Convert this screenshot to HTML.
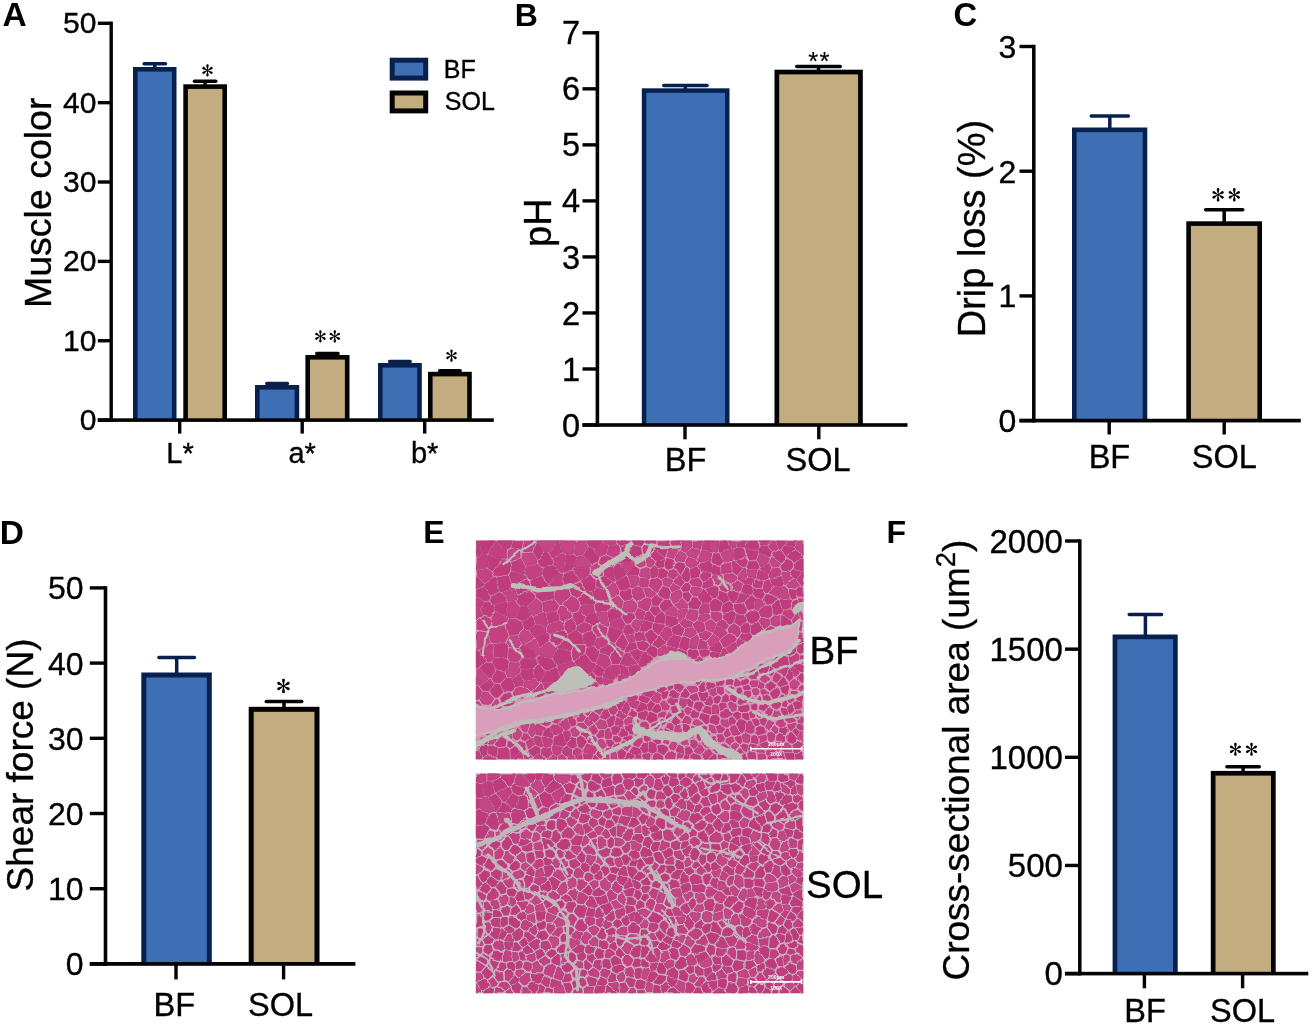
<!DOCTYPE html>
<html><head><meta charset="utf-8"><title>Figure</title>
<style>html,body{margin:0;padding:0;background:#fff;}svg{display:block;will-change:transform;}</style>
</head><body>
<svg width="1316" height="1029" viewBox="0 0 1316 1029">
<rect x="0" y="0" width="1316" height="1029" fill="#ffffff"/>
<text x="2.6" y="26.4" font-family="Liberation Sans" font-size="33.5" font-weight="bold" text-anchor="start" fill="#000">A</text>
<text x="96.4" y="33.4" font-family="Liberation Sans" font-size="30" font-weight="normal" text-anchor="end" fill="#000" stroke="#000" stroke-width="0.35">50</text>
<text x="96.4" y="112.76" font-family="Liberation Sans" font-size="30" font-weight="normal" text-anchor="end" fill="#000" stroke="#000" stroke-width="0.35">40</text>
<text x="96.4" y="192.12" font-family="Liberation Sans" font-size="30" font-weight="normal" text-anchor="end" fill="#000" stroke="#000" stroke-width="0.35">30</text>
<text x="96.4" y="271.48" font-family="Liberation Sans" font-size="30" font-weight="normal" text-anchor="end" fill="#000" stroke="#000" stroke-width="0.35">20</text>
<text x="96.4" y="350.84" font-family="Liberation Sans" font-size="30" font-weight="normal" text-anchor="end" fill="#000" stroke="#000" stroke-width="0.35">10</text>
<text x="96.4" y="430.2" font-family="Liberation Sans" font-size="30" font-weight="normal" text-anchor="end" fill="#000" stroke="#000" stroke-width="0.35">0</text>
<text transform="translate(50.6 202.8) rotate(-90)" font-family="Liberation Sans" font-size="37.5" text-anchor="middle" fill="#000" stroke="#000" stroke-width="0.35">Muscle color</text>
<rect x="133" y="67" width="43.5" height="353" fill="#08204e"/>
<rect x="137.6" y="71.6" width="34.3" height="348.4" fill="#3e6eb3"/>
<rect x="183.3" y="84.3" width="43.7" height="335.7" fill="#030303"/>
<rect x="187.9" y="88.9" width="34.5" height="331.1" fill="#c3ac80"/>
<rect x="255" y="385" width="44.2" height="35" fill="#08204e"/>
<rect x="259.6" y="389.6" width="35" height="30.4" fill="#3e6eb3"/>
<rect x="305.4" y="355" width="44.1" height="65" fill="#030303"/>
<rect x="310" y="359.6" width="34.9" height="60.4" fill="#c3ac80"/>
<rect x="378" y="363" width="43.8" height="57" fill="#08204e"/>
<rect x="382.6" y="367.6" width="34.6" height="52.4" fill="#3e6eb3"/>
<rect x="428" y="371.8" width="43.8" height="48.2" fill="#030303"/>
<rect x="432.6" y="376.4" width="34.6" height="43.6" fill="#c3ac80"/>
<line x1="144.15" y1="63.7" x2="165.45" y2="63.7" stroke="#08204e" stroke-width="3.5" stroke-linecap="round"/>
<rect x="153.05" y="63.7" width="3.5" height="4.3" fill="#08204e"/>
<line x1="194.45" y1="81.2" x2="215.75" y2="81.2" stroke="#030303" stroke-width="3.5" stroke-linecap="round"/>
<rect x="203.35" y="81.2" width="3.5" height="4.1" fill="#030303"/>
<line x1="266.85" y1="383.5" x2="287.35" y2="383.5" stroke="#08204e" stroke-width="3.5" stroke-linecap="round"/>
<line x1="316.75" y1="353.5" x2="338.05" y2="353.5" stroke="#030303" stroke-width="3.5" stroke-linecap="round"/>
<line x1="389.65" y1="361.6" x2="410.15" y2="361.6" stroke="#08204e" stroke-width="3.5" stroke-linecap="round"/>
<line x1="439.65" y1="370.8" x2="460.15" y2="370.8" stroke="#030303" stroke-width="3.5" stroke-linecap="round"/>
<text x="180" y="463.2" font-family="Liberation Sans" font-size="29" font-weight="normal" text-anchor="middle" fill="#000" stroke="#000" stroke-width="0.35">L*</text>
<text x="302.1" y="463.2" font-family="Liberation Sans" font-size="29" font-weight="normal" text-anchor="middle" fill="#000" stroke="#000" stroke-width="0.35">a*</text>
<text x="424.6" y="463.2" font-family="Liberation Sans" font-size="29" font-weight="normal" text-anchor="middle" fill="#000" stroke="#000" stroke-width="0.35">b*</text>
<rect x="389.7" y="57.7" width="38.5" height="22.9" fill="#08204e"/>
<rect x="394.7" y="62.7" width="28.5" height="12.9" fill="#3e6eb3"/>
<rect x="389.7" y="90.5" width="38.5" height="22.9" fill="#030303"/>
<rect x="394.7" y="95.5" width="28.5" height="12.9" fill="#c3ac80"/>
<text x="443.8" y="77.5" font-family="Liberation Sans" font-size="25" font-weight="normal" text-anchor="start" fill="#000" stroke="#000" stroke-width="0.35">BF</text>
<text x="444.8" y="110.3" font-family="Liberation Sans" font-size="25" font-weight="normal" text-anchor="start" fill="#000" stroke="#000" stroke-width="0.35">SOL</text>
<g transform="translate(207.5 70.4)" fill="#000"><path transform="rotate(0)" d="M-0.29 0C-0.46 -2.59 -1.21 -3.7 -1.21 -4.95A1.21 1.21 0 0 1 1.21 -4.95C1.21 -3.7 0.46 -2.59 0.29 0Z"/><path transform="rotate(60)" d="M-0.29 0C-0.46 -2.45 -1.21 -3.51 -1.21 -4.63A1.21 1.21 0 0 1 1.21 -4.63C1.21 -3.51 0.46 -2.45 0.29 0Z"/><path transform="rotate(120)" d="M-0.29 0C-0.46 -2.45 -1.21 -3.51 -1.21 -4.63A1.21 1.21 0 0 1 1.21 -4.63C1.21 -3.51 0.46 -2.45 0.29 0Z"/><path transform="rotate(180)" d="M-0.29 0C-0.46 -2.59 -1.21 -3.7 -1.21 -4.95A1.21 1.21 0 0 1 1.21 -4.95C1.21 -3.7 0.46 -2.59 0.29 0Z"/><path transform="rotate(240)" d="M-0.29 0C-0.46 -2.45 -1.21 -3.51 -1.21 -4.63A1.21 1.21 0 0 1 1.21 -4.63C1.21 -3.51 0.46 -2.45 0.29 0Z"/><path transform="rotate(300)" d="M-0.29 0C-0.46 -2.45 -1.21 -3.51 -1.21 -4.63A1.21 1.21 0 0 1 1.21 -4.63C1.21 -3.51 0.46 -2.45 0.29 0Z"/><circle r="0.92"/></g>
<g transform="translate(320.4 336.3)" fill="#000"><path transform="rotate(0)" d="M-0.29 0C-0.46 -2.59 -1.21 -3.7 -1.21 -4.95A1.21 1.21 0 0 1 1.21 -4.95C1.21 -3.7 0.46 -2.59 0.29 0Z"/><path transform="rotate(60)" d="M-0.29 0C-0.46 -2.45 -1.21 -3.51 -1.21 -4.63A1.21 1.21 0 0 1 1.21 -4.63C1.21 -3.51 0.46 -2.45 0.29 0Z"/><path transform="rotate(120)" d="M-0.29 0C-0.46 -2.45 -1.21 -3.51 -1.21 -4.63A1.21 1.21 0 0 1 1.21 -4.63C1.21 -3.51 0.46 -2.45 0.29 0Z"/><path transform="rotate(180)" d="M-0.29 0C-0.46 -2.59 -1.21 -3.7 -1.21 -4.95A1.21 1.21 0 0 1 1.21 -4.95C1.21 -3.7 0.46 -2.59 0.29 0Z"/><path transform="rotate(240)" d="M-0.29 0C-0.46 -2.45 -1.21 -3.51 -1.21 -4.63A1.21 1.21 0 0 1 1.21 -4.63C1.21 -3.51 0.46 -2.45 0.29 0Z"/><path transform="rotate(300)" d="M-0.29 0C-0.46 -2.45 -1.21 -3.51 -1.21 -4.63A1.21 1.21 0 0 1 1.21 -4.63C1.21 -3.51 0.46 -2.45 0.29 0Z"/><circle r="0.92"/></g>
<g transform="translate(334.8 336.3)" fill="#000"><path transform="rotate(0)" d="M-0.29 0C-0.46 -2.59 -1.21 -3.7 -1.21 -4.95A1.21 1.21 0 0 1 1.21 -4.95C1.21 -3.7 0.46 -2.59 0.29 0Z"/><path transform="rotate(60)" d="M-0.29 0C-0.46 -2.45 -1.21 -3.51 -1.21 -4.63A1.21 1.21 0 0 1 1.21 -4.63C1.21 -3.51 0.46 -2.45 0.29 0Z"/><path transform="rotate(120)" d="M-0.29 0C-0.46 -2.45 -1.21 -3.51 -1.21 -4.63A1.21 1.21 0 0 1 1.21 -4.63C1.21 -3.51 0.46 -2.45 0.29 0Z"/><path transform="rotate(180)" d="M-0.29 0C-0.46 -2.59 -1.21 -3.7 -1.21 -4.95A1.21 1.21 0 0 1 1.21 -4.95C1.21 -3.7 0.46 -2.59 0.29 0Z"/><path transform="rotate(240)" d="M-0.29 0C-0.46 -2.45 -1.21 -3.51 -1.21 -4.63A1.21 1.21 0 0 1 1.21 -4.63C1.21 -3.51 0.46 -2.45 0.29 0Z"/><path transform="rotate(300)" d="M-0.29 0C-0.46 -2.45 -1.21 -3.51 -1.21 -4.63A1.21 1.21 0 0 1 1.21 -4.63C1.21 -3.51 0.46 -2.45 0.29 0Z"/><circle r="0.92"/></g>
<g transform="translate(451.5 355.6)" fill="#000"><path transform="rotate(0)" d="M-0.29 0C-0.46 -2.59 -1.21 -3.7 -1.21 -4.95A1.21 1.21 0 0 1 1.21 -4.95C1.21 -3.7 0.46 -2.59 0.29 0Z"/><path transform="rotate(60)" d="M-0.29 0C-0.46 -2.45 -1.21 -3.51 -1.21 -4.63A1.21 1.21 0 0 1 1.21 -4.63C1.21 -3.51 0.46 -2.45 0.29 0Z"/><path transform="rotate(120)" d="M-0.29 0C-0.46 -2.45 -1.21 -3.51 -1.21 -4.63A1.21 1.21 0 0 1 1.21 -4.63C1.21 -3.51 0.46 -2.45 0.29 0Z"/><path transform="rotate(180)" d="M-0.29 0C-0.46 -2.59 -1.21 -3.7 -1.21 -4.95A1.21 1.21 0 0 1 1.21 -4.95C1.21 -3.7 0.46 -2.59 0.29 0Z"/><path transform="rotate(240)" d="M-0.29 0C-0.46 -2.45 -1.21 -3.51 -1.21 -4.63A1.21 1.21 0 0 1 1.21 -4.63C1.21 -3.51 0.46 -2.45 0.29 0Z"/><path transform="rotate(300)" d="M-0.29 0C-0.46 -2.45 -1.21 -3.51 -1.21 -4.63A1.21 1.21 0 0 1 1.21 -4.63C1.21 -3.51 0.46 -2.45 0.29 0Z"/><circle r="0.92"/></g>
<text x="514.7" y="25.8" font-family="Liberation Sans" font-size="32" font-weight="bold" text-anchor="start" fill="#000">B</text>
<text x="580.1" y="44.4" font-family="Liberation Sans" font-size="32.5" font-weight="normal" text-anchor="end" fill="#000" stroke="#000" stroke-width="0.35">7</text>
<text x="580.1" y="100.43" font-family="Liberation Sans" font-size="32.5" font-weight="normal" text-anchor="end" fill="#000" stroke="#000" stroke-width="0.35">6</text>
<text x="580.1" y="156.46" font-family="Liberation Sans" font-size="32.5" font-weight="normal" text-anchor="end" fill="#000" stroke="#000" stroke-width="0.35">5</text>
<text x="580.1" y="212.49" font-family="Liberation Sans" font-size="32.5" font-weight="normal" text-anchor="end" fill="#000" stroke="#000" stroke-width="0.35">4</text>
<text x="580.1" y="268.52" font-family="Liberation Sans" font-size="32.5" font-weight="normal" text-anchor="end" fill="#000" stroke="#000" stroke-width="0.35">3</text>
<text x="580.1" y="324.55" font-family="Liberation Sans" font-size="32.5" font-weight="normal" text-anchor="end" fill="#000" stroke="#000" stroke-width="0.35">2</text>
<text x="580.1" y="380.58" font-family="Liberation Sans" font-size="32.5" font-weight="normal" text-anchor="end" fill="#000" stroke="#000" stroke-width="0.35">1</text>
<text x="580.1" y="436.61" font-family="Liberation Sans" font-size="32.5" font-weight="normal" text-anchor="end" fill="#000" stroke="#000" stroke-width="0.35">0</text>
<text transform="translate(551.4 222.6) rotate(-90)" font-family="Liberation Sans" font-size="38" text-anchor="middle" fill="#000" stroke="#000" stroke-width="0.35">pH</text>
<rect x="641.8" y="88.3" width="87.7" height="336.7" fill="#08204e"/>
<rect x="646.3" y="92.8" width="78.7" height="332.2" fill="#3e6eb3"/>
<rect x="774.5" y="69.7" width="88.3" height="355.3" fill="#030303"/>
<rect x="779.2" y="74.4" width="78.9" height="350.6" fill="#c3ac80"/>
<line x1="663.75" y1="85.5" x2="707.05" y2="85.5" stroke="#08204e" stroke-width="3.5" stroke-linecap="round"/>
<rect x="683.65" y="85.5" width="3.5" height="3.8" fill="#08204e"/>
<line x1="796.75" y1="66.5" x2="840.25" y2="66.5" stroke="#030303" stroke-width="3.5" stroke-linecap="round"/>
<rect x="816.75" y="66.5" width="3.5" height="4.2" fill="#030303"/>
<text x="685.5" y="471.4" font-family="Liberation Sans" font-size="32.5" font-weight="normal" text-anchor="middle" fill="#000" stroke="#000" stroke-width="0.35">BF</text>
<text x="818" y="471.4" font-family="Liberation Sans" font-size="32.5" font-weight="normal" text-anchor="middle" fill="#000" stroke="#000" stroke-width="0.35">SOL</text>
<text x="813.3" y="70.4" font-family="Liberation Sans" font-size="25.5" font-weight="normal" text-anchor="middle" fill="#000" stroke="#000" stroke-width="0.15">*</text>
<text x="824.4" y="70.4" font-family="Liberation Sans" font-size="25.5" font-weight="normal" text-anchor="middle" fill="#000" stroke="#000" stroke-width="0.15">*</text>
<text x="953.4" y="26.3" font-family="Liberation Sans" font-size="32.8" font-weight="bold" text-anchor="start" fill="#000">C</text>
<text x="1016.3" y="58" font-family="Liberation Sans" font-size="32" font-weight="normal" text-anchor="end" fill="#000" stroke="#000" stroke-width="0.35">3</text>
<text x="1016.3" y="182.7" font-family="Liberation Sans" font-size="32" font-weight="normal" text-anchor="end" fill="#000" stroke="#000" stroke-width="0.35">2</text>
<text x="1016.3" y="307.4" font-family="Liberation Sans" font-size="32" font-weight="normal" text-anchor="end" fill="#000" stroke="#000" stroke-width="0.35">1</text>
<text x="1016.3" y="432.1" font-family="Liberation Sans" font-size="32" font-weight="normal" text-anchor="end" fill="#000" stroke="#000" stroke-width="0.35">0</text>
<text transform="translate(985 228.6) rotate(-90)" font-family="Liberation Sans" font-size="38" text-anchor="middle" fill="#000" stroke="#000" stroke-width="0.35">Drip loss (%)</text>
<rect x="1072" y="127.5" width="75.3" height="293.1" fill="#08204e"/>
<rect x="1076.6" y="132.1" width="66.1" height="288.5" fill="#3e6eb3"/>
<rect x="1186.3" y="221.3" width="75.7" height="199.3" fill="#030303"/>
<rect x="1190.9" y="225.9" width="66.5" height="194.7" fill="#c3ac80"/>
<line x1="1091.25" y1="116" x2="1128.35" y2="116" stroke="#08204e" stroke-width="3.5" stroke-linecap="round"/>
<rect x="1108.05" y="116" width="3.5" height="12.5" fill="#08204e"/>
<line x1="1205.65" y1="209.8" x2="1242.75" y2="209.8" stroke="#030303" stroke-width="3.5" stroke-linecap="round"/>
<rect x="1222.45" y="209.8" width="3.5" height="12.5" fill="#030303"/>
<text x="1109.4" y="468.2" font-family="Liberation Sans" font-size="32.5" font-weight="normal" text-anchor="middle" fill="#000" stroke="#000" stroke-width="0.35">BF</text>
<text x="1224.3" y="468.2" font-family="Liberation Sans" font-size="32.5" font-weight="normal" text-anchor="middle" fill="#000" stroke="#000" stroke-width="0.35">SOL</text>
<g transform="translate(1218.1 194.8)" fill="#000"><path transform="rotate(0)" d="M-0.32 0C-0.5 -2.81 -1.32 -4.02 -1.32 -5.38A1.32 1.32 0 0 1 1.32 -5.38C1.32 -4.02 0.5 -2.81 0.32 0Z"/><path transform="rotate(60)" d="M-0.32 0C-0.5 -2.67 -1.32 -3.81 -1.32 -5.03A1.32 1.32 0 0 1 1.32 -5.03C1.32 -3.81 0.5 -2.67 0.32 0Z"/><path transform="rotate(120)" d="M-0.32 0C-0.5 -2.67 -1.32 -3.81 -1.32 -5.03A1.32 1.32 0 0 1 1.32 -5.03C1.32 -3.81 0.5 -2.67 0.32 0Z"/><path transform="rotate(180)" d="M-0.32 0C-0.5 -2.81 -1.32 -4.02 -1.32 -5.38A1.32 1.32 0 0 1 1.32 -5.38C1.32 -4.02 0.5 -2.81 0.32 0Z"/><path transform="rotate(240)" d="M-0.32 0C-0.5 -2.67 -1.32 -3.81 -1.32 -5.03A1.32 1.32 0 0 1 1.32 -5.03C1.32 -3.81 0.5 -2.67 0.32 0Z"/><path transform="rotate(300)" d="M-0.32 0C-0.5 -2.67 -1.32 -3.81 -1.32 -5.03A1.32 1.32 0 0 1 1.32 -5.03C1.32 -3.81 0.5 -2.67 0.32 0Z"/><circle r="1"/></g>
<g transform="translate(1234.3 194.8)" fill="#000"><path transform="rotate(0)" d="M-0.32 0C-0.5 -2.81 -1.32 -4.02 -1.32 -5.38A1.32 1.32 0 0 1 1.32 -5.38C1.32 -4.02 0.5 -2.81 0.32 0Z"/><path transform="rotate(60)" d="M-0.32 0C-0.5 -2.67 -1.32 -3.81 -1.32 -5.03A1.32 1.32 0 0 1 1.32 -5.03C1.32 -3.81 0.5 -2.67 0.32 0Z"/><path transform="rotate(120)" d="M-0.32 0C-0.5 -2.67 -1.32 -3.81 -1.32 -5.03A1.32 1.32 0 0 1 1.32 -5.03C1.32 -3.81 0.5 -2.67 0.32 0Z"/><path transform="rotate(180)" d="M-0.32 0C-0.5 -2.81 -1.32 -4.02 -1.32 -5.38A1.32 1.32 0 0 1 1.32 -5.38C1.32 -4.02 0.5 -2.81 0.32 0Z"/><path transform="rotate(240)" d="M-0.32 0C-0.5 -2.67 -1.32 -3.81 -1.32 -5.03A1.32 1.32 0 0 1 1.32 -5.03C1.32 -3.81 0.5 -2.67 0.32 0Z"/><path transform="rotate(300)" d="M-0.32 0C-0.5 -2.67 -1.32 -3.81 -1.32 -5.03A1.32 1.32 0 0 1 1.32 -5.03C1.32 -3.81 0.5 -2.67 0.32 0Z"/><circle r="1"/></g>
<text x="-0.2" y="543.9" font-family="Liberation Sans" font-size="33.5" font-weight="bold" text-anchor="start" fill="#000">D</text>
<text x="83.6" y="599.4" font-family="Liberation Sans" font-size="32" font-weight="normal" text-anchor="end" fill="#000" stroke="#000" stroke-width="0.35">50</text>
<text x="83.6" y="674.6" font-family="Liberation Sans" font-size="32" font-weight="normal" text-anchor="end" fill="#000" stroke="#000" stroke-width="0.35">40</text>
<text x="83.6" y="749.8" font-family="Liberation Sans" font-size="32" font-weight="normal" text-anchor="end" fill="#000" stroke="#000" stroke-width="0.35">30</text>
<text x="83.6" y="825" font-family="Liberation Sans" font-size="32" font-weight="normal" text-anchor="end" fill="#000" stroke="#000" stroke-width="0.35">20</text>
<text x="83.6" y="900.2" font-family="Liberation Sans" font-size="32" font-weight="normal" text-anchor="end" fill="#000" stroke="#000" stroke-width="0.35">10</text>
<text x="83.6" y="975.4" font-family="Liberation Sans" font-size="32" font-weight="normal" text-anchor="end" fill="#000" stroke="#000" stroke-width="0.35">0</text>
<text transform="translate(33.3 765) rotate(-90)" font-family="Liberation Sans" font-size="37" text-anchor="middle" fill="#000" stroke="#000" stroke-width="0.35">Shear force (N)</text>
<rect x="141.3" y="672.5" width="70.5" height="291.4" fill="#08204e"/>
<rect x="146.3" y="677.5" width="60.5" height="286.4" fill="#3e6eb3"/>
<rect x="248.7" y="706.8" width="70.8" height="257.1" fill="#030303"/>
<rect x="253.7" y="711.8" width="60.8" height="252.1" fill="#c3ac80"/>
<line x1="158.95" y1="657.6" x2="194.45" y2="657.6" stroke="#08204e" stroke-width="3.5" stroke-linecap="round"/>
<rect x="174.95" y="657.6" width="3.5" height="15.9" fill="#08204e"/>
<line x1="266.25" y1="701.5" x2="301.75" y2="701.5" stroke="#030303" stroke-width="3.5" stroke-linecap="round"/>
<rect x="282.25" y="701.5" width="3.5" height="6.3" fill="#030303"/>
<text x="174.3" y="1015.6" font-family="Liberation Sans" font-size="32.5" font-weight="normal" text-anchor="middle" fill="#000" stroke="#000" stroke-width="0.35">BF</text>
<text x="280.6" y="1015.6" font-family="Liberation Sans" font-size="32.5" font-weight="normal" text-anchor="middle" fill="#000" stroke="#000" stroke-width="0.35">SOL</text>
<g transform="translate(283.5 686)" fill="#000"><path transform="rotate(0)" d="M-0.35 0C-0.55 -3.1 -1.45 -4.42 -1.45 -5.92A1.45 1.45 0 0 1 1.45 -5.92C1.45 -4.42 0.55 -3.1 0.35 0Z"/><path transform="rotate(60)" d="M-0.35 0C-0.55 -2.93 -1.45 -4.19 -1.45 -5.53A1.45 1.45 0 0 1 1.45 -5.53C1.45 -4.19 0.55 -2.93 0.35 0Z"/><path transform="rotate(120)" d="M-0.35 0C-0.55 -2.93 -1.45 -4.19 -1.45 -5.53A1.45 1.45 0 0 1 1.45 -5.53C1.45 -4.19 0.55 -2.93 0.35 0Z"/><path transform="rotate(180)" d="M-0.35 0C-0.55 -3.1 -1.45 -4.42 -1.45 -5.92A1.45 1.45 0 0 1 1.45 -5.92C1.45 -4.42 0.55 -3.1 0.35 0Z"/><path transform="rotate(240)" d="M-0.35 0C-0.55 -2.93 -1.45 -4.19 -1.45 -5.53A1.45 1.45 0 0 1 1.45 -5.53C1.45 -4.19 0.55 -2.93 0.35 0Z"/><path transform="rotate(300)" d="M-0.35 0C-0.55 -2.93 -1.45 -4.19 -1.45 -5.53A1.45 1.45 0 0 1 1.45 -5.53C1.45 -4.19 0.55 -2.93 0.35 0Z"/><circle r="1.1"/></g>
<text x="886.5" y="543" font-family="Liberation Sans" font-size="32" font-weight="bold" text-anchor="start" fill="#000">F</text>
<text x="1062.9" y="552.8" font-family="Liberation Sans" font-size="33" font-weight="normal" text-anchor="end" fill="#000" stroke="#000" stroke-width="0.35">2000</text>
<text x="1062.9" y="660.95" font-family="Liberation Sans" font-size="33" font-weight="normal" text-anchor="end" fill="#000" stroke="#000" stroke-width="0.35">1500</text>
<text x="1062.9" y="769.1" font-family="Liberation Sans" font-size="33" font-weight="normal" text-anchor="end" fill="#000" stroke="#000" stroke-width="0.35">1000</text>
<text x="1062.9" y="877.25" font-family="Liberation Sans" font-size="33" font-weight="normal" text-anchor="end" fill="#000" stroke="#000" stroke-width="0.35">500</text>
<text x="1062.9" y="985.4" font-family="Liberation Sans" font-size="33" font-weight="normal" text-anchor="end" fill="#000" stroke="#000" stroke-width="0.35">0</text>
<text transform="translate(968.7 760.1) rotate(-90)" font-family="Liberation Sans" font-size="37" text-anchor="middle" fill="#000" stroke="#000" stroke-width="0.35">Cross-sectional area (um<tspan font-size="27.5" dy="-13.6">2</tspan><tspan dy="13.6">)</tspan></text>
<rect x="1112.6" y="634.5" width="65.1" height="339.1" fill="#08204e"/>
<rect x="1117.3" y="639.2" width="55.7" height="334.4" fill="#3e6eb3"/>
<rect x="1210.8" y="770.9" width="64.9" height="202.7" fill="#030303"/>
<rect x="1215.5" y="775.6" width="55.5" height="198" fill="#c3ac80"/>
<line x1="1129.25" y1="614.5" x2="1161.55" y2="614.5" stroke="#08204e" stroke-width="3.5" stroke-linecap="round"/>
<rect x="1143.65" y="614.5" width="3.5" height="21" fill="#08204e"/>
<line x1="1226.95" y1="766.8" x2="1259.25" y2="766.8" stroke="#030303" stroke-width="3.5" stroke-linecap="round"/>
<rect x="1241.35" y="766.8" width="3.5" height="5.1" fill="#030303"/>
<text x="1145.1" y="1021.7" font-family="Liberation Sans" font-size="32.5" font-weight="normal" text-anchor="middle" fill="#000" stroke="#000" stroke-width="0.35">BF</text>
<text x="1242.6" y="1021.7" font-family="Liberation Sans" font-size="32.5" font-weight="normal" text-anchor="middle" fill="#000" stroke="#000" stroke-width="0.35">SOL</text>
<g transform="translate(1235.4 749.3)" fill="#000"><path transform="rotate(0)" d="M-0.31 0C-0.49 -2.76 -1.29 -3.94 -1.29 -5.27A1.29 1.29 0 0 1 1.29 -5.27C1.29 -3.94 0.49 -2.76 0.31 0Z"/><path transform="rotate(60)" d="M-0.31 0C-0.49 -2.61 -1.29 -3.73 -1.29 -4.93A1.29 1.29 0 0 1 1.29 -4.93C1.29 -3.73 0.49 -2.61 0.31 0Z"/><path transform="rotate(120)" d="M-0.31 0C-0.49 -2.61 -1.29 -3.73 -1.29 -4.93A1.29 1.29 0 0 1 1.29 -4.93C1.29 -3.73 0.49 -2.61 0.31 0Z"/><path transform="rotate(180)" d="M-0.31 0C-0.49 -2.76 -1.29 -3.94 -1.29 -5.27A1.29 1.29 0 0 1 1.29 -5.27C1.29 -3.94 0.49 -2.76 0.31 0Z"/><path transform="rotate(240)" d="M-0.31 0C-0.49 -2.61 -1.29 -3.73 -1.29 -4.93A1.29 1.29 0 0 1 1.29 -4.93C1.29 -3.73 0.49 -2.61 0.31 0Z"/><path transform="rotate(300)" d="M-0.31 0C-0.49 -2.61 -1.29 -3.73 -1.29 -4.93A1.29 1.29 0 0 1 1.29 -4.93C1.29 -3.73 0.49 -2.61 0.31 0Z"/><circle r="0.98"/></g>
<g transform="translate(1251.5 749.3)" fill="#000"><path transform="rotate(0)" d="M-0.31 0C-0.49 -2.76 -1.29 -3.94 -1.29 -5.27A1.29 1.29 0 0 1 1.29 -5.27C1.29 -3.94 0.49 -2.76 0.31 0Z"/><path transform="rotate(60)" d="M-0.31 0C-0.49 -2.61 -1.29 -3.73 -1.29 -4.93A1.29 1.29 0 0 1 1.29 -4.93C1.29 -3.73 0.49 -2.61 0.31 0Z"/><path transform="rotate(120)" d="M-0.31 0C-0.49 -2.61 -1.29 -3.73 -1.29 -4.93A1.29 1.29 0 0 1 1.29 -4.93C1.29 -3.73 0.49 -2.61 0.31 0Z"/><path transform="rotate(180)" d="M-0.31 0C-0.49 -2.76 -1.29 -3.94 -1.29 -5.27A1.29 1.29 0 0 1 1.29 -5.27C1.29 -3.94 0.49 -2.76 0.31 0Z"/><path transform="rotate(240)" d="M-0.31 0C-0.49 -2.61 -1.29 -3.73 -1.29 -4.93A1.29 1.29 0 0 1 1.29 -4.93C1.29 -3.73 0.49 -2.61 0.31 0Z"/><path transform="rotate(300)" d="M-0.31 0C-0.49 -2.61 -1.29 -3.73 -1.29 -4.93A1.29 1.29 0 0 1 1.29 -4.93C1.29 -3.73 0.49 -2.61 0.31 0Z"/><circle r="0.98"/></g>
<rect x="109.5" y="21.6" width="3.4" height="400.3" fill="#030303"/>
<rect x="97.8" y="418.3" width="396" height="3.6" fill="#030303"/>
<rect x="97.8" y="21.6" width="13.4" height="3.4" fill="#030303"/>
<rect x="97.8" y="100.96" width="13.4" height="3.4" fill="#030303"/>
<rect x="97.8" y="180.32" width="13.4" height="3.4" fill="#030303"/>
<rect x="97.8" y="259.68" width="13.4" height="3.4" fill="#030303"/>
<rect x="97.8" y="339.04" width="13.4" height="3.4" fill="#030303"/>
<rect x="97.8" y="418.4" width="13.4" height="3.4" fill="#030303"/>
<rect x="178" y="420.1" width="3.4" height="13.5" fill="#030303"/>
<rect x="300.5" y="420.1" width="3.4" height="13.5" fill="#030303"/>
<rect x="423" y="420.1" width="3.4" height="13.5" fill="#030303"/>
<rect x="595.6" y="31.1" width="3.6" height="395.7" fill="#030303"/>
<rect x="582.5" y="423.2" width="325" height="3.6" fill="#030303"/>
<rect x="582.5" y="31.1" width="14.9" height="3.4" fill="#030303"/>
<rect x="582.5" y="87.13" width="14.9" height="3.4" fill="#030303"/>
<rect x="582.5" y="143.16" width="14.9" height="3.4" fill="#030303"/>
<rect x="582.5" y="199.19" width="14.9" height="3.4" fill="#030303"/>
<rect x="582.5" y="255.22" width="14.9" height="3.4" fill="#030303"/>
<rect x="582.5" y="311.25" width="14.9" height="3.4" fill="#030303"/>
<rect x="582.5" y="367.28" width="14.9" height="3.4" fill="#030303"/>
<rect x="582.5" y="423.31" width="14.9" height="3.4" fill="#030303"/>
<rect x="683.3" y="425" width="3.4" height="14.3" fill="#030303"/>
<rect x="817.1" y="425" width="3.4" height="14.3" fill="#030303"/>
<rect x="1032.05" y="44.8" width="3.5" height="377.65" fill="#030303"/>
<rect x="1019.5" y="418.75" width="281.3" height="3.7" fill="#030303"/>
<rect x="1019.5" y="44.8" width="14.3" height="3.4" fill="#030303"/>
<rect x="1019.5" y="169.5" width="14.3" height="3.4" fill="#030303"/>
<rect x="1019.5" y="294.2" width="14.3" height="3.4" fill="#030303"/>
<rect x="1019.5" y="418.9" width="14.3" height="3.4" fill="#030303"/>
<rect x="1107.5" y="420.6" width="3.4" height="13.9" fill="#030303"/>
<rect x="1222.5" y="420.6" width="3.4" height="13.9" fill="#030303"/>
<rect x="103.7" y="586.2" width="3.6" height="379.6" fill="#030303"/>
<rect x="89.8" y="962" width="265.6" height="3.8" fill="#030303"/>
<rect x="89.8" y="586.2" width="15.7" height="3.4" fill="#030303"/>
<rect x="89.8" y="661.4" width="15.7" height="3.4" fill="#030303"/>
<rect x="89.8" y="736.6" width="15.7" height="3.4" fill="#030303"/>
<rect x="89.8" y="811.8" width="15.7" height="3.4" fill="#030303"/>
<rect x="89.8" y="887" width="15.7" height="3.4" fill="#030303"/>
<rect x="89.8" y="962.2" width="15.7" height="3.4" fill="#030303"/>
<rect x="174.3" y="963.9" width="3.4" height="15.5" fill="#030303"/>
<rect x="281.9" y="963.9" width="3.4" height="15.5" fill="#030303"/>
<rect x="1078.05" y="539.3" width="3.5" height="436.1" fill="#030303"/>
<rect x="1065" y="971.8" width="243.3" height="3.6" fill="#030303"/>
<rect x="1065" y="539.3" width="14.8" height="3.4" fill="#030303"/>
<rect x="1065" y="647.45" width="14.8" height="3.4" fill="#030303"/>
<rect x="1065" y="755.6" width="14.8" height="3.4" fill="#030303"/>
<rect x="1065" y="863.75" width="14.8" height="3.4" fill="#030303"/>
<rect x="1065" y="971.9" width="14.8" height="3.4" fill="#030303"/>
<rect x="1142.7" y="973.6" width="3.4" height="14.7" fill="#030303"/>
<rect x="1240.9" y="973.6" width="3.4" height="14.7" fill="#030303"/>
<text x="423.2" y="542.8" font-family="Liberation Sans" font-size="32" font-weight="bold" text-anchor="start" fill="#000">E</text>
<text x="809.4" y="664" font-family="Liberation Sans" font-size="38.5" font-weight="normal" text-anchor="start" fill="#000" stroke="#000" stroke-width="0.35">BF</text>
<text x="806" y="897.5" font-family="Liberation Sans" font-size="38.5" font-weight="normal" text-anchor="start" fill="#000" stroke="#000" stroke-width="0.35">SOL</text>
<clipPath id="hc1"><rect x="475.7" y="540.2" width="328.1" height="219.5"/></clipPath><filter id="hb1" x="-3%" y="-3%" width="106%" height="106%"><feTurbulence type="fractalNoise" baseFrequency="0.07" numOctaves="2" seed="4" result="n"/><feDisplacementMap in="SourceGraphic" in2="n" scale="5" xChannelSelector="R" yChannelSelector="G" result="d"/><feGaussianBlur in="d" stdDeviation="0.5"/></filter><g clip-path="url(#hc1)"><g filter="url(#hb1)"><rect x="469.7" y="536.2" width="340.1" height="227.5" fill="#d598b6"/><g stroke="#b63d7c" stroke-width="0.9" stroke-linejoin="round"><polygon points="678.7,735.3 682.1,734.1 684,735.5 684.1,736.8 680,740.3 678.7,739.2" fill="#c64584"/><polygon points="542.6,602.6 553.6,599.4 558.8,605.7 556.3,609.6 546.2,612.6 543.7,611" fill="#c44180"/><polygon points="623.2,611.4 633.1,612.3 637,606.4 636.5,603.6 632.4,600.4 624.7,602 622.2,609.5" fill="#c64584"/><polygon points="562.9,632 551.1,634.8 551.6,639.8 557.1,645 567.1,637.5 567.1,635.2" fill="#bf3b7b"/><polygon points="653.6,754.5 653,758.9 663,758.9 662.5,756.2 657.1,753.1" fill="#c44180"/><polygon points="677,754.2 682.9,754.2 683.3,754.5 682,758.7 676.4,758.7" fill="#c44180"/><polygon points="525.7,679.5 521.7,673.3 522.5,670.3 532.1,670.1 533.8,677.7" fill="#c13a7b"/><polygon points="494.1,656.8 491.3,660.2 486.8,660.5 479.7,650.4 491.6,643.9 493.4,644.9" fill="#c44180"/><polygon points="780.4,677.9 775.5,683.7 772.4,680.9 772.2,679.5 776,673.8" fill="#c23e7e"/><polygon points="643.7,597 640.9,589.1 638.7,587.9 633.4,589.5 633.5,598.8 637.4,601.9" fill="#c44180"/><polygon points="531.7,692.7 531.7,692.8 538,698.5 540.6,698.7 540.9,698.5 544.6,693.2 541.6,684.1 541.5,684 539.9,684" fill="#c23e7e"/><polygon points="595,548.2 589.9,546 587.1,540.5 602.1,540.5 602.2,542.4" fill="#c13a7b"/><polygon points="535.7,598 535,594.7 531.7,592.1 519,595.1 517.8,600.3 521.3,604.7 527.3,606" fill="#c13a7b"/><polygon points="643.1,722.3 639.8,726.5 644.7,730 646.9,729.2 648.3,727.5 648.3,724.5 646.3,722.2" fill="#c44180"/><polygon points="719.8,553 724.6,561.2 720.8,564.3 713.1,563.2 711.7,561 713.9,553.6 713.9,553.6 718.1,552.5" fill="#bf3b7b"/><polygon points="665.9,556.3 673.6,558.4 678.1,550.5 669.9,546.4 669.3,546.9" fill="#c64584"/><polygon points="575.6,568.9 573.8,570.7 579.5,580.2 589.2,573.9 589.2,568.7" fill="#c44180"/><polygon points="595.5,753.4 600.1,758.1 601.3,758.1 603.6,753.5 602.5,750.7 597.4,750.3" fill="#bf3b7b"/><polygon points="523.3,630 518.4,635.1 523.7,644.4 525.1,644.2 532.2,638 532.4,637.4 528.8,631.6" fill="#c64584"/><polygon points="601.1,557.7 599.3,562.7 603.8,566.2 612.6,565.4 615.6,561.9 615.2,559.9 606.4,555.7" fill="#c23e7e"/><polygon points="759.6,681.4 765.1,684.3 764.3,687.8 760,689.1 758.5,687.8" fill="#c44180"/><polygon points="749.7,744.9 749.6,750.9 754.6,751.6 756.8,745.2 750.7,744.2" fill="#c23e7e"/><polygon points="661.3,578.8 658.1,576.8 659.8,569.4 664.2,567.9 667.7,570.7 666.3,575.8" fill="#c13a7b"/><polygon points="785.4,656.4 776.2,656.9 773.3,664.6 776.3,666.9 787.6,664.4 786.2,657.1" fill="#c23e7e"/><polygon points="598.5,624.5 606.5,626.7 604.6,634.1 597.3,635.4 593.2,630.1 593.7,627.6" fill="#c44180"/><polygon points="491.9,728.8 492.6,732.5 488.5,735.7 485.3,733.6 485.8,730.1 489.5,728" fill="#c64584"/><polygon points="652.7,606.5 650,610.1 654.5,615.4 661.3,612.3 659.2,607.8" fill="#c13a7b"/><polygon points="489,617.6 483.1,616.5 477.1,622.1 477.1,629.1 486.6,630.7 491,625.3" fill="#c44180"/><polygon points="510.1,758.6 509.8,751.2 515.6,747.8 520.8,752.7 512.7,758.6" fill="#c13a7b"/><polygon points="623.9,653.4 623.3,652.3 616.5,648.1 610.5,656.9 613.1,662.9 619.8,662.8 619.8,662.8" fill="#c13a7b"/><polygon points="592.7,672.3 589,674 581.6,670.5 580.1,668.6 592.1,662.9 593.8,663.4 594.5,664.4" fill="#c23e7e"/><polygon points="592.4,661.5 585.7,653.2 587,647.1 593.3,646.2 599.2,650.6 599.8,653 594.2,661.9" fill="#c13a7b"/><polygon points="769.5,578.2 769.1,577.9 768.5,574.5 772.5,569 779.1,568.3 780.9,571.5 779.8,575.3" fill="#c44180"/><polygon points="481.8,704.8 479.9,701.8 477,702.1 477,707.4 480,707.9" fill="#c64584"/><polygon points="479.2,686.2 487.4,677.6 479.3,669.7 476,670.1 476,685.4" fill="#c64584"/><polygon points="648.6,699.3 645.4,703.9 639.9,701.6 638.8,699.9 639.8,696.2 642,694.4 648.4,697.6" fill="#bf3b7b"/><polygon points="534,616.7 536.1,623.1 546,627.6 547.5,623.9 545.3,614 542.8,612.4" fill="#c44180"/><polygon points="592.9,752.8 584.3,751.7 583.7,749 587.7,742.8 594,745.2 595.5,748.9 593.3,752.6" fill="#c44180"/><polygon points="591.1,591.9 587.1,591.9 579.6,598.7 581.1,603.9 594.1,604.5 594.7,603.1" fill="#bf3b7b"/><polygon points="621.6,750.5 617.7,752.9 619,758.7 624.3,758.7 625.8,752.1" fill="#bf3b7b"/><polygon points="645.2,733.6 643.2,736.9 645.2,740.8 648.1,741.2 650.1,740 650.4,739.4 647.5,732.8" fill="#c13a7b"/><polygon points="670.4,628.6 665.8,626.8 659.9,634.9 667,640.9 672.5,634.2" fill="#c44180"/><polygon points="611.3,746.4 614,742.9 611.2,739.1 606.6,740.3 607,745.8" fill="#c13a7b"/><polygon points="556.4,713.8 553.3,719 553.8,721.5 558.1,722.3 564,716.7 564,716.4 560,713" fill="#c23e7e"/><polygon points="578.2,625.7 585.3,621.6 591.4,627.2 590.9,629.9 583.8,633.7 577.6,629.5" fill="#c23e7e"/><polygon points="498.6,590.4 490.9,594.6 484.7,586.7 485.3,584 494.1,577.7 496.1,578.7" fill="#bf3b7b"/><polygon points="746.7,568.2 748,569.1 757.2,568.2 757.9,567.6 758.1,566.6 755.8,560.7 749.4,560.8" fill="#bf3b7b"/><polygon points="628.6,667.2 630.2,675.7 639,673.4 640.6,670.7 640.1,666.8 637.7,664.1 637,664" fill="#c23e7e"/><polygon points="573.4,748.6 573.5,753.8 575.3,754.9 581.7,753.2 582.3,752 581.8,749.4 576.9,747.1" fill="#c44180"/><polygon points="739.7,703.6 746.1,702.2 746,699.7 741.3,697.1 740.2,697.7 739,702.4" fill="#bf3b7b"/><polygon points="777.7,712.2 774.8,711.8 771.8,717.3 775.3,719.8 780.1,716.5" fill="#c64584"/><polygon points="484.6,553.1 478.8,540.9 494.9,540.9 495,541.1 488.1,553.4 487.7,553.6" fill="#c13a7b"/><polygon points="548.8,584.6 554.7,589.5 564.4,586.2 562.4,572.3 559.3,571.9 548.7,584.2" fill="#c44180"/><polygon points="495.1,669.6 491.3,662 486.6,662.3 480.1,669 488.2,676.8 490.2,676.9" fill="#c13a7b"/><polygon points="702.9,541.1 693.3,541.1 693.1,546.9 699.5,550.3 700,550" fill="#c44180"/><polygon points="794.8,723.3 794.8,723.4 794.8,727.2 791.7,731.2 789.2,731.2 786.7,725.8 787.1,724.9" fill="#c44180"/><polygon points="586.2,616.1 595.2,611 595.3,610.7 594.3,605.7 581.1,605.1 579.5,609.4" fill="#c44180"/><polygon points="680.7,710 681.7,710.3 684.6,714.8 681.8,718.6 677.4,714.3" fill="#c13a7b"/><polygon points="757.3,716.4 757.2,712.5 759,711.8 761.6,713.4 762,714.8 759,717.1" fill="#c44180"/><polygon points="730.7,734.8 728.1,729 726.3,729.3 723.8,732.3 726.1,736.7" fill="#c23e7e"/><polygon points="511.2,679.1 514.5,687.2 511.9,692 504.2,691.6 500.9,683.9 507.3,677.3" fill="#c13a7b"/><polygon points="749,719.8 747.8,713 742.4,713.8 742.8,719.2 746.1,721.1" fill="#bf3b7b"/><polygon points="716.3,732.1 714.2,726.3 710.1,724.9 708.5,726.1 708.4,729.7 712.3,734 715.2,733.6" fill="#c64584"/><polygon points="525,551.6 523.7,549.6 525.7,541.3 536.5,541.3 536.5,541.6 531,551.1" fill="#c44180"/><polygon points="537.6,658.1 538.2,657 539.5,656.1 552.7,658.1 556.2,665.3 555.8,666.8 546.1,670.3 537.9,663.4" fill="#c13a7b"/><polygon points="592.4,591.3 596,602.6 607.2,598.3 604.2,590.7 595.8,588.1" fill="#c23e7e"/><polygon points="697.7,565.7 698.8,563.1 697.2,559.8 688,557.5 685.6,563.7 687,566.7 690.7,568.1" fill="#c64584"/><polygon points="542,601.3 553,598.1 553.5,590.7 547.8,585.9 536.8,594.4 537.5,597.5" fill="#bf3b7b"/><polygon points="621.1,553.5 618.1,559.5 618.5,561.4 620.1,562.2 631.4,561.1 631.7,559.7 628.8,555.1" fill="#bf3b7b"/><polygon points="672.6,604.3 672.6,604.1 669.1,599.9 664.1,600.2 661,607 663.2,611.6 665.6,612.8" fill="#bf3b7b"/><polygon points="726,562.9 730.8,563.6 730.5,572.1 723.6,574.7 723,574.2 722.2,566" fill="#c44180"/><polygon points="685.3,581.3 680.5,586.6 674.6,582.1 674.5,580.3 679.2,575.5 680,575.5" fill="#c44180"/><polygon points="769.7,624.7 769,618.3 761,618.1 759.1,621.8 763,628.2 764,628.3" fill="#c44180"/><polygon points="748.5,685.1 742.9,687 744.1,690.6 749.7,690.8 750.7,689.1" fill="#c23e7e"/><polygon points="723.5,741 719.9,741.9 719.7,741.8 717.3,735.6 718.3,734.2 722.2,733.6 724.5,738.3" fill="#c44180"/><polygon points="716.8,755.4 713.5,754.2 707.8,759.1 717,759.1" fill="#c13a7b"/><polygon points="721.8,701.3 727.5,701.9 728.4,701.1 728.1,695.9 726,694.3 721.7,696.9" fill="#c13a7b"/><polygon points="661.2,700.5 658.6,694 655.9,692.2 655.4,692.2 650.6,697.4 650.7,699.1 656.8,702.8 659.1,702.5" fill="#c64584"/><polygon points="801.6,571.4 794.7,567.4 794.7,563.5 803.2,558.2 803.2,571" fill="#c13a7b"/><polygon points="541.6,737.2 536.7,736.2 533.8,738.1 536.1,745.8 540.6,747.3 541.4,746.6" fill="#c23e7e"/><polygon points="721.4,552.6 730.7,548.8 733.3,549.8 733.5,560.6 731.4,561.9 726.4,561.2" fill="#c64584"/><polygon points="489.6,601.2 485.5,602.5 481.2,609.3 483.4,614.4 489.8,615.6 493.6,611 493.6,606.3" fill="#bf3b7b"/><polygon points="707.6,639.9 710,645.1 718.9,640.7 718.9,639.8 713,633.7" fill="#c64584"/><polygon points="800.6,732.8 803.1,732.3 803.1,741.6 798,739.3 797.8,738.2" fill="#c64584"/><polygon points="547.2,628.5 547.6,630.9 549.9,633.7 562.6,630.6 561.7,623 558.5,621 548.8,624.8" fill="#c44180"/><polygon points="508.3,576.1 512.9,586.2 514.7,587 525.6,577.3 524.1,574.1 511.2,571.7" fill="#c23e7e"/><polygon points="640,578.1 638.4,586.3 632.9,587.9 631.8,587.3 628.4,578 639.1,576.7" fill="#c64584"/><polygon points="557.7,665.1 571.7,659.9 569.5,653 557.6,649.7 554.1,657.7" fill="#bf3b7b"/><polygon points="600.4,715.7 604.8,709.5 607.1,708.8 610.2,715 604.6,719.2 600.9,717.7" fill="#c23e7e"/><polygon points="527.1,576.7 529.7,578.4 540.4,575.6 542.7,568.4 537.3,562.9 527.3,567.2 525.5,573.5" fill="#c44180"/><polygon points="794.7,751.9 802.5,750.2 802.5,743.8 797.3,741.5 792.9,744.3 794.1,751.4" fill="#c23e7e"/><polygon points="789,588.2 796.2,589.4 799.7,585.6 795.7,580.7 793.4,580.4 786.5,585.6" fill="#c64584"/><polygon points="640.4,737.9 634.8,738 633.7,743.5 633.9,744.1 638.6,745.8 642.6,742" fill="#c44180"/><polygon points="727.5,719.4 722.6,718.7 721.4,723 725.9,727.1 727.9,726.8 728.8,725.9" fill="#c64584"/><polygon points="713.3,599.8 710.1,603.5 712,610.6 720.2,610.4 721.3,602.9 715.3,599.1" fill="#bf3b7b"/><polygon points="525.2,645.8 536.4,656.1 535.8,657.1 521.3,659 521.1,648.9 523.8,646" fill="#bf3b7b"/><polygon points="685.2,753.2 689.4,753.4 692.4,751.2 692.3,749.9 688.6,746 684.1,747.3 684.8,752.8" fill="#bf3b7b"/><polygon points="588.3,689.7 582.8,690 581.9,688.9 584.5,683 588,682.7 589.1,683.5 589.9,687.1" fill="#c44180"/><polygon points="659,704.7 656.9,704.9 652,710.7 657,713.1 660,710.3" fill="#bf3b7b"/><polygon points="717.8,550.7 719,541.1 709,541.1 713.6,551.9" fill="#c64584"/><polygon points="626.2,625.3 622.5,631.6 623.2,634 624.8,634.7 634.2,633.1 635.4,631.2 630.3,624.9" fill="#c13a7b"/><polygon points="663.5,557.2 663.5,557.2 655.8,560.7 651.2,555.9 655.9,551.1" fill="#bf3b7b"/><polygon points="533.9,638.1 540.9,646.8 549.3,640 548.8,634.7 546.4,631.9 534,637.5" fill="#bf3b7b"/><polygon points="701.7,681.9 698.1,676.7 696.1,678.7 695.9,683.2 697.6,684.7" fill="#c23e7e"/><polygon points="634.3,613.3 638.1,607.5 645.3,611.1 642.8,619.9 642.2,620.1 635.6,617.2" fill="#c44180"/><polygon points="595.6,723.8 600.3,719.6 604,721.1 606.4,726.9 604.5,728.7 598.7,728.5" fill="#c64584"/><polygon points="563.2,605.3 571.5,596.5 577.9,599.3 579.5,604.6 578,608.8 572.1,612.1" fill="#c44180"/><polygon points="802.8,610.8 799.4,612.7 800.4,619.1 803.2,620.1 803.2,610.8" fill="#c23e7e"/><polygon points="496.9,727.1 502.6,728.2 503.1,730.5 499.5,734.5 498.6,734.6 495.7,732.4 495,728.7" fill="#c64584"/><polygon points="720.6,640.9 720.6,640 727.8,634.1 735.1,638.4 733.8,642.2 725.1,647 723.9,646.8" fill="#c44180"/><polygon points="661.1,585.1 656.1,591.6 650.4,585.7 651.7,578.9 652.7,578.1 657,578.1 660.2,580.1" fill="#c44180"/><polygon points="705.7,705.4 703.1,711.8 709.8,714.6 710.4,714.2 710.5,706.3" fill="#c23e7e"/><polygon points="715,723.9 710.7,722.6 711.4,716.5 712,716 718.8,715 720.3,717.7 719.2,722" fill="#bf3b7b"/><polygon points="498.2,697.2 502.9,692.2 499.6,684.6 495.1,683.9 490.1,692.5 494.6,697.1" fill="#bf3b7b"/><polygon points="686.4,617.8 693.5,622.6 692.3,627.3 684.7,628.1 680,621.8 680,621.7" fill="#c44180"/><polygon points="504.4,626.6 492.8,626.5 488,632.4 492.3,642.1 494.2,643.1 503.8,641.2 507.2,635" fill="#c44180"/><polygon points="702.6,587 703.3,583 710.2,578 712.8,585.4 704.7,588.2 703.1,587.8" fill="#c23e7e"/><polygon points="571.6,748.5 571.6,753.7 567.2,755.3 563.6,752.9 563.8,747.6 566.1,745.8" fill="#c23e7e"/><polygon points="478.6,649.3 490.9,642.6 486.6,633 476.3,631.2 476.3,649" fill="#c64584"/><polygon points="680.5,635.4 680.3,635.5 673.9,633.8 671.9,628.4 679,623 683.6,629.1" fill="#c13a7b"/><polygon points="745.1,569.4 746.4,570.4 747.7,576.3 742.7,581.3 738,578.2 737.5,576.2 743.5,569.5" fill="#c64584"/><polygon points="774.6,686.8 774.2,685.4 771.2,682.7 767.4,684.5 766.7,687.8 770.1,690.6" fill="#c13a7b"/><polygon points="516.5,601.3 508.1,603.8 508,616.6 508.9,618.2 515.4,617.6 520.1,605.8" fill="#c44180"/><polygon points="658,751.6 663.7,754.8 667.8,749.8 666.8,747 662.2,745 659,746.8" fill="#c13a7b"/><polygon points="709.2,694.2 708.6,692.2 715.4,688 715.9,694.1 712.5,696" fill="#c64584"/><polygon points="757.5,708.9 758.1,705.6 755.8,703.7 751.4,705.5 751.9,708.9 755.3,709.8" fill="#c13a7b"/><polygon points="506.9,575.1 497.2,577.1 495.2,576.1 493.5,571.6 501.7,560.8 505.2,560.1 508.1,562.9 509.7,570.8" fill="#c13a7b"/><polygon points="562.2,734.1 566,742.9 571.6,737.2 568.3,731.1 563.6,731.9" fill="#c23e7e"/><polygon points="761.7,629.2 755.5,636 754.7,635.8 751.2,631.8 751.7,624.2 757.8,622.8" fill="#bf3b7b"/><polygon points="733.7,602.1 735.1,601.5 739.3,592.5 732,589.9 728.9,593.6 730.4,600.3" fill="#c13a7b"/><polygon points="739.2,694.5 735.7,692.5 736.4,688.4 740.2,687.6 740.6,687.9 741.6,691.2 740.3,693.9" fill="#bf3b7b"/><polygon points="701.5,571 710.7,573.5 711.6,564.5 710.1,562.2 700.5,563.5 699.4,566.1" fill="#bf3b7b"/><polygon points="518.1,661.4 519.8,659.3 519.5,649.6 509.2,648.6 508.3,658.5 510.3,661.2" fill="#c44180"/><polygon points="651.6,724.7 656.8,722.5 659.5,727 656.1,729.2 651.6,727.4" fill="#bf3b7b"/><polygon points="577.8,668.9 571,677 573.1,681.9 581.5,680.2 580.4,671.1 578.9,669.3" fill="#c13a7b"/><polygon points="758.8,610.8 765,604.8 762.6,599.8 755.5,599 754.6,608.7" fill="#c64584"/><polygon points="678.6,704 680.7,707.3 681.9,707.6 686,705.7 686.4,699.5 680,698.6 679.1,699.8" fill="#c44180"/><polygon points="488,745.9 483.8,746.2 480.4,749.5 483.2,756.7 488,753.5 488.4,746.2" fill="#bf3b7b"/><polygon points="634,727.5 632,725.7 625.5,726.2 625.2,726.9 628.6,732.6 632,733.2" fill="#c13a7b"/><polygon points="665.4,657.2 667.4,655.8 667.1,645.3 666.7,644.8 658.4,649.2 658.4,655.3" fill="#c64584"/><polygon points="512.2,733.7 512.6,736.8 517.1,739.7 519.6,738.6 520.7,732.9 517.9,729.3 516.7,729.1" fill="#c64584"/><polygon points="734.5,549.5 734.7,560.3 735.6,560.5 744.7,556 744.6,550.2 744.1,549.5 737.6,548.1" fill="#bf3b7b"/><polygon points="756.6,728 754.6,732.3 757.6,734 764.5,732.1 765.4,730.3 763.3,727.2 760.4,726.3" fill="#c13a7b"/><polygon points="585.7,541.1 575.9,541.1 574.2,553.6 577.2,556 583,555.7 588.5,546.6" fill="#c64584"/><polygon points="667.4,713.8 666.7,717.4 669,719.8 670.4,719.6 672.5,715.5 668.7,713.1" fill="#bf3b7b"/><polygon points="512.4,587.7 502.6,592.1 506.6,601.8 508,602.5 516.4,600 517.5,594.8 514.3,588.5" fill="#c64584"/><polygon points="753.4,734.4 756.5,736.1 758.3,742.1 757.6,743.4 757.5,743.5 751.3,742.4 751.9,734.8" fill="#c23e7e"/><polygon points="785,557.1 780.6,550.4 778.7,549.9 774,552.6 772.9,556.3 780.5,561.9 785,557.5" fill="#bf3b7b"/><polygon points="629.4,653.9 637.4,650.4 641.7,653.2 637.7,662.6 637,662.5" fill="#c13a7b"/><polygon points="619.2,563.7 625.7,573.6 625.4,575.7 615.1,579.4 614.1,566.6 617.4,562.7" fill="#c13a7b"/><polygon points="796.7,708.6 802.6,708.8 802.6,704 796.3,701.3 794.3,703.3" fill="#c13a7b"/><polygon points="734.5,603.8 735.9,603.2 743.6,604.5 746.7,610.5 744.4,614 735.8,613.5 734.2,611.2" fill="#c13a7b"/><polygon points="623.4,613.1 632.5,613.9 633.7,617.7 630.2,622.9 626.3,623.3 622.3,617.1" fill="#bf3b7b"/><polygon points="563.2,553.2 565.6,554.8 573,553.6 574.7,540.9 559.3,540.9" fill="#c64584"/><polygon points="719.4,591.2 727.5,593.7 729,600.3 722.3,601.9 716.4,598.1" fill="#c13a7b"/><polygon points="782.8,610.5 778.7,601.3 778.4,601.1 771,606.5 773.6,613.9 780.3,614.9 780.8,614.6" fill="#bf3b7b"/><polygon points="671.8,742.5 669.3,746.1 670.2,748.8 674.1,749.7 677.8,744.1 677.6,743.6 675.9,742.1" fill="#c64584"/><polygon points="797.6,693 795.2,695.6 791.2,692.3 792.2,689.5 796.1,689.8" fill="#c44180"/><polygon points="770,558.8 772.1,557.6 779.5,562.9 778.8,566.6 772.5,567.3 768.8,563.1" fill="#c64584"/><polygon points="781.8,616.5 781.4,616.8 781,626.8 784.9,628.5 790.9,624.2 789.4,619.7" fill="#bf3b7b"/><polygon points="504.8,748.1 508,751.1 508.3,758.8 498.2,758.8 497.6,757.6 498.7,748.6" fill="#c23e7e"/><polygon points="793.6,549.5 793,547.1 787,544.8 781.9,549.6 786.3,556.3" fill="#c13a7b"/><polygon points="677.5,698 678.4,696.8 678.3,695 673.7,691.2 670.4,692.5 670.6,696.8" fill="#c13a7b"/><polygon points="786.8,736.4 786.9,741 791.6,742.3 795.9,739.5 795.7,738.5 791.7,733.6 789.2,733.7" fill="#c13a7b"/><polygon points="548.1,552.1 556.9,540.6 538.7,540.6 538.7,541 545,551.6" fill="#c64584"/><polygon points="560.7,733.2 554.5,735.9 550.4,726.3 552.8,723.8 557.8,724.7 562.1,731" fill="#c44180"/><polygon points="585.1,647.3 583.2,645.6 574,645.8 571.3,652.5 573.4,658.8 574.4,659.4 583.9,653" fill="#c23e7e"/><polygon points="644.5,557.5 641.8,555.7 634.8,560.3 634.6,561.6 635.4,564.1 639.8,567 643.8,565.3" fill="#c64584"/><polygon points="800.6,671.7 803.2,671.5 803.2,664.6 799.1,663.3 793.5,666.4" fill="#c13a7b"/><polygon points="784.3,744.1 783.3,751.5 784,751.9 791.9,751.5 790.7,744.4 785.9,743" fill="#c64584"/><polygon points="544.1,714.6 550,719.5 550.5,722 548.4,724.1 546.2,724.7 540,722.2 543.5,714.9 544,714.6" fill="#c23e7e"/><polygon points="788.3,657 796.3,653.1 799,655.4 798,662.1 792.5,665.2 790.7,665.3 789.6,664.2" fill="#c44180"/><polygon points="787.4,654 786,646.1 793.1,643.8 795.8,645.9 795.4,651 788.1,654.6" fill="#bf3b7b"/><polygon points="599.1,556.9 597.2,562.4 591.7,564.8 584,556.4 589.7,547.1 594.8,549.4" fill="#bf3b7b"/><polygon points="679,648.2 678.6,648.4 674.9,656.7 678.1,660.2 684.1,659.3 686.7,655.8 686.5,651.1" fill="#bf3b7b"/><polygon points="651.1,605.5 648.3,609.2 646.1,609.7 638.9,606.1 638.5,603.4 644.8,598.5 650,599.1" fill="#c44180"/><polygon points="609.5,626.2 608.9,626.7 606.7,635 610,640.7 614.7,642.6 621.6,634.4 620.9,631.9" fill="#c13a7b"/><polygon points="693.9,598.6 688.8,603.3 688.5,607.8 696.6,609 700.3,602.9 697.7,599" fill="#bf3b7b"/><polygon points="623.5,739.6 623.5,738.2 628.4,734.7 631.8,735.4 632.7,737 631.6,742.6" fill="#c13a7b"/><polygon points="795,549.1 803.1,554.6 803.1,541.1 798,541.1 794.5,546.7" fill="#c64584"/><polygon points="538.5,561.9 538.5,559.5 545,553 548.1,553.5 551.9,558.4 551.2,565.3 543.7,567.2" fill="#bf3b7b"/><polygon points="618,733.3 614.1,733.3 611.1,728.3 614.4,726.3 620.1,728.1" fill="#bf3b7b"/><polygon points="668.1,545.6 668.7,545.1 669,540.8 658.2,540.8 658.1,544.8" fill="#c44180"/><polygon points="622.4,709.7 627,713.7 630.8,709.1 628,703.1 627.8,703" fill="#c23e7e"/><polygon points="732.7,734.7 729.9,728.5 730.8,727.6 735.3,726.7 740.2,732.6 740.2,732.7 734.3,735.4" fill="#c44180"/><polygon points="779,548.3 780.9,548.8 785.9,544.1 785,540.9 776.2,540.9" fill="#c23e7e"/><polygon points="769.6,666 765.7,674.5 760.4,675.2 758.5,666.8 761.5,663.9" fill="#bf3b7b"/><polygon points="604,675.4 604.5,676.4 612.4,679.5 614,678.4 610.1,666.8 605.7,668.9" fill="#c23e7e"/><polygon points="633.3,745.9 638.6,747.8 640.4,752.5 640.1,753.1 634.7,755.3 629.8,750.9" fill="#bf3b7b"/><polygon points="757.3,677.6 758.2,675.7 756.5,668.4 748.9,668.9 749.6,675.9 751,677.7" fill="#c23e7e"/><polygon points="767.6,731.7 769.4,731.5 774.8,735.3 774.2,740.6 772.1,742 770.9,742.1 767.5,739.4 766.6,733.5" fill="#c44180"/><polygon points="790.5,712.4 791.5,712.6 795,709.3 792.7,704.2 790.5,704.4 788.4,707.9" fill="#c13a7b"/><polygon points="705,740 703.1,742.8 706.5,745.8 708.4,745.6 709.3,744.3 708.5,740.7" fill="#c23e7e"/><polygon points="782.2,585.6 783,585.1 780.3,576.6 770,579.4 773.4,585.1" fill="#c13a7b"/><polygon points="711.5,613.7 712.2,612.2 720.3,612 722,613.7 721.5,618.3 716.2,621.9 711.9,618.3" fill="#c44180"/><polygon points="702,755.3 703.1,758.4 706.1,758.4 711.9,753.5 708.8,748.7 706.3,749" fill="#c44180"/><polygon points="724.8,581 724.4,576.1 731.2,573.5 735.7,576.8 736.1,578.7 731,583.6" fill="#c64584"/><polygon points="697.8,620.7 695.1,622.9 694,627.6 697.1,632.9 705,628.7 704.4,623.3" fill="#c44180"/><polygon points="750.4,721.9 750.1,721.9 747,723.2 745.9,730.9 750.8,732.3 752.3,731.8 754.4,727.3" fill="#c44180"/><polygon points="694.2,710.1 699.1,713.3 697.7,717.1 693.7,719.1 690.8,715.3" fill="#c23e7e"/><polygon points="673.2,635.3 667.7,642 667.9,643.7 668.2,644.1 677.7,646.9 678,646.8 679.8,637.1" fill="#c23e7e"/><polygon points="685.1,567.4 683.8,564.5 676.2,563.5 674.2,568.8 679.3,573.7 680.2,573.7" fill="#bf3b7b"/><polygon points="740.1,757.6 744.5,754 746.2,754.1 746.7,758.7 740.1,758.7" fill="#c13a7b"/><polygon points="766.3,758.9 766.7,755.7 765.2,753.2 758,754.7 758.4,758.9" fill="#c44180"/><polygon points="688.7,582.5 691.6,586.3 689.5,591.9 683.3,592.3 681.5,589.9 681.7,587.7 686.4,582.6" fill="#c13a7b"/><polygon points="619.8,711.1 616.1,715.7 616.8,717 623.1,719.3 625.9,715.5 625.9,714.9 621.4,711.1" fill="#c44180"/><polygon points="696.4,691 696.4,687.1 694.4,685.4 687.9,685.6 686.9,686.8 691.8,692.5 696.1,691.3" fill="#c64584"/><polygon points="642.4,719.6 638.7,716 639.1,713 646.3,711 647.7,712.2 646,719.5" fill="#bf3b7b"/><polygon points="695.8,634.5 695.8,633.9 692.8,628.8 685.4,629.6 682.5,635.8 689.4,638.7" fill="#c64584"/><polygon points="799.7,694.9 802.7,695.4 802.7,702.1 796.7,699.5 796.8,697.9" fill="#bf3b7b"/><polygon points="553.8,744.9 552.1,746.9 553.4,753.5 557.6,755.9 561.9,752.9 562.1,747.4" fill="#c44180"/><polygon points="756.9,689.5 758.4,690.8 758.9,694.4 756,696.2 752.4,694.6 752,691.9 753,690.2" fill="#c64584"/><polygon points="611.7,713.9 614.4,714.5 618.1,709.8 615.2,705.1 610.8,704.7 609.9,705.2 608.6,707.8" fill="#c44180"/><polygon points="533.3,615.6 542.2,611.2 541.1,602.7 536.5,598.8 528.1,606.8 531.9,615.1" fill="#c64584"/><polygon points="726.1,754.1 726.1,758.5 719.4,758.5 719.2,755.3 721,753.9" fill="#c23e7e"/><polygon points="591.3,590.4 587.1,590.3 580,581.8 580.1,581.3 589.9,574.9 595.2,581.3 594.8,587.1" fill="#c13a7b"/><polygon points="536.1,593.3 547.1,584.9 547.1,584.5 540.9,576.9 530.5,579.6 533,590.8" fill="#bf3b7b"/><polygon points="484,554.4 476.3,558.1 476.3,569.4 487.2,568 487.2,554.9" fill="#c44180"/><polygon points="649.8,643.1 646.7,639.9 646.5,633.9 651.1,630.8 657,635.6 651.3,643" fill="#bf3b7b"/><polygon points="698.9,699.9 695.3,702 690.9,697.5 692.3,694.8 696.6,693.5" fill="#c23e7e"/><polygon points="702.8,589.5 704.5,589.9 712,598.8 708.7,602.6 701.8,602.1 699.1,598.1" fill="#c13a7b"/><polygon points="520.2,621.8 522.1,628.9 517.2,634 508.6,634.2 505.9,625.8 509.1,619.6 515.4,619" fill="#c23e7e"/><polygon points="714.6,702.6 717.7,703.2 719.6,701.5 719.6,697.3 717,695.9 713.7,697.7" fill="#c13a7b"/><polygon points="615.5,580.6 615.2,581.1 620.1,589.9 630.3,587.3 626.8,577.9 625.6,577" fill="#c13a7b"/><polygon points="792.2,607.8 792.5,601.6 797.1,600.1 801.6,608.7 797.9,610.7 796.1,610.6" fill="#c23e7e"/><polygon points="737.3,705.5 737.1,709.3 732.8,711.5 729.1,708.4 729.3,703.8 730.2,703 736.5,704.1" fill="#c64584"/><polygon points="749.1,541.1 757,541.1 759,546.9 757.8,549.6 746.4,549.2 745.9,548.5" fill="#bf3b7b"/><polygon points="562.6,554.5 565,556.1 563.2,570.5 562.7,570.8 559.6,570.5 552.6,565.8 553.3,558.7" fill="#c44180"/><polygon points="505.6,732 509.6,734.2 510,736.9 506.3,739.3 501.9,736.1" fill="#c64584"/><polygon points="586.7,727.8 581.8,730.5 577.8,726.2 579.3,723.6 583.3,723.2 586.9,727.1" fill="#c44180"/><polygon points="583.5,754.1 584.2,758.8 590.4,758.8 591.9,753.9 584.1,752.9" fill="#c23e7e"/><polygon points="577,722.2 576.1,718.9 569.6,715.3 567,716.7 566.9,717.1 571.2,726.1 575.3,725.1" fill="#c13a7b"/><polygon points="782.3,718.7 784.6,723.9 784.3,724.8 780.2,726.6 776.6,724 776.5,722 781.7,718.5" fill="#c44180"/><polygon points="778.5,597.3 779.1,599.1 779.4,599.3 788.4,598.1 787.5,589.4 784.9,586.7 783.8,586.5 782.9,587.1" fill="#c64584"/><polygon points="594.4,722.5 589.2,716.9 593.6,712.3 594.2,712.3 598.6,716.3 599.1,718.2 594.4,722.5" fill="#c44180"/><polygon points="717.3,683 718,684.6 723.3,685.2 723.6,684.9 724,679.8 720.4,678.2 717.9,680" fill="#c23e7e"/><polygon points="776.7,598.1 777.2,599.9 770.1,605 766.6,604 764.2,599 767.2,594 769.5,593.5" fill="#bf3b7b"/><polygon points="631.8,719.2 627.3,716.9 624.6,720.5 625.2,724.5 631.7,723.9" fill="#c64584"/><polygon points="735.3,737.5 740.9,734.9 741.8,742.1 739.5,744.2 735.3,741.8" fill="#bf3b7b"/><polygon points="532.6,617 534.7,623.5 529.1,630.1 523.5,628.5 521.7,621.5 531.2,616.5" fill="#bf3b7b"/><polygon points="520.7,558 522.2,553.2 520.9,551.2 511.7,548.8 508.4,550.9 507.1,558.1 509.8,560.8" fill="#c64584"/><polygon points="686.4,609.6 685.7,616.6 679.4,620.6 677,616.9 678.7,609.2" fill="#c64584"/><polygon points="599.3,739.7 596.1,744.4 597.5,747.8 603,748.2 605.1,745.9 604.7,740.5 603.4,739.4" fill="#c64584"/><polygon points="665.1,615.2 664.3,623.5 653.8,622 655.1,616.6 662.3,613.3 664.8,614.5" fill="#bf3b7b"/><polygon points="777.6,754.2 776.8,758.9 768.9,758.9 769.3,755.6 776,753.5" fill="#c13a7b"/><polygon points="717.3,687.4 717.6,686.9 723.6,687.7 724.7,692.4 720.4,694.9 717.8,693.5" fill="#c44180"/><polygon points="654.3,691.4 649.7,688.1 643.2,689.2 642.5,693.1 649.4,696.6" fill="#c23e7e"/><polygon points="597.3,564.6 592.5,566.7 591.3,568.8 591.3,573.3 595.9,578.9 602.3,575.4 601.5,567.9" fill="#c64584"/><polygon points="699.5,613.6 698,610 701.8,603.6 708.7,604.1 710.6,611.3 709.9,612.9" fill="#c44180"/><polygon points="662.7,702.2 665.2,702.4 668.4,706.2 667.6,710 666,710.9 661.8,709.8 660.7,704.1" fill="#c64584"/><polygon points="645.4,652 650,644.9 651.6,644.8 657,649.1 657,655.2 653.3,658" fill="#bf3b7b"/><polygon points="728.3,630 730.2,625.2 733.3,623.4 739.1,627.2 739.5,632.5 736.9,636.5 736,636.8 728.9,632.7" fill="#c44180"/><polygon points="550.1,641 541.4,647.9 539.7,655 553.2,657.1 556.6,649.1 556.1,646.7" fill="#c64584"/><polygon points="794.4,637.3 794.8,641.2 797.6,643.4 802.7,641.6 802.7,633.3 798.6,632.8" fill="#c23e7e"/><polygon points="784.5,758.5 782.8,753.7 782.2,753.4 779.6,754.2 778.8,758.5" fill="#bf3b7b"/><polygon points="772.7,635.1 776.2,629.1 770.7,626.5 765.7,629.7 770.5,635.4" fill="#bf3b7b"/><polygon points="764.7,712.8 769.8,707.8 772.7,710.9 769.5,716.8 768.2,716.9 765.2,714.7" fill="#c44180"/><polygon points="733.3,715.3 733.8,713.7 738.1,711.5 740.4,713.3 740.7,718.7 736.9,720.6" fill="#c13a7b"/><polygon points="740.3,668.8 745.5,668.3 745.9,668.6 746.5,675.3 741,677.3 738.4,675.3" fill="#c64584"/><polygon points="681.9,593.7 680,591.2 672.1,594 670.5,598.5 674,602.8 681.6,597.5" fill="#c64584"/><polygon points="720.7,551.4 729.9,547.7 726.9,541 720.2,541 719,550.8" fill="#c13a7b"/><polygon points="484.2,583.9 476.1,575.5 476.1,590.1 483.5,586.6" fill="#c23e7e"/><polygon points="542.8,682 542.6,681.9 546.5,671.6 556.5,668 559.7,675.7 556.6,682.2" fill="#c13a7b"/><polygon points="545.2,758 551.5,753.6 550.2,747.3 542.7,748.3 541.9,749 541.9,753.3" fill="#c23e7e"/><polygon points="681.5,549.4 683.1,541 691.7,541 691.5,547 686,551.4" fill="#c64584"/><polygon points="664.9,729.6 665.4,729.4 670.1,731.9 667.7,735.1 665.2,734.9" fill="#c64584"/><polygon points="621.7,612.2 620.4,616.5 610.7,621.9 608.2,612.7 611.9,608.1 620.7,610.3" fill="#c13a7b"/><polygon points="745.1,567.7 747.7,560.3 745.2,557.5 736.6,561.7 743.6,567.7" fill="#c13a7b"/><polygon points="643.6,621.5 650.6,624.1 650.4,629.1 645.8,632.2 639.8,629.9 643,621.7" fill="#c13a7b"/><polygon points="587.4,730.1 582.8,732.7 582.5,735.6 586.5,738.7 589.8,734.2" fill="#c13a7b"/><polygon points="620.7,675.3 627.9,677.7 627.7,679.6 621.2,682.7 616.9,678.9" fill="#c44180"/><polygon points="699.7,718 704.3,723.3 706.9,723.7 708.5,722.6 709.2,716.3 702.4,713.5 701.1,713.9" fill="#c13a7b"/><polygon points="768.5,719.8 765.6,725.8 767.6,728.8 769.3,728.6 773.7,724.4 773.6,722.4 769.9,719.7" fill="#c64584"/><polygon points="801.4,685.5 802.8,685.4 802.8,692.3 800.2,691.8 798.7,688.4" fill="#c44180"/><polygon points="609.4,547.1 616.6,544.6 619,547.6 619.7,552.2 616.5,558.6 607.1,554.1" fill="#c44180"/><polygon points="605.7,720.5 608.2,726.3 610.1,726.7 613.6,724.6 614.9,718.2 614.1,716.9 611.5,716.2" fill="#c23e7e"/><polygon points="552.2,739.3 543.3,736.9 543,737.1 542.8,746.7 550.7,745.6 552.4,743.7" fill="#c44180"/><polygon points="570.1,730.8 572,728.4 575.9,727.5 580.2,732.1 579.9,735.5 576.2,737.3 573.1,736.5" fill="#c64584"/><polygon points="796.7,721.9 796.8,722 802.3,723.5 802.3,716.4 796.8,721" fill="#c44180"/><polygon points="752.6,587.4 744,584.8 741.7,591.6 749.6,595.5 751.8,595 753.3,589" fill="#bf3b7b"/><polygon points="733.3,684.2 735.3,685.8 739.6,684.9 739.2,680.2 736.4,678 734.3,678.8" fill="#c44180"/><polygon points="526.1,680.6 534.2,678.8 539.1,682.4 530.1,692 524.3,685.9" fill="#c64584"/><polygon points="771.1,699.9 769.3,703.3 765.1,701.8 764.2,697.5 768.9,696.1" fill="#c23e7e"/><polygon points="756.7,578.3 764.2,579.8 767.3,578.1 766.8,574.7 759.3,569 758.6,569.6" fill="#c23e7e"/><polygon points="533.1,756.6 528.6,750.9 529,750 535.4,747.3 540,748.8 539.9,753.3" fill="#c13a7b"/><polygon points="712.1,706 712,713.9 718.9,712.9 719.5,711.4 717.5,705.4 714.2,704.8" fill="#c64584"/><polygon points="727.1,751.5 721.9,751.4 721.4,744.8 724.6,744 727.9,746.7 728.2,750.6" fill="#c64584"/><polygon points="794.8,758.9 802.8,758.9 802.8,752 795.1,753.7" fill="#c13a7b"/><polygon points="496.7,540.8 506.8,549.4 510.4,547.1 512.3,540.6 496.7,540.6" fill="#c23e7e"/><polygon points="765.6,749 769.6,743.5 766.2,740.9 760.3,743.1 759.6,744.4" fill="#c13a7b"/><polygon points="778.6,752.2 781.5,751.3 782.4,744.3 775.8,742.9 773.8,744.3 777,751.5" fill="#c13a7b"/><polygon points="670.1,710.7 674.4,713.6 675.4,713.3 678.8,708.8 676.9,705.7 670.8,707.1" fill="#c23e7e"/><polygon points="762.4,598.2 765.5,593.2 761.8,589 754.8,589.5 753.3,595.5 755.5,597.5" fill="#bf3b7b"/><polygon points="596.5,586.8 596.9,581.4 603.9,577.6 612.5,581.2 604.5,589.2" fill="#c13a7b"/><polygon points="652.7,605 651.6,598.5 656.2,594.4 662.5,599.4 659.4,606.3" fill="#c13a7b"/><polygon points="566,756.5 566.1,759.1 558.9,759.1 559,756.9 562.7,754.3" fill="#c64584"/><polygon points="798.1,596.7 797.4,590.5 800.8,586.7 803.2,586.9 803.2,595.5" fill="#c13a7b"/><polygon points="665.2,558.2 665.2,558.2 665.1,566.3 668.6,569.1 672.4,567.8 674.4,562.5 673.1,560.1 665.5,558" fill="#c13a7b"/><polygon points="496.1,759.4 495.6,758.3 488.7,754.9 483.9,758.1 483.4,759.4" fill="#bf3b7b"/><polygon points="731.5,736.9 726.8,738.8 725.7,741.5 729.4,744.5 733.1,741.8 733.1,737.5" fill="#c44180"/><polygon points="560.1,604.7 561.9,604.6 570.4,595.5 568.1,589.2 564.8,587.4 555.2,590.7 554.7,598.3" fill="#c44180"/><polygon points="784.2,584.4 781.4,576 782.5,572.2 789.1,572.6 792.3,579.3 785.3,584.6" fill="#c64584"/><polygon points="586.5,617.1 595.4,612.1 597.6,622.9 592.3,626.2 586.1,620.6" fill="#bf3b7b"/><polygon points="651.7,742.2 657.2,746.5 656.2,751.5 652.5,753 649.7,751.3 649.3,743.6" fill="#bf3b7b"/><polygon points="526.6,730.9 529.1,725.3 524.2,724.1 519.7,727.9 522.5,731.4" fill="#c64584"/><polygon points="760.8,547.6 766.5,547.1 772.1,552.1 770.9,555.9 768.7,557.1 760,553.3 759.6,550.4" fill="#bf3b7b"/><polygon points="734.1,751.3 738.2,747.2 738.2,746.1 734.2,743.9 730.7,746.4 731,750.6" fill="#c64584"/><polygon points="545.5,727.1 542.3,735.2 541.9,735.4 537,734.3 536.2,724.8 538.1,724.3" fill="#c44180"/><polygon points="607,613.2 596.8,611.5 596.7,611.9 598.8,622.8 608,625.2 608.6,624.8 609.5,622.5" fill="#c64584"/><polygon points="674.5,753.9 673.8,758.6 665.9,758.6 665.4,755.9 669.3,751.2 673.3,752.2" fill="#c44180"/><polygon points="779.5,706.6 779.4,703.5 775.9,701.1 773.7,701.7 771.9,705 772,705.5 774.7,708.4 777.6,708.9" fill="#c23e7e"/><polygon points="777.5,627.4 779.4,626.7 779.8,616.6 773.3,615.7 770.7,618.1 771.4,624.4" fill="#c64584"/><polygon points="657.1,690.6 659.5,684.7 664.8,685.6 665.4,689.9 659.6,692.3" fill="#c23e7e"/><polygon points="493.7,735.1 489.4,738.4 489.6,743.9 489.9,744.1 494.4,744.1 496.8,737.5" fill="#c64584"/><polygon points="501.3,592.4 505.2,602 494.5,605.2 490.5,600.1 491.5,595.9 499.2,591.7" fill="#c23e7e"/><polygon points="600,649.3 608.7,641.5 605.4,636 597.4,637.4 594.2,645.1" fill="#c44180"/><polygon points="577,668.2 573.2,661.3 572.1,660.7 558.1,665.9 557.7,667.3 560.9,675 570.1,676.6" fill="#c44180"/><polygon points="701.9,737.7 700,740.5 699,740.5 697,738.5 697.4,735.5 698.7,734.7 701.5,735.8" fill="#c23e7e"/><polygon points="683.3,725.2 683.3,725.1 689.8,725.7 689.2,730.4 686,732.5 683.7,730.9" fill="#bf3b7b"/><polygon points="604.8,737.3 606.2,738.4 610.9,737.2 612.7,734.2 609.5,728.9 607.7,728.6 605.8,730.3" fill="#c44180"/><polygon points="777.5,596.7 781.7,586.9 773.2,586.3 770.4,592.1" fill="#c44180"/><polygon points="792.8,563.5 792.7,567.3 789.1,570.7 782.7,570.4 780.9,567.2 781.6,563.4 786,559.1" fill="#c13a7b"/><polygon points="620.6,608.7 623,601.7 618.5,596.2 610.2,599.8 612.4,606.7" fill="#c64584"/><polygon points="572,617.4 572.7,613.6 578.5,610.3 585,616.8 584.5,620.3 577.4,624.4" fill="#c23e7e"/><polygon points="784,609.5 780.2,600.8 788.8,599.7 790.6,600.7 790.3,607.4" fill="#c13a7b"/><polygon points="599.5,684.2 596.6,680.7 597.8,677.3 602.9,676.4 603.4,677.2 602.6,683.5" fill="#c23e7e"/><polygon points="694.7,750.7 700.4,754.1 704.7,747.8 700.2,743.8 698.8,743.9 694.7,749.4" fill="#c64584"/><polygon points="560.3,606.5 562,606.4 570.9,613.1 570.3,617 562.7,621.4 559.5,619.5 557.8,610.3" fill="#c44180"/><polygon points="712.9,565.2 712.1,573.9 712.2,574 721.4,574.5 720.7,566.3" fill="#bf3b7b"/><polygon points="801,584.8 796.9,579.7 801.9,573.1 803.5,572.8 803.5,585" fill="#c23e7e"/><polygon points="482,745 477.2,739.4 476.4,739.3 476.4,747.8 479.1,747.9" fill="#bf3b7b"/><polygon points="577.6,745.4 582.5,747.8 586.3,741.8 586,740.9 581.2,737.2 577.4,739.1" fill="#c13a7b"/><polygon points="492.7,708.1 491.2,705 494.8,699.8 497.7,699.8 500.9,705.4 498.4,708.4" fill="#c64584"/><polygon points="702.5,702.7 700.1,702 696.3,704.2 695.1,708 695.1,708.1 700.1,711.3 701.2,710.9 703.8,704.6" fill="#c13a7b"/><polygon points="757.5,620.9 751.3,622.3 748.1,620.4 746.2,615.1 748.5,611.4 753.7,610.2 758,612.3 759.5,617.1" fill="#c13a7b"/><polygon points="662.9,699.7 660.7,694 666.3,691.7 668,692.8 668.2,696.9 665.3,699.8" fill="#c13a7b"/><polygon points="786.6,706.4 788.5,703.4 785.7,701 782.6,703.2 782.8,706.2" fill="#c23e7e"/><polygon points="689.1,716.7 692,720.5 691.1,723.2 690.7,723.6 683.6,722.9 683.5,720.9 686.6,716.6" fill="#c44180"/><polygon points="690.8,577.8 688.9,580.4 686.6,580.5 681.4,574.8 686.4,568.5 689.9,569.9" fill="#bf3b7b"/><polygon points="672.8,580.6 667,577.1 662,580.1 662.9,585 668.3,586.8 672.9,582.3" fill="#c64584"/><polygon points="699.9,639.2 706,640.8 708.3,645.8 707.7,648 700.5,648.8 699,647.6" fill="#c23e7e"/><polygon points="792.6,678.1 788.9,681.2 785,677.3 789.8,668.9" fill="#bf3b7b"/><polygon points="674.4,731 676,726.2 680.9,725.4 681.4,731.2 677.1,732.8" fill="#c64584"/><polygon points="620.7,591.4 630.7,588.8 631.8,589.4 631.9,598.9 624.5,600.5 619.9,594.8" fill="#c13a7b"/><polygon points="703.4,700.1 700.9,699.4 698.5,692.8 698.7,692.4 706.3,692.5 706.5,692.6 707.1,694.7" fill="#c13a7b"/><polygon points="790.3,715.1 791.2,715.3 794.3,720.4 794.2,721.3 787.2,722.8 784.9,717.7" fill="#c44180"/><polygon points="717.7,588.3 714.2,586.4 706,589.4 713.1,597.9 715.1,597.2 718.1,590.5" fill="#c13a7b"/><polygon points="476.2,687.2 476.2,699.4 480.1,699 482.9,692.2 479.2,687.9" fill="#c44180"/><polygon points="507.8,619 504.5,625.2 493,625.1 490.9,616.7 494.7,612 506.8,617.3" fill="#c44180"/><polygon points="635.9,709.2 638.2,702.7 637.1,701 629.4,702.7 632.1,708.4" fill="#c44180"/><polygon points="753.4,636.8 746.8,642 738.5,637.4 741.2,633.3 749.9,632.7" fill="#c23e7e"/><polygon points="491.7,572.1 493.4,576.7 484.7,582.9 476.7,574.5 476.7,570.7 487.5,569.3" fill="#c44180"/><polygon points="587.8,681.5 584.2,681.8 582.4,680.4 581.4,671.8 588.3,675.2" fill="#c44180"/><polygon points="652.8,643.6 658.5,636.2 659.1,636.1 665.9,641.9 666,643.5 658,647.7" fill="#c13a7b"/><polygon points="508.8,662.1 506.8,659.3 495.3,657.9 492.4,661.5 496.3,669 504.8,670.3" fill="#c13a7b"/><polygon points="698.1,719.5 701.9,723.9 698.2,725.8 693.9,723.6 694.6,721.2" fill="#c64584"/><polygon points="653.8,547.5 645.3,545.6 643,548.4 643.9,553 646.6,554.8 649.5,554.6 653.8,550.2" fill="#c13a7b"/><polygon points="653.4,741 657.7,744.4 660.4,742.9 660.5,739.1 657.1,737.7 653.6,740.3" fill="#c13a7b"/><polygon points="779.4,688.5 788,685.4 789.6,688.3 788.3,692 785.8,693.7 781.3,692.3" fill="#bf3b7b"/><polygon points="520.3,672.9 511.7,677.7 507.8,675.9 505.9,671 510,662.7 518.3,662.9 521.2,669.8" fill="#c64584"/><polygon points="641.1,665.8 652,661.7 652.5,659.1 644.5,653 642.9,653.4 638.7,663.1" fill="#c13a7b"/><polygon points="799.8,683.6 796.5,687.2 791.4,686.8 789.9,683.9 790,682.8 793.7,679.6 796.1,679.7" fill="#c64584"/><polygon points="642.4,651.7 638.2,648.9 637.2,642.8 637.4,642.4 645.4,641.2 648.5,644.4 644,651.3" fill="#c13a7b"/><polygon points="619,744.6 615.6,744.6 613.4,747.5 615.5,750.6 616.7,750.9 619.9,748.9" fill="#c23e7e"/><polygon points="790.4,701.5 787.7,699.1 787.6,696.2 789.7,694.7 793.9,698.2 793.9,699.6 792.3,701.3" fill="#c64584"/><polygon points="675.3,716.5 676.2,716.3 680.8,720.8 680.9,722.8 680.8,722.9 675.9,723.8 672.9,721.2" fill="#bf3b7b"/><polygon points="693.4,748.2 697.4,742.8 694.8,740.1 690.2,740.7 689.8,744.4" fill="#c23e7e"/><polygon points="496.1,541.4 506.5,550.3 505.1,558.5 501.5,559.2 489,554.1" fill="#c44180"/><polygon points="726.7,687.5 726.4,687.8 727.3,691.7 729.1,693 732.2,691.9 732.9,688 731.2,686.7" fill="#c44180"/><polygon points="618.2,540.7 630.2,540.7 630.4,543.5 620.3,546.4 618.1,543.7" fill="#c23e7e"/><polygon points="571.7,687.2 571.9,682.8 569.9,677.9 560.9,676.4 558,682.7 559,685.8 569.3,690.3" fill="#c13a7b"/><polygon points="777,689.3 778.9,693 775.7,697.9 773.1,698.5 770.6,694.1 770.9,692.4 775.7,688.4" fill="#c23e7e"/><polygon points="649.8,700.8 646.6,705.4 647.6,709.4 649,710.6 650.4,710.5 655.6,704.3" fill="#c13a7b"/><polygon points="720.5,652.1 720.8,658.2 726.3,659.3 729.6,654.6 724.8,648.7 723.6,648.5" fill="#c44180"/><polygon points="706.1,623.3 706.8,628.6 712.6,631.2 715.7,626.4 715.4,623.3 711.2,619.7" fill="#c64584"/><polygon points="591.8,735.7 588.7,740.1 589,740.9 593.9,742.8 596.6,738.7 594.8,735.9" fill="#c13a7b"/><polygon points="524.4,743 526.5,749 526.1,749.8 523.3,751.1 522.4,751 517.8,746.5 518.6,742.7 521,741.7" fill="#c23e7e"/><polygon points="511.4,570.5 509.8,562.6 521.7,559.5 526.1,566.7 524.3,572.9" fill="#c23e7e"/><polygon points="517,635.8 508.8,636 505.7,641.8 509.1,646.7 519.4,647.7 522.1,644.8" fill="#c64584"/><polygon points="701,588.2 693.5,587 691.3,592.7 694.3,596.7 698,597.1 701.5,589" fill="#c64584"/><polygon points="713.7,632.6 719.7,638.9 726.9,633 726.4,630.2 716.8,627.3 713.6,632.2" fill="#c44180"/><polygon points="646.7,611.5 644.1,620.2 651.2,622.8 652.2,621.9 653.5,616.6 648.9,611.1" fill="#bf3b7b"/><polygon points="576.5,630.4 582.9,634.8 583.4,643.8 573.6,644 569.2,637.5 569.2,635.1" fill="#c13a7b"/><polygon points="633.9,546.7 630.8,553.9 633.8,558.6 641.6,553.5 640.6,548.5" fill="#bf3b7b"/><polygon points="683.4,744.9 687.1,743.9 687.4,740.8 685.6,738.8 680.9,742.8 681,743.2" fill="#c64584"/><polygon points="757.1,559.7 759.5,565.9 767.1,562.8 768.3,558.2 759.6,554.3" fill="#c64584"/><polygon points="623.3,741.9 630.7,744.7 630.8,745.2 627.8,749.5 626.7,749.9 623,748.5 622,743.8" fill="#c23e7e"/><polygon points="580.8,688.7 583.5,682.7 581.5,681.2 573.4,682.9 573.1,687.3" fill="#bf3b7b"/><polygon points="589.2,728.4 591.8,732.9 595.2,733.1 596.9,729.2 594,724.7 594,724.7 589.4,727.7" fill="#c23e7e"/><polygon points="746.6,556.1 746.4,550.6 757.7,550.9 758.1,553.7 755.7,558.8 749.2,558.9" fill="#c13a7b"/><polygon points="692.2,578.8 690.3,581.5 693.3,585.5 701,586.7 701.7,582.5 698.5,577.5" fill="#c44180"/><polygon points="600.8,650.1 609.5,642.3 614.2,644.1 615.3,646.7 609.1,655.9 601.4,652.4" fill="#c23e7e"/><polygon points="738.2,546.8 738.7,540.9 747.5,540.9 744.3,548.2" fill="#c23e7e"/><polygon points="647.6,720.1 649.4,712.3 650.9,712.2 656.3,714.9 657.4,719 657,719.9 650,722.9" fill="#bf3b7b"/><polygon points="785.1,734.8 780.4,732.4 780.9,728.8 785,726.9 787.4,732.1" fill="#bf3b7b"/><polygon points="740.9,747.3 744.9,751.6 746.8,751.7 747.8,751 747.9,745.2 743.3,744.1 741,746.2" fill="#c44180"/><polygon points="739.2,651.2 735.7,642.7 737,639 737.9,638.6 746.1,643.2 746.5,651.2 745.9,651.6" fill="#c44180"/><polygon points="784.5,736.6 784.6,741 783.1,742.1 776.4,740.8 777.1,735.7 779.6,734.1" fill="#c23e7e"/><polygon points="620.1,708.7 617.3,704.3 620.1,701.5 626.1,702.4 626.4,702.7 621.6,708.7" fill="#c13a7b"/><polygon points="680.7,551 679.6,551.3 675.1,559.1 676.4,561.5 684,562.6 686.4,556.5 685.1,552.9" fill="#c64584"/><polygon points="691.3,759 700.8,759 699.7,755.7 693.9,752.3 690.8,754.6" fill="#bf3b7b"/><polygon points="675.7,617.8 666.5,615.8 665.7,624.1 666.4,625.4 670.9,627.2 678.2,621.7 678.2,621.6" fill="#bf3b7b"/><polygon points="698,634.7 698,634 705.8,629.9 711.5,632.6 711.6,632.9 706.2,639.1 700,637.4" fill="#c44180"/><polygon points="620.3,563.3 632.4,562.1 633.5,565 626.5,572.9" fill="#c64584"/><polygon points="646.1,543.9 654.7,545.8 655.6,544.7 655.7,540.9 646.2,540.9" fill="#c23e7e"/><polygon points="648.5,752.7 642.4,753.4 642.2,753.9 643.4,758.7 650.4,758.7 651.1,754.3" fill="#bf3b7b"/><polygon points="759.7,702.6 762,701.4 761.3,698 760.1,697.3 757.9,698.7 757.8,701.1" fill="#c23e7e"/><polygon points="745,733 742.6,733.9 742.5,734 743.5,741.7 748.3,742.8 749.4,742 749.9,734.3" fill="#c64584"/><polygon points="692.6,709.1 689.3,714.2 686.7,714.1 683.6,709.2 687.5,707.4 692.6,709" fill="#c64584"/><polygon points="800.2,653.4 803.1,653.5 803.1,643.9 798,645.7 797.6,651.2" fill="#bf3b7b"/><polygon points="507.1,576.7 497.3,578.7 499.8,590.3 502,591.1 511.6,586.7" fill="#bf3b7b"/><polygon points="666.6,722.3 664,725.9 663.4,726 662.4,725.8 659.8,721.4 660,720.8 664.4,720" fill="#c13a7b"/><polygon points="637.1,640.7 645.1,639.6 644.9,633.5 639,631.2 637,631.8 635.8,633.7" fill="#c23e7e"/><polygon points="610.5,748.5 612.6,751.6 609.3,753.9 606.2,752.3 605.3,749.9 607,748.1" fill="#c64584"/><polygon points="712,553.4 700.9,551.6 700.4,551.9 698.7,558.8 700.3,562.1 709.8,560.8" fill="#c64584"/><polygon points="746.5,620.8 740,625.8 734,621.8 735.8,614.9 744.6,615.5" fill="#c13a7b"/><polygon points="636.2,715.5 636.5,712.9 635.2,711.3 631.9,710.7 628.7,714.6 628.8,715.2 632.9,717.3" fill="#c13a7b"/><polygon points="605.2,667.8 609.8,665.7 611.5,663.8 608.7,657.3 600.8,653.7 595.1,662.8 595.8,663.8" fill="#c44180"/><polygon points="738.7,756.3 743.1,752.7 739.6,749 735.8,752.8" fill="#bf3b7b"/><polygon points="476,650.7 478.4,651 485.8,661.5 479.2,668.1 476,668.5" fill="#bf3b7b"/><polygon points="769,591.3 766.8,591.9 763.1,587.7 765,581.4 768.2,579.7 768.6,579.9 771.9,585.5" fill="#c23e7e"/><polygon points="503.9,704.5 507.7,705.1 512.5,702.5 513.9,699.8 511.3,694.3 504.5,693.9 500.3,698.4" fill="#bf3b7b"/><polygon points="718.2,585.8 722.4,581.1 722,576.6 721.4,576.1 712.9,575.7 712.5,577.2 715.1,584.1" fill="#c64584"/><polygon points="749.2,709.4 747.7,710.9 742.2,711.7 739.8,709.8 740,705.8 747.4,704.2 748.6,705.4" fill="#bf3b7b"/><polygon points="627.8,642.9 624,636.3 622.4,635.6 615.9,643.3 617.1,645.9 623.9,650.1" fill="#c13a7b"/><polygon points="655.7,564.9 656.2,562 663.5,558.7 663.5,566.4 659.3,567.8" fill="#c13a7b"/><polygon points="795.9,625.5 799,630.1 802.9,630.6 802.9,623.2 799.9,622.2" fill="#bf3b7b"/><polygon points="696.5,635.8 690,640 689.7,648 697.6,647.2 698.5,638.6" fill="#c64584"/><polygon points="523.2,687.2 516.1,688.3 513.7,692.9 516.4,698.8 522.7,699 528.8,693 528.8,693" fill="#c64584"/><polygon points="623.6,727.6 621.6,728.6 619.6,733.8 622.2,736.9 627.1,733.4" fill="#c13a7b"/><polygon points="506.2,676.5 499.9,682.9 495.3,682.2 491.3,677.5 496.1,670.5 504.4,671.7" fill="#c23e7e"/><polygon points="797,723.9 797,727.4 800.4,730.4 802.7,730 802.7,725.4" fill="#c13a7b"/><polygon points="651.1,576.7 648.6,568.9 645.3,567.6 640.9,569.5 640.6,575.5 641.5,576.8 650.1,577.5" fill="#c64584"/><polygon points="736.5,701.9 730.4,700.8 730.2,695.9 733.9,694.6 737.8,696.8" fill="#c13a7b"/><polygon points="723.9,614 732.7,612.5 734.3,614.7 732.6,621.4 729.5,623.2 723.5,618.5" fill="#c13a7b"/><polygon points="700.1,576.6 703.2,581.5 710.2,576.4 710.6,574.8 710.5,574.7 701.8,572.4" fill="#c23e7e"/><polygon points="596.3,676.9 595.1,680.5 590,682.3 588.9,681.5 589.5,675.3 593,673.7" fill="#c13a7b"/><polygon points="689.7,649.6 688.2,651 688.4,655.5 693.9,658 698.7,655.3 698.9,650.1 697.4,648.9" fill="#bf3b7b"/><polygon points="784.2,611 790.6,609 794.9,612 790,618.3 782.3,615" fill="#c44180"/><polygon points="802.6,556.8 794,562.2 787.1,557.7 787.1,557.4 794.4,550.5 802.6,556.1" fill="#bf3b7b"/><polygon points="760.7,679.8 765.7,682.5 769.5,680.8 769.3,679.5 765.7,676.6 761.3,677.2 760.4,679" fill="#c64584"/><polygon points="686.4,608.2 686.6,608.1 686.8,603.5 682.3,598.8 674.8,604 674.8,604.2 678.8,607.9" fill="#c64584"/><polygon points="688.1,609.7 688.3,609.5 696.3,610.7 697.8,614.3 696.9,619.1 694.2,621.2 687.4,616.6" fill="#c64584"/><polygon points="754.1,701.3 754.2,699 751.3,697.7 749.5,699.8 749.6,701.9 750.5,702.8" fill="#c13a7b"/><polygon points="671.1,722.7 674.2,725.4 672.5,730.3 672,730.4 666.2,727.3 669.4,722.9" fill="#c23e7e"/><polygon points="509.4,748.9 514.7,745.8 515.5,742 511.2,739.2 507.4,741.7 506.6,746.3" fill="#bf3b7b"/><polygon points="644.4,743.2 640.2,747.2 642,751.7 648.2,751 647.7,743.6" fill="#c13a7b"/><polygon points="687.2,697.6 680.6,696.6 680.5,694.8 684.6,687.7 685.1,687.6 690.4,693.8 688.8,696.8" fill="#bf3b7b"/><polygon points="793.6,713.9 796.8,710.9 802.1,711 802.1,714.2 796.6,718.7" fill="#c64584"/><polygon points="748.2,609.6 745.1,603.6 749.8,597.1 752,596.7 754.3,598.7 753.4,608.4" fill="#bf3b7b"/><polygon points="506.8,657.9 495.5,656.6 494.7,644.4 504.2,642.6 507.8,647.6" fill="#bf3b7b"/><polygon points="548.1,583.4 558.5,571.3 551.6,566.6 544,568.6 541.8,575.6" fill="#bf3b7b"/><polygon points="494.9,606.2 494.9,610.9 507,616.3 507.2,603.6 505.8,602.9" fill="#c13a7b"/><polygon points="676.6,752.6 682.8,752.6 682.1,747.1 679.2,745.1 675.4,750.9" fill="#c23e7e"/><polygon points="585.5,717 583.1,721 578.9,721.4 578.1,718.4 581,714.5 582.7,714.4" fill="#c44180"/><polygon points="760.8,546.3 766.2,545.8 770.6,540.8 759,540.8" fill="#c23e7e"/><polygon points="747.9,570.5 757.1,569.6 755.3,578.2 755,578.4 749.1,576.2" fill="#c64584"/><polygon points="499,737.7 496.4,744.8 498.6,746.6 504.1,746.1 504.9,741.2 499.9,737.5" fill="#c13a7b"/><polygon points="620.7,664.8 620.7,664.8 620.9,674.1 628.2,676.6 628.8,675.6 627.3,667.5" fill="#c23e7e"/><polygon points="546.2,759.3 552.6,754.7 556.7,757 556.7,759.4 546.2,759.4" fill="#c64584"/><polygon points="730.7,715 731.2,713.3 727.4,710.1 721.7,712.5 721.2,713.9 722.7,716.6 727.5,717.3" fill="#c23e7e"/><polygon points="732.1,716.7 735.8,722.1 734.7,724.5 730.2,725.5 729,719" fill="#c23e7e"/><polygon points="745.3,723 741.7,720.9 737.7,722.9 736.5,725.5 741.6,731.7 744.1,730.7" fill="#c13a7b"/><polygon points="570.1,589 578.8,583.2 585.2,590.9 578.2,597.4 572.2,594.8" fill="#c23e7e"/><polygon points="679.8,549 678.7,549.2 671,545.4 671.4,541.2 681.2,541.2" fill="#c44180"/><polygon points="793.2,753.7 792.6,753.1 784.8,753.5 786.6,758.8 792.9,758.8" fill="#c13a7b"/><polygon points="717.1,752.8 714.3,751.8 711.6,747.7 712.6,746.3 718.2,744.9 718.3,744.9 718.8,751.4" fill="#bf3b7b"/><polygon points="635.6,641.7 635.9,641.2 634.6,634.5 625.7,635.9 629.4,642.4" fill="#c64584"/><polygon points="689.9,738.1 693.2,737.7 693.5,734.8 690.6,733.4 688.1,735.1 688.3,736.4" fill="#c23e7e"/><polygon points="722,610.7 723,603.3 729.5,601.8 732.7,603.7 732.4,610.9 723.6,612.4" fill="#c13a7b"/><polygon points="704.4,683.7 703.3,683.6 698.7,686.7 698.7,690.5 705.9,690.6" fill="#bf3b7b"/><polygon points="511.7,547.3 513.6,540.6 524.1,540.6 521.9,549.9" fill="#c23e7e"/><polygon points="526.2,578.8 528.5,580.3 530.8,590.5 519.3,593.2 516.4,587.5" fill="#bf3b7b"/><polygon points="663.9,624.9 653.3,623.4 652.2,624.3 652,629.4 658.1,634.3 658.7,634.3 664.6,626.2" fill="#c23e7e"/><polygon points="755.9,719.1 752,721 755.6,726 759.3,724.4 758.1,720" fill="#c23e7e"/><polygon points="482,757.5 481.5,758.7 476.5,758.7 476.5,750.8 479.4,750.8" fill="#c23e7e"/><polygon points="775.3,752 772,744.5 770.9,744.6 766.8,750.1 766.8,751.6 768.4,754.3" fill="#c44180"/><polygon points="596.8,734.3 599,737.5 603.2,737.3 604.1,730.5 598.5,730.4" fill="#c23e7e"/><polygon points="531.4,757.2 531.2,758.6 525.4,758.6 525,753.7 527.7,752.4" fill="#bf3b7b"/><polygon points="748.6,596.5 743.9,602.8 736.4,601.5 740.6,592.7 740.8,592.6" fill="#c23e7e"/><polygon points="571,618.5 576.5,625.5 575.9,629.4 568.7,634 564.3,630.5 563.4,622.9" fill="#c23e7e"/><polygon points="602.8,675 597.4,675.9 593.9,672.6 595.6,665.1 604.4,668.8" fill="#c13a7b"/><polygon points="628.6,751.8 633.4,756.1 632.8,758.9 625.9,758.9 627.4,752.3" fill="#bf3b7b"/><polygon points="531.7,738.3 532.5,738.4 534.6,745.7 528.5,748.4 526.2,741.8" fill="#c44180"/><polygon points="576.3,557.3 573.3,554.8 566,556 564.2,570.4 572.9,569.8 574.6,568" fill="#c23e7e"/><polygon points="637.5,728.4 636,728.7 634.2,733.9 635.1,735.3 640.3,735.2 642.3,731.9" fill="#c44180"/><polygon points="563.4,730.4 559.2,724.2 565.7,718 570.1,727.1 568.1,729.6" fill="#c44180"/><polygon points="755.8,580 754,586.3 754.7,587.8 761.4,587.3 763.2,581.3 756.1,579.8" fill="#bf3b7b"/><polygon points="561.1,735 554.9,737.7 554,739.3 554.2,743.7 562.5,746.2 565,744.3 565.1,743.8" fill="#c13a7b"/><polygon points="796,578.9 793.7,578.6 790.5,572 794.1,568.6 800.8,572.5" fill="#c13a7b"/><polygon points="599.3,714.4 595.6,711 598.6,706.8 603.2,709" fill="#c44180"/><polygon points="628.4,701.4 628.6,701.5 636.7,699.7 637.7,695.9 629.9,691.7 628.1,692.9 628.1,701" fill="#bf3b7b"/><polygon points="761.2,616.5 759.8,611.8 766,605.8 769.5,606.9 772,614.2 769.3,616.7" fill="#c23e7e"/><polygon points="557.7,646.4 558.1,648.7 569.5,651.9 572.4,644.8 568.1,638.5" fill="#c13a7b"/><polygon points="675.4,685.9 678.2,684.8 682.7,686.8 679,693.2 674.5,689.4" fill="#c23e7e"/><polygon points="526.8,732.9 522.6,733.4 521.5,739.1 525.2,740.5 530.5,737.1" fill="#c23e7e"/><polygon points="649.9,579.1 641.3,578.4 639.7,586.3 641.9,587.5 648.7,585.8" fill="#c44180"/><polygon points="663.6,598.4 668.8,598.2 670.3,593.5 667.8,588.4 662.3,586.5 657.2,593.2 657.2,593.2" fill="#c13a7b"/><polygon points="527.2,565.9 522.9,558.7 524.6,553.5 531.1,553 536.9,559.4 536.8,561.7" fill="#c64584"/><polygon points="522.4,669.3 532.4,669.1 536.3,663.5 536,658.2 521.3,660.1 519.5,662.3" fill="#bf3b7b"/><polygon points="750.2,623.9 749.7,631.3 741.4,631.8 741,626.7 747.1,622" fill="#c13a7b"/><polygon points="632.9,543.6 634.2,545.2 640.9,547.1 643.5,544 643.6,540.7 632.7,540.7" fill="#bf3b7b"/><polygon points="710.2,646.2 719.1,641.9 722.3,647.6 719.2,651.3 711,650.9 709.6,648.4" fill="#bf3b7b"/><polygon points="650.6,597.3 645.4,596.8 642.7,589 649.6,587.3 655.2,593.1 655.2,593.2" fill="#c64584"/><polygon points="530.7,615.5 521.1,620.6 516.3,617.8 521,606.1 526.9,607.3" fill="#bf3b7b"/><polygon points="700.4,727.9 700.1,731.1 703.1,732.2 705.6,729.4 705.7,726.5 703.8,726.2" fill="#c13a7b"/><polygon points="489.7,746.2 495,746.3 497.3,748.1 496.3,757 489.4,753.6" fill="#c13a7b"/><polygon points="635.2,618.7 641.6,621.5 638.5,629.6 636.5,630.2 631.6,624.2" fill="#c64584"/><polygon points="788.5,713.3 783,715.9 782.4,715.7 780,711.1 782,708.7 786.4,709" fill="#c13a7b"/><polygon points="791.3,619.2 792.7,623.5 794.6,623.9 798.9,620.5 797.7,613.4 795.9,613.3" fill="#c23e7e"/><polygon points="606.8,611.6 597.1,610 596.1,605.3 596.7,603.9 607.4,599.7 608.2,600.1 610.4,607.2" fill="#bf3b7b"/><polygon points="677.4,608.8 673.4,605.1 666.2,613.7 666.6,614.5 675.7,616.5" fill="#c64584"/><polygon points="646.1,709.6 638.6,711.6 637.1,709.9 639.5,703.2 645.1,705.6" fill="#c13a7b"/><polygon points="603.7,542.3 603.6,540.5 616.1,540.5 616,543.7 608.9,546.1" fill="#c44180"/><polygon points="490,595.6 483.9,587.9 476.6,591.3 476.6,597.3 485,601.1 489,599.8" fill="#c13a7b"/><polygon points="667.3,701.3 670,698.5 676.5,699.6 676.1,703.4 670.2,704.8" fill="#c23e7e"/><polygon points="583.2,556.9 590.9,565.4 589.5,567.9 575.6,568.1 577.3,557.3" fill="#c64584"/><polygon points="715.2,736.5 712.8,736.9 711.2,739.1 712,743 717.2,741.7" fill="#c23e7e"/><polygon points="603.7,684.1 604.6,677.6 612.1,680.5 610.1,685.8 607.7,687" fill="#c44180"/><polygon points="663.8,555.9 656.7,550.2 656.8,547.3 657.6,546.2 667.2,547 664.1,555.7" fill="#bf3b7b"/><polygon points="778.8,728.6 775.3,726.1 771,730.2 775.9,733.6 778.3,732.1" fill="#c64584"/><polygon points="614.6,753.2 615.9,753.5 617.1,758.6 611.3,758.6 611,755.7" fill="#c64584"/><polygon points="778.3,698.7 781.5,700.8 784.4,698.8 784.3,695.9 780.8,694.8" fill="#bf3b7b"/><polygon points="565.7,585.7 563.8,572.3 564.3,572 572.7,571.4 578.3,580.8 578.2,581.2 568.9,587.5" fill="#bf3b7b"/><polygon points="608.7,597.8 609.4,598.2 618.1,594.4 618.9,590.9 614,582.1 614,582.1 605.8,590.3" fill="#c64584"/><polygon points="513.9,759 522,753.1 523,753.3 523.5,759" fill="#c13a7b"/><polygon points="620.6,617.6 625.1,624.5 621.3,631 609.9,625.3 610.9,623" fill="#c44180"/><polygon points="688.3,648.2 686.8,649.6 679.5,646.8 681.2,637.3 681.4,637.2 688.5,640.2" fill="#c13a7b"/><polygon points="620.9,739.8 620.9,738.4 618.4,735.3 614.7,735.4 613,738.2 615.7,741.8 619.6,741.8" fill="#c23e7e"/><polygon points="732.2,563.3 731.9,571.9 736.5,575.2 742.5,568.5 735.1,562.3 734.2,562.1" fill="#c13a7b"/><polygon points="704.8,701.4 708.4,696.1 711.7,697.9 712.7,703.1 710.7,704.2 706,703.4" fill="#c44180"/><polygon points="686.9,552.4 688.2,556 697.1,558.3 698.8,551.5 692.3,548.1" fill="#c64584"/><polygon points="758,680.7 756.8,687.1 752.6,687.9 750.2,683.7 751.1,680 757.7,679.9" fill="#c44180"/><polygon points="698.8,619.6 705.1,622.1 710.1,618.6 709.6,614.1 699.7,614.9" fill="#c64584"/><polygon points="767.4,563.9 771.2,568.2 767.2,573.8 759.7,568 759.9,566.9" fill="#c23e7e"/><polygon points="799.2,672.3 792.7,667.4 790.9,667.4 790.9,667.8 793.7,677 796.2,677.1" fill="#c23e7e"/><polygon points="533.8,759.4 544.1,759.4 544.1,759.3 540.7,754.5 534,757.7" fill="#c44180"/><polygon points="578.2,667.7 574.5,661 584.6,654.1 591.4,662.4 579.3,668.1" fill="#c13a7b"/><polygon points="487.2,743.5 486.9,738.4 483.8,736.3 479.1,738.4 483.7,743.8" fill="#c23e7e"/><polygon points="572.3,712 571.3,713.9 576.2,716.6 578.6,713.4 575.9,710.7" fill="#c23e7e"/><polygon points="800.9,673.9 797.9,678.5 801.5,682.3 803.2,682.2 803.2,673.7" fill="#c13a7b"/><polygon points="488.4,554.9 500.8,559.9 492.4,571 488.1,568.1 488,555" fill="#c13a7b"/><polygon points="535.1,677.8 533.5,670.2 537.3,664.8 545.3,671.6 541.6,681.4 540,681.3" fill="#c23e7e"/><polygon points="664.9,738.3 667.4,738.5 669,741.2 667,744.1 663.6,742.6 663.7,739.2" fill="#c64584"/><polygon points="736.2,757.3 733.5,754 730.8,753.4 729.8,754.2 729.7,758.3 736.3,758.3" fill="#c23e7e"/><polygon points="649.5,731.6 652.1,737.4 655.4,735 655,731.8 650.7,730.1" fill="#c23e7e"/><polygon points="793.3,546 796.7,540.6 786.6,540.6 787.5,543.8" fill="#c23e7e"/><polygon points="480.2,609.9 476.1,609.1 476.1,620.7 482.3,614.9" fill="#c44180"/><polygon points="592.9,645 596.2,637.1 591.6,631.1 584.2,635 584.7,644.1 586.7,645.8" fill="#bf3b7b"/><polygon points="674,583.4 669.5,587.8 671.9,592.7 679.5,590.1 679.7,587.8" fill="#c64584"/><polygon points="777.7,548.4 774.9,541.1 772.2,541.1 767.7,546.2 773.1,551.1" fill="#c44180"/><polygon points="720.1,587.7 724.1,583.1 729.6,585.4 730.1,588.5 727.5,591.8 720.5,589.6" fill="#c23e7e"/><polygon points="692.2,577.3 691.4,569.4 698.1,567 700.1,571.7 698.4,576" fill="#bf3b7b"/><polygon points="568.2,756.5 572.2,755 573.9,756.1 574.1,759.1 568.3,759.1" fill="#c44180"/><polygon points="628.5,652.8 636.5,649.3 635.5,643.1 629,643.8 625,651.1 625.6,652.2" fill="#bf3b7b"/><polygon points="575.8,756.1 576,759.1 582.3,759.1 581.6,754.6" fill="#c44180"/><polygon points="588.4,726.1 584.6,721.8 587.1,717.7 588.1,717.7 593,723.1" fill="#c64584"/><polygon points="721.1,703 719.1,704.8 721,710.7 726.7,708.3 727,703.6" fill="#c23e7e"/><polygon points="711,652.2 710.4,656.4 715.3,662.5 719.4,658.6 719.1,652.6" fill="#bf3b7b"/><polygon points="630.7,544.9 621.5,547.6 622.1,551.4 629.1,552.8 631.8,546.3" fill="#c23e7e"/><polygon points="505.9,727.3 507.6,724.7 513,725.3 514.6,727.6 510.6,731.8 506.5,729.6" fill="#bf3b7b"/><polygon points="748.4,577.4 743.6,582.3 744.1,583.5 752.4,586 754.2,579.6" fill="#c23e7e"/><polygon points="800.6,655.8 799.8,661.3 803.1,662.4 803.1,655.9" fill="#bf3b7b"/><polygon points="477.8,540.9 483.6,553.3 475.9,556.9 475.9,540.9" fill="#c13a7b"/><polygon points="708,649.5 700.9,650.3 700.7,655.4 703.8,658.1 708.8,655.8 709.4,651.8" fill="#c23e7e"/><polygon points="602.8,543 595.7,548.8 600,556.3 605.8,554.1 608.2,546.9" fill="#c44180"/><polygon points="768.2,693.9 763,695.5 761.4,694.5 760.8,690.7 765,689.4 768.5,692.3" fill="#c44180"/><polygon points="668.2,645.5 677.3,648.1 673.7,656.1 668.5,655.7" fill="#c44180"/><polygon points="778.5,687.1 787.4,683.9 787.5,682.7 783.4,678.6 782,678.6 776.7,684.7 777.2,686.2" fill="#bf3b7b"/><polygon points="693,707 694.2,703.4 689.9,699 688.5,699.7 688.1,705.4" fill="#bf3b7b"/><polygon points="627.1,573.8 633.9,566 638.9,569.3 638.7,575.5 628.1,576.7 626.9,575.8" fill="#c13a7b"/><polygon points="480.1,686.7 488.1,678.4 490,678.5 494,683.1 489,691.8 484.1,691.2" fill="#bf3b7b"/><polygon points="543,682.9 556.6,683.1 557.5,686.3 554.1,693.7 546.3,693" fill="#c44180"/><polygon points="731.3,547.5 733.7,548.3 736.8,546.9 737.3,541 728.5,541" fill="#c64584"/><polygon points="635.3,756.5 634.7,759.1 641.3,759.1 640.2,754.5" fill="#c13a7b"/><polygon points="524.8,680.3 520.8,674 512.4,678.7 515.6,686.7 523.1,685.5" fill="#c23e7e"/><polygon points="673.4,579.2 667.9,575.8 669.2,571 672.9,569.8 677.9,574.6" fill="#c44180"/><polygon points="587.9,715.1 591.6,711.4 587.8,707.6 587,707.5 584.5,712.8 587,715.1" fill="#c64584"/><polygon points="533.1,639 540.2,647.8 538.6,655 537.3,655.9 525.7,645.4" fill="#c64584"/><polygon points="623.2,725.8 621.1,726.9 615.3,725 616.6,718.7 622.9,721 623.6,725.2" fill="#c44180"/><polygon points="649.4,567 646.1,565.8 646.9,557.2 650,557 654.4,561.6 653.9,564.6" fill="#c64584"/><polygon points="763.6,710.9 760.4,708.9 761,705.4 763.9,704 768.4,705.5 768.5,706" fill="#c13a7b"/><polygon points="628.2,654.4 635.7,663 627.7,666.1 621.1,663.3 625.3,653.8" fill="#c23e7e"/><polygon points="613.2,567.3 603.8,568.1 604.8,576.5 613.8,580.3 613.8,580.3 614.2,579.8" fill="#c23e7e"/><polygon points="799.5,731.9 796.8,737 793,732.5 795.9,728.7" fill="#c23e7e"/><polygon points="707.6,682.8 706.4,683.4 708,690.6 708.2,690.7 715.2,686.3 715.4,685.9 714.5,684" fill="#c23e7e"/><polygon points="748.7,679.8 747.2,678.1 741.4,680.2 741.9,684.9 742.3,685.2 747.9,683.3" fill="#c13a7b"/><polygon points="476.2,607.8 476.2,598.5 484.3,602.1 480.3,608.6" fill="#c44180"/><polygon points="619.8,674.2 619.6,664.6 612.5,664.7 610.9,666.5 614.8,678 615.8,678" fill="#c23e7e"/><polygon points="754.5,753.5 755.3,754.4 755.7,758.5 749.4,758.5 748.8,753.4 749.7,752.8" fill="#c23e7e"/><polygon points="718.2,731.9 716.1,725.9 720.2,724 724.7,728.1 722.1,731.3" fill="#c23e7e"/><polygon points="712.7,552.2 701.3,550.4 704.3,541 707.9,541 712.7,552.2" fill="#c23e7e"/><polygon points="661.1,711.9 658.3,714.6 659.2,718 664.2,717.1 665,713" fill="#c23e7e"/><polygon points="725.9,648.1 734.6,643.4 738.1,651.9 735.2,654.3 730.9,654.2" fill="#c44180"/><polygon points="537.7,558.5 544.1,552.1 538.1,541.8 532,552.2" fill="#bf3b7b"/><polygon points="732.2,584.8 737.3,579.9 741.9,582.9 742.4,584.2 740.1,590.8 739.9,590.9 732.8,588.3" fill="#c44180"/><polygon points="672.7,733.9 670.6,736.6 672,739 674.9,738.7 675,735.1 673.1,733.8" fill="#c23e7e"/><polygon points="596.4,688.6 598.4,685.1 595.4,681.7 590.5,683.4 591.3,686.8" fill="#c44180"/><polygon points="722.4,619.7 728.4,624.3 726.5,629 717.4,626.3 717.1,623.2" fill="#c23e7e"/><polygon points="798.4,599 803.1,597.9 803.1,607.5 802.7,607.5 798.3,599.2" fill="#c13a7b"/><polygon points="754.4,717.1 754.2,712.6 750.8,711.7 749.6,712.9 750.7,718.8 750.9,718.8" fill="#c44180"/><polygon points="702.1,667.7 702.9,659.7 699.6,656.9 694.6,659.6 697.1,667.7 699.2,668.8" fill="#bf3b7b"/><polygon points="609,758.8 608.7,756.1 605.5,754.6 603.4,758.8" fill="#c44180"/><polygon points="556.5,610.7 558.2,619.9 548.7,623.6 546.5,613.7" fill="#c23e7e"/><polygon points="729.2,677.6 732.2,678.6 731.3,683.7 726.3,684.6 726.8,679.2" fill="#c13a7b"/><polygon points="759.9,719.7 763.8,716.7 766.8,719 763.9,724.8 761.1,724" fill="#c23e7e"/><polygon points="667.5,689.5 666.9,685.4 669.3,683.2 673.2,685.7 672.3,689.2 669.2,690.5" fill="#bf3b7b"/><polygon points="489,704.3 483.9,703.9 481.2,699.9 484.1,693 488.8,693.5 493.2,698" fill="#c64584"/><polygon points="692.6,597.6 687.7,602.1 683.3,597.5 683.6,594 689.7,593.6" fill="#bf3b7b"/><polygon points="705.3,736.6 708.6,737.3 710,735.3 707.2,732.2 705,734.8" fill="#c44180"/><polygon points="790.1,598.3 791.8,599.3 796.5,597.7 796.7,597.5 796,591.4 789.2,590.2" fill="#bf3b7b"/><polygon points="787.8,666.2 788.7,667.2 788.7,667.6 783.8,676 782.5,676 777.8,671.7 777.2,668.5" fill="#c44180"/><polygon points="549.1,552.4 557.8,541.1 558.3,541.1 562.2,553.2 553,557.3" fill="#c23e7e"/><polygon points="685.2,754.9 688.8,755.1 689.1,758.8 684,758.8" fill="#c13a7b"/><polygon points="652.5,576.5 650,568.6 654.7,566 658.6,569.1 656.9,576.5" fill="#c23e7e"/><polygon points="566.9,744 566.8,744.5 572.3,747.2 575.9,745.6 575.7,739.3 572.4,738.4" fill="#c13a7b"/><polygon points="545.8,628.7 546.2,631.2 533.5,636.8 529.9,630.8 535.6,624.1" fill="#c23e7e"/><polygon points="742.8,695.2 744.1,692.4 749.4,692.6 749.7,695.2 747.5,697.9" fill="#c44180"/><polygon points="528.2,731.6 531,725.5 533.4,724.6 535,725 535.7,734.2 532.8,736.1 532.1,736.1" fill="#c64584"/><polygon points="553.3,736.3 549.4,727.1 546.9,727.7 543.8,735.5 552.4,737.9" fill="#bf3b7b"/><polygon points="640,721.3 637.1,718.4 634.2,720 634.1,723.9 635.7,725.4 637.1,725.1" fill="#bf3b7b"/><polygon points="758.2,735.8 759.9,741.5 765.6,739.4 764.8,733.9" fill="#c64584"/><polygon points="658.5,731.7 661.6,729.8 662.5,730 662.8,735.1 661.7,735.9 658.8,734.7" fill="#c13a7b"/><polygon points="593.7,754.2 592.2,758.9 598.7,758.9 594,754.1" fill="#c44180"/><polygon points="771.9,667.1 771.2,667.1 768,674 771.4,676.9 774.8,671.7 774.3,668.9" fill="#c44180"/><polygon points="696.9,728 696.6,731.1 695.3,731.9 692.3,730.4 692.8,726.4 693.1,726.1" fill="#c44180"/><polygon points="756.5,752.1 757.3,753.1 764.4,751.6 764.5,750.2 758.7,745.8 758.6,745.9" fill="#c64584"/></g><polyline points="474,703.4 487.1,711.1 497.9,704.5 517.5,698 543.7,691.5" fill="none" stroke="#bebfb8" stroke-width="3" stroke-linecap="round" stroke-linejoin="round"/><polyline points="474,743.7 495.8,731.3 517.5,725.2 550.2,719.1 578.5,713.2 604.6,706 622,700.2" fill="none" stroke="#bebfb8" stroke-width="3.4" stroke-linecap="round" stroke-linejoin="round"/><polyline points="701.3,680.6 723.1,677.7 749.2,673.4 775.3,661 788.4,651.2 799.3,640.3" fill="none" stroke="#bebfb8" stroke-width="3.2" stroke-linecap="round" stroke-linejoin="round"/><polyline points="796,609.8 804.7,603.3 806,629.4" fill="none" stroke="#bebfb8" stroke-width="7" stroke-linecap="round" stroke-linejoin="round"/><polyline points="757.9,633.8 775.3,629.4 792.7,624" fill="none" stroke="#bebfb8" stroke-width="2" stroke-linecap="round" stroke-linejoin="round"/><polyline points="513.2,585.5 539.3,589.8 561.1,588.5 570.9,585.5" fill="none" stroke="#bebfb8" stroke-width="5" stroke-linecap="round" stroke-linejoin="round"/><polyline points="570.9,585.5 582.8,592.4 595.9,601.1 613.3,603.3 626.4,614.2" fill="none" stroke="#bebfb8" stroke-width="2.4" stroke-linecap="round" stroke-linejoin="round"/><polyline points="502.3,564.1 517.5,553.2 534.9,542.4" fill="none" stroke="#bebfb8" stroke-width="2" stroke-linecap="round" stroke-linejoin="round"/><polyline points="595.9,573.9 604.6,566.3 615.5,559.8 626.4,553.2 630.7,544.5" fill="none" stroke="#bebfb8" stroke-width="5.5" stroke-linecap="round" stroke-linejoin="round"/><polyline points="626.4,553.2 635.1,561.9 644,558.7" fill="none" stroke="#bebfb8" stroke-width="3.5" stroke-linecap="round" stroke-linejoin="round"/><polyline points="595.9,573.9 604.6,588.1 613.3,605.5" fill="none" stroke="#bebfb8" stroke-width="2.4" stroke-linecap="round" stroke-linejoin="round"/><polyline points="554.5,636 567.6,640.3 578.5,651.2" fill="none" stroke="#bebfb8" stroke-width="3" stroke-linecap="round" stroke-linejoin="round"/><polyline points="508.8,640.3 517.5,651.2 521.9,657.7" fill="none" stroke="#bebfb8" stroke-width="2.4" stroke-linecap="round" stroke-linejoin="round"/><polyline points="595.9,625.1 609,642.5 622,655.5" fill="none" stroke="#bebfb8" stroke-width="2" stroke-linecap="round" stroke-linejoin="round"/><polyline points="482.7,620.7 489.2,629.4 484.9,640.3 483.8,655.5" fill="none" stroke="#bebfb8" stroke-width="2" stroke-linecap="round" stroke-linejoin="round"/><polyline points="489.2,628.3 506.7,622.9" fill="none" stroke="#bebfb8" stroke-width="1.8" stroke-linecap="round" stroke-linejoin="round"/><polyline points="474,748.1 487.1,739.3 513.2,730.6" fill="none" stroke="#bebfb8" stroke-width="4" stroke-linecap="round" stroke-linejoin="round"/><polyline points="500.1,733.9 517.5,744.8 528.4,755.7" fill="none" stroke="#bebfb8" stroke-width="3" stroke-linecap="round" stroke-linejoin="round"/><polyline points="578.5,727.4 589.4,733.9 595.9,744.8 604.6,756.8" fill="none" stroke="#bebfb8" stroke-width="3" stroke-linecap="round" stroke-linejoin="round"/><polyline points="635.1,718.7 639.4,733.9 626.4,744.8 604.6,754.6" fill="none" stroke="#bebfb8" stroke-width="4" stroke-linecap="round" stroke-linejoin="round"/><polyline points="636,729.6 653.4,733.9 679.5,738.3 699.1,729.6 707.8,740.4 723.1,751.3 738.3,757.9" fill="none" stroke="#bebfb8" stroke-width="8" stroke-linecap="round" stroke-linejoin="round"/><polyline points="727.4,688.2 744.8,699.1 766.6,703.4 788.4,696.9 804.7,690.4" fill="none" stroke="#bebfb8" stroke-width="4" stroke-linecap="round" stroke-linejoin="round"/><polyline points="753.5,712.1 775.3,718.7 804.7,714.3" fill="none" stroke="#bebfb8" stroke-width="3" stroke-linecap="round" stroke-linejoin="round"/><polyline points="636,561.9 646.9,555.4 651.2,547.8" fill="none" stroke="#bebfb8" stroke-width="5" stroke-linecap="round" stroke-linejoin="round"/><polyline points="644.7,544.5 662.1,547.8 679.5,546.7" fill="none" stroke="#bebfb8" stroke-width="3" stroke-linecap="round" stroke-linejoin="round"/><polyline points="718.7,577.2 727.4,588.1" fill="none" stroke="#bebfb8" stroke-width="2.6" stroke-linecap="round" stroke-linejoin="round"/><polyline points="675.2,703.4 679.5,712.1 662.1,723 649.1,729.6" fill="none" stroke="#bebfb8" stroke-width="2.4" stroke-linecap="round" stroke-linejoin="round"/><polyline points="757.9,677.3 779.7,668.6 803.6,659.9" fill="none" stroke="#bebfb8" stroke-width="2.6" stroke-linecap="round" stroke-linejoin="round"/><polygon points="545.8,690.4 558.9,679.5 569.8,668 578.5,666.9 587.2,675.1 595.9,680.6 587.2,686.5 572,688.6 556.7,691.7" fill="#bebfb8" stroke="#bebfb8" stroke-width="2" stroke-linejoin="round"/><polygon points="659.9,657.3 670.8,650.5 683.9,653.4 688.2,659.9 668.7,660.3" fill="#bebfb8" stroke="#bebfb8" stroke-width="2" stroke-linejoin="round"/><polygon points="474,705.6 495.8,710 517.5,703.4 543.7,696.9 567.6,691.5 595.9,688.2 626.4,680.6 644.1,668.6 662.1,659.9 686.1,659.9 701.3,662.1 734,653.4 753.5,636 771,631.6 788.4,627.2 798.2,618.5 798.2,640.3 786.2,651.2 766.6,659.9 740.5,673 718.7,679.5 690.4,681.7 662.1,686 644,690.4 626.4,695.8 604.6,704.5 578.5,712.1 550.2,717.6 517.5,723 495.8,729.6 474,735" fill="#d99fba" stroke="#c2b9ba" stroke-width="2.2" stroke-linejoin="round"/></g><path d="M750.3 748.8H802.1M750.9 746.8V750.8M801.5 746.8V750.8" stroke="#fff" stroke-width="1.6" fill="none"/><text x="776.2" y="745.8" font-family="Liberation Sans" font-weight="bold" font-size="5.2" fill="#fff" text-anchor="middle">200&#181;m</text><text x="776.2" y="756.4" font-family="Liberation Sans" font-weight="bold" font-size="5.2" fill="#fff" text-anchor="middle">100X</text></g><clipPath id="hc2"><rect x="475.7" y="773.3" width="327.8" height="220.3"/></clipPath><filter id="hb2" x="-3%" y="-3%" width="106%" height="106%"><feTurbulence type="fractalNoise" baseFrequency="0.07" numOctaves="2" seed="5" result="n"/><feDisplacementMap in="SourceGraphic" in2="n" scale="5" xChannelSelector="R" yChannelSelector="G" result="d"/><feGaussianBlur in="d" stdDeviation="0.5"/></filter><g clip-path="url(#hc2)"><g filter="url(#hb2)"><rect x="469.7" y="769.3" width="339.8" height="228.3" fill="#cdb0c0"/><g stroke="#b63d7c" stroke-width="0.9" stroke-linejoin="round"><polygon points="515.3,886.2 516.1,881.5 521,881.4 522.8,886.7 521.8,887.7 518.5,888.4" fill="#c23e7e"/><polygon points="479.7,809.4 488.8,812.9 492.8,810.8 487.8,797.9 484.1,797.2 482.9,797.8" fill="#c64584"/><polygon points="680.8,850.6 681.4,850.9 683.9,856.6 681.7,858.9 676.6,858 674.5,855.2 674.7,852.4" fill="#c44180"/><polygon points="693.6,829 697.6,832.1 696.9,835.3 690.6,837.9 689.2,833.3" fill="#bf3b7b"/><polygon points="729.6,920.3 730.5,924.6 734.1,926.4 738.7,924.3 737.6,915.8 734.9,915.2" fill="#c64584"/><polygon points="744.1,901 739.3,898.6 737.4,895.9 740.4,890.1 743.7,888.9 746.3,890 746.3,898.6" fill="#c64584"/><polygon points="547.2,893.8 542,892.3 539,895.1 543,900 546.7,897" fill="#bf3b7b"/><polygon points="592.2,897.4 590.1,897.8 586,904.6 587.8,907.3 595.3,907.2 597.8,905.5 594,898.3" fill="#c23e7e"/><polygon points="737.6,971 743.1,967.9 742.6,961.1 736.7,959.7 734.5,961.1 732.8,965.3 735.3,969.8" fill="#c13a7b"/><polygon points="626,839.7 629.9,840.7 630.9,840.1 633.4,835 631.7,830.8 628,829 623.9,837" fill="#c23e7e"/><polygon points="766.8,871.9 770.3,872 773.9,866.2 770.7,861.5 770.6,861.5 764.2,866.1" fill="#c23e7e"/><polygon points="692.3,812.8 698.7,813.6 702.2,817.8 702.2,818.6 693.5,822.8 690.6,820.1 691.6,813.1" fill="#c13a7b"/><polygon points="541.8,780.9 546.1,787.2 554.7,778.6 553.4,774 546.3,774" fill="#bf3b7b"/><polygon points="584.7,878 588.6,881.5 593.2,878.5 592.6,874.3 589.7,872.2 585.9,873.9" fill="#c44180"/><polygon points="709,844 708.4,843.4 702.8,843.7 699,848.2 701.8,851.8 706,852.5 708.7,850.9" fill="#c64584"/><polygon points="524.2,986.8 526.5,986.5 531.6,992.7 521.9,992.7" fill="#c44180"/><polygon points="699.2,790 706,786.1 703.7,781.3 702.4,781 696.6,784.7" fill="#c44180"/><polygon points="745.8,902.6 748,900.1 755.4,898.4 756.8,899 754.5,908.4 746.4,904.9" fill="#bf3b7b"/><polygon points="578.9,796.8 582.4,795.1 583.1,791.3 576.9,789.5 574.5,794 574.6,794.1" fill="#c44180"/><polygon points="477.8,959.2 477.8,959.4 485.7,964.3 485.9,964.2 489,958.6 488.7,956.9 484.3,954.1" fill="#bf3b7b"/><polygon points="516,930.2 519,929.4 522.8,932.5 522.4,936.2 517.4,940.5 515.3,940.4 513.6,933.5" fill="#c23e7e"/><polygon points="493.8,908.9 491.3,902.5 497.8,900.1 500.4,905.9 499.3,908.2" fill="#c44180"/><polygon points="500.9,773.9 515.5,773.9 513,782.7 509.3,786.2 508.4,786.2 500.1,778.2" fill="#c13a7b"/><polygon points="718.2,880.2 712.7,878.3 709.9,885.1 716.4,887.7 718.3,880.4" fill="#c23e7e"/><polygon points="553.5,844.9 553.6,844.4 550.5,840.2 543.7,839.4 542.8,841.3 545,847.9" fill="#bf3b7b"/><polygon points="794.9,985.1 792,980.7 793.1,974.8 795.7,974 800.4,980.3 796.3,985.3" fill="#c44180"/><polygon points="620.1,846 624.1,840.6 622,838 618,837.1 615.4,838.3 615.1,845.5" fill="#c64584"/><polygon points="492,782.6 487.1,781 482.2,784.3 484.2,795.7 488,796.5 495.2,792.6" fill="#c23e7e"/><polygon points="557.3,965.8 552.1,963.6 551.8,959.6 557.8,954.2 559.3,955.1 560,964.4 559.4,965.5" fill="#c13a7b"/><polygon points="654.4,912.2 661.2,917.1 661.6,918.1 661.4,919.4 658.6,922.7 651.5,921.8 649.1,918 653.1,912.7" fill="#bf3b7b"/><polygon points="737.1,976.8 736.5,973.4 734.3,972.2 727.9,976.4 727.3,979.3 728.9,981.9 735.2,981.5" fill="#bf3b7b"/><polygon points="684.1,800.8 681.1,800.1 675.7,804.4 675.7,804.5 681.2,809.6 684.5,808.7" fill="#c44180"/><polygon points="487.8,857.1 491.5,856.6 491.4,851 488.3,847.4 483.4,851 483.3,854.1" fill="#c64584"/><polygon points="797.7,804.9 802.8,800.3 802.8,811.9 798.7,808.4" fill="#c13a7b"/><polygon points="589.4,783.2 588.6,788.5 595.2,791.1 600.4,787.3 600.4,787.1 599.7,785.5 592.3,782.1" fill="#bf3b7b"/><polygon points="681.2,842.2 688.2,841.4 689.7,845.6 682.7,848.7 682.1,848.4" fill="#c13a7b"/><polygon points="589,804 589.4,800.4 593.8,799.5 595.5,802.1 594.2,806.1 592.5,807" fill="#bf3b7b"/><polygon points="610.2,971.9 607.4,978.3 599.8,975.5 600.6,971.8 602.8,970 609.6,970.5" fill="#c44180"/><polygon points="771.8,933.6 767.1,927.2 768.7,922.9 773.8,923.1 777.4,926.3 775.5,932 773.7,933.3" fill="#c13a7b"/><polygon points="629,788.9 632.7,784.8 632.1,780.2 624.3,779.8 623,783.6 627.2,789.1" fill="#c23e7e"/><polygon points="706,951.6 706.4,948.7 709.4,945.5 713.8,945.9 715,947.9 714,954.1 710.4,956.7 709.9,956.5" fill="#c23e7e"/><polygon points="569.2,950.1 567.3,951.7 560.9,952.4 559.6,951.6 558.2,948.8 561.1,944 567.4,945.3 569.3,949.9" fill="#bf3b7b"/><polygon points="525.4,860.2 524.3,854.8 522.2,853.3 516.2,857.1 516,859 520.1,862.9" fill="#c64584"/><polygon points="565.3,907.5 570,912.1 573.1,911.8 575.8,904.3 574.7,902.6 573.4,902.2 566.2,904.1" fill="#c23e7e"/><polygon points="557.9,909.7 556.3,914.6 547.8,910.9 547.7,910.8 554,906.3" fill="#c44180"/><polygon points="719.9,832.5 720.8,833.3 721.5,839.7 718.5,842 711.4,841.7 710.8,841 711.1,837 715.8,831.8" fill="#c44180"/><polygon points="606.3,892.1 610,889.6 616.7,893.7 615.6,898.1 609,901.4 608.5,901.2 606.1,893.2" fill="#c44180"/><polygon points="642.5,826.5 645.2,825.7 648.5,827.6 649.5,833.8 649,834.7 645,835.6 643,833.8" fill="#c44180"/><polygon points="508.4,850.2 512.4,844.3 508.3,838.1 506.6,838.2 502.4,842.5 502.4,846.6 505.8,850.5" fill="#c13a7b"/><polygon points="588,943 591.7,936.7 586.8,932.8 584.1,933.9 582.1,941 582.4,941.8 585.2,943.9" fill="#c64584"/><polygon points="526.5,962 524.6,962.6 523,967.4 527.4,970.8 530,970.9 530.4,964" fill="#c44180"/><polygon points="716.6,900.8 714.4,897.9 717.3,890.6 719.1,891 725.4,897.2 723.2,901.9" fill="#c64584"/><polygon points="623.1,892.2 626.2,897.1 623.8,903.3 623.3,903.6 617.8,898.5 618.9,894.3" fill="#c64584"/><polygon points="658.5,959.2 658.5,959.2 661.4,952.6 657.8,949.1 652,951.2 652,951.5" fill="#c44180"/><polygon points="736.1,876 740.8,876.2 742.9,878.4 743.1,886.1 739.7,887.4 735.4,883.8 735.7,876.3" fill="#c64584"/><polygon points="507.2,963.5 511.4,962 514,963.4 515.3,968.6 513.9,971 508,969" fill="#c13a7b"/><polygon points="508.4,915 509.9,914.1 509.7,908.1 507.4,906.4 502.5,907.1 501.4,909.4 504,915" fill="#c23e7e"/><polygon points="614.6,955.9 620.4,959.5 620.8,963.4 613,965 611,959.6" fill="#bf3b7b"/><polygon points="676.5,860.3 674.4,865.1 676.1,868.3 682.5,868.9 682.8,868.1 681.8,861.2" fill="#bf3b7b"/><polygon points="633.1,803.4 636.5,798.8 636.9,798.7 642.3,802.1 638.7,806 634.2,804.9" fill="#c13a7b"/><polygon points="755.7,816 754.7,815.8 754.2,808.2 758,806.2 763.6,811.6 763,812.9" fill="#c44180"/><polygon points="499.2,880.1 501.1,879.6 501.2,871.8 495.7,869.4 492.3,872.5 492.6,875.2" fill="#c23e7e"/><polygon points="484.8,991.9 489.5,986.8 493.7,987.9 492.9,993 484.7,993" fill="#bf3b7b"/><polygon points="518.5,864.7 514.5,860.9 509.6,865.1 509.6,867.5 512.7,870.4 518.1,868.9" fill="#bf3b7b"/><polygon points="707.6,897.2 712.8,897 715.7,889.7 715.6,889.6 708.7,886.9 706.5,887.3 704.9,893" fill="#c44180"/><polygon points="620,858.2 622.9,865.6 619.4,866.9 615.2,864.5 615,858.6" fill="#c64584"/><polygon points="796.1,785.7 795.9,785.6 790.8,788.7 790,792.8 791.9,794.7 797.7,792.3" fill="#c23e7e"/><polygon points="593.7,888.5 589.8,883.5 589.8,883.2 594.3,880.3 597.8,881.9 598.2,885.9" fill="#c64584"/><polygon points="486.1,823.7 490.4,828.6 493.3,829.1 497.2,827.6 499.3,824 495,812.8 494.9,812.6 493.6,812.4 489.5,814.5" fill="#c13a7b"/><polygon points="713.8,912.3 722.7,909.8 724.4,907.3 723,903.9 716.6,902.8 712.7,911.1" fill="#c44180"/><polygon points="779.2,852.7 777.6,850.7 773,850.7 771.1,856 772.1,858.5 772.2,858.6 778.8,855.9" fill="#c23e7e"/><polygon points="780.2,874.9 776.6,878.2 771.6,873.2 775.3,867.3 779.2,868.5" fill="#c44180"/><polygon points="769.1,959.3 766.3,960.7 765.5,962.4 766.8,966.4 774.7,970 777,966.6 773.7,960.5" fill="#c13a7b"/><polygon points="670.1,925.1 665.1,920.2 665.3,919.1 673.3,918.2 673.5,918.3 674.9,923.7 674.4,924.4" fill="#c13a7b"/><polygon points="531.7,841 532.8,841.7 539.9,840.1 540.8,838.1 540.3,835.8 534.6,832.7 533,833.3 531.1,839.3" fill="#c64584"/><polygon points="586.1,930.2 587.1,927 583.6,919.5 579.1,920 576,926.5 576.9,928.3 583.3,931.3" fill="#c23e7e"/><polygon points="627.9,987.9 624.9,982.9 620.1,983.8 619.5,992.3 624.8,992.3" fill="#c23e7e"/><polygon points="631.2,842.4 632.2,841.9 641,844.5 641.5,846.1 639,851 631.9,849" fill="#c64584"/><polygon points="672.3,856.7 674.3,859.5 672.3,864.1 666.3,863.9 665.1,862.6 666.2,859.6" fill="#c44180"/><polygon points="648,968.4 642.9,969.4 642.9,977.2 646.2,978.6 649.6,971" fill="#c64584"/><polygon points="777.9,948.1 781,944.9 784.1,944.3 785.3,944.9 786.8,948 785.1,952.8 783,953.8 780.7,953.3" fill="#c13a7b"/><polygon points="642.6,857.9 646.1,863.7 648.7,864 652.4,859.8 651.5,856.9" fill="#c13a7b"/><polygon points="484.6,948.3 485.2,951.7 489.8,954.6 493.5,950.5 492,945.3 485.5,946.7" fill="#c23e7e"/><polygon points="480.1,875.3 484.1,870.6 490.2,872.7 490.5,875.4 486.3,881.2 483.4,880.9" fill="#bf3b7b"/><polygon points="533.7,780.4 530.5,783 521.5,773.8 533.4,773.8" fill="#c13a7b"/><polygon points="735.2,781.6 730.8,782.7 730.8,782.7 728.7,774.6 738.5,774.6" fill="#c13a7b"/><polygon points="673.7,819 670.5,818.1 668.3,819.8 668.1,826.5 671.8,827.6 674.5,824.9" fill="#c64584"/><polygon points="664.8,973.7 665.9,969.8 662.7,963.3 659.4,961.9 659.4,961.9 659.3,962 657,970.3 659.1,973.1" fill="#c13a7b"/><polygon points="530.3,901.5 534.6,895.9 536.6,896 541.2,901.7 541.1,901.9 534,904.5 530.4,902" fill="#c64584"/><polygon points="598.7,847.6 598.3,838.9 598.7,838.3 600.3,837.9 604.4,840.1 605.1,845.6" fill="#c44180"/><polygon points="496.9,898.2 490.4,900.6 487.3,899.5 486.9,894.9 491.4,889.7 493.7,889.8 498.3,895.4" fill="#c23e7e"/><polygon points="725,980.5 718.3,980.5 718.3,980.6 718.7,986.6 724.9,988.3 726.7,983.2" fill="#c13a7b"/><polygon points="690.5,867.2 684.9,869.2 684.5,870 684.6,870.3 690.1,876 694.7,872.7 694.5,870.2" fill="#c23e7e"/><polygon points="749.5,976.9 746.6,970.3 744.3,969.5 738.9,972.6 739.5,976.2 747.3,979.3" fill="#c64584"/><polygon points="479.2,810.7 488.2,814.1 484.8,823.2 476.3,823.8 476.3,811.7" fill="#bf3b7b"/><polygon points="700.6,865.7 702.3,866 705.7,871.9 701.7,874.6 697.2,872.5 697,870.1" fill="#c44180"/><polygon points="720.7,790.8 720.7,785.4 729.5,784.6 729.5,784.6 730.3,792.5 727.5,794" fill="#bf3b7b"/><polygon points="751.9,831 749.1,837.2 742.5,835 743.2,829.6 748.6,828.1" fill="#c13a7b"/><polygon points="511.1,985.9 511,987.3 515,992.6 519.9,992.6 522.4,986.3 519.4,983.3" fill="#bf3b7b"/><polygon points="596.6,793.3 596.1,797.2 598,800.1 605.1,798.8 605.8,797.3 601.4,789.7" fill="#bf3b7b"/><polygon points="571.6,829.1 573.3,833.6 569.5,839.1 563.8,837.5 562.5,832.4 568.7,827.8" fill="#c23e7e"/><polygon points="761.5,833.2 767.7,834.6 770.3,839.3 768.3,843.1 765.5,843.4 760.8,839.8" fill="#c23e7e"/><polygon points="537.5,815.9 537.8,809.8 529.2,808.2 525.8,812.3 527.3,816.7 528,817.4 532.3,818.4" fill="#bf3b7b"/><polygon points="705.5,976.9 703.9,975.6 703.7,969.2 709.8,967.3 711.1,971.4" fill="#c13a7b"/><polygon points="615.6,797.5 617.4,804.3 611.2,806.7 609.6,806 608.3,800.2 609,798.8 614.9,797" fill="#c23e7e"/><polygon points="639.1,928.8 637.8,925.6 633.9,923.8 631.4,924.2 628.6,926.8 629.1,933.2 637.5,933.8" fill="#c23e7e"/><polygon points="757.4,856.1 749.7,855.7 750.8,861.9 757.1,861.8" fill="#c44180"/><polygon points="675.7,906.4 673.7,908 674.8,915.8 675,915.9 683,913.2 679.9,907.5" fill="#c44180"/><polygon points="534.4,884.8 531.4,887.9 534.9,893.1 536.6,893.2 539.7,890.3 539.1,886.5" fill="#c13a7b"/><polygon points="686.3,903.4 687.5,903.5 691.4,910.3 688.1,913.7 687,913.8 684.9,912.8 681.8,907.2" fill="#c23e7e"/><polygon points="583.2,879.7 587.4,883.4 587.4,883.7 582,890.3 580.6,890.4 578.3,888.2 577.9,880.9" fill="#c44180"/><polygon points="579.9,968.8 575.1,967.6 574.4,964.5 577.4,961.4 581.3,962.7 581.8,967.9" fill="#c64584"/><polygon points="630.3,967.2 633.2,968.8 634.4,976.1 627.7,975.8 625.6,971.4 626.4,968.5" fill="#c44180"/><polygon points="746.8,986.4 739.8,987.6 738.6,992.7 747.3,992.7 747.9,987.7" fill="#c23e7e"/><polygon points="795.5,805.1 796.6,808.8 788.6,812.8 785.1,808.8 784.9,806.9 791.3,803" fill="#c13a7b"/><polygon points="555.4,849.9 553.9,854.9 550.8,856.6 546.4,855.3 545.6,850.3 545.6,850.2 553.9,847.2" fill="#bf3b7b"/><polygon points="649.3,797.7 653.9,796.9 655.3,791.6 652.8,789.8 650.4,790.1 648.2,793" fill="#bf3b7b"/><polygon points="669.1,843.2 663.2,841.1 661.5,842.3 660.7,849.9 662.1,850.5 669.3,847.7" fill="#c44180"/><polygon points="742.5,774 750.4,774 751.6,778.3 746.2,779" fill="#bf3b7b"/><polygon points="498.4,962.6 491.3,960.1 488.2,965.7 493.6,970.2 495.4,969.3" fill="#bf3b7b"/><polygon points="783,827.3 782.7,824.5 776.6,821.6 773.5,823.9 773.9,828.1 778.8,830.5 782.3,828.7" fill="#c64584"/><polygon points="703.4,951.4 703.8,948.5 696.4,944.5 692.8,949.2 693.2,952.6 695.6,954.3" fill="#c13a7b"/><polygon points="802.1,871.7 802.1,874.4 796.1,875.9 792.2,872.5 792.4,870.6 796.4,868.5" fill="#c64584"/><polygon points="653.4,909.8 655.7,904 654.4,901.6 650.1,900 646.3,903 646.5,906.3 652.1,910.2" fill="#c44180"/><polygon points="647.7,948.2 649.6,950.8 649.5,951.1 645,956.9 642.2,957.1 640.5,956.1 641.2,946.5" fill="#bf3b7b"/><polygon points="577.7,905.3 575.1,912.9 579.1,917.3 583.5,916.9 584.6,915.9 585.9,909 584.1,906.4" fill="#c13a7b"/><polygon points="509,787.7 510.8,792.5 506.4,800.8 502.7,800.7 497.6,793.2 508.2,787.6" fill="#c44180"/><polygon points="786.6,920.9 792.4,923.6 793,928.2 790.2,930 788.7,930 784.4,925.2" fill="#c23e7e"/><polygon points="624.8,905.9 624.5,906.8 626.6,913.2 627.3,913.4 635.1,910.5 635.1,910.4 633.3,906.5 625.2,905.7" fill="#c23e7e"/><polygon points="589.1,975.9 595.7,978.4 594.5,984.3 594,984.9 588.8,984.2 587,979" fill="#c23e7e"/><polygon points="564.6,973 569.8,973.7 571.6,978.5 569.8,981 563,981.9 562.1,980.2" fill="#c13a7b"/><polygon points="549.7,807.7 550.1,817.1 556.1,818.8 558.5,817.1 559.5,808.5 558.7,806 558.1,805.4 555.2,804.5" fill="#c13a7b"/><polygon points="771.6,990.6 774.6,987.2 777.9,989.4 777.6,992.7 771.8,992.7" fill="#c23e7e"/><polygon points="476.3,825.3 476.3,837 483.6,837.3 489.3,829.7 485,824.7" fill="#bf3b7b"/><polygon points="785.6,918.1 780,914.4 780,914.2 783.4,910 789.1,912 789.1,912.1" fill="#c23e7e"/><polygon points="665.1,787.5 662.8,790.6 666.5,795.9 669.2,795.9 672.2,792.7 671.5,788.4 668,786.7" fill="#bf3b7b"/><polygon points="723.7,821.9 728.5,821 729.6,819.2 728.4,812.9 722.7,812.5 719,816.5 719,817.4" fill="#c64584"/><polygon points="617.6,794.9 623.2,793.8 625.6,790.4 621.5,785 616.3,787.5 616.8,794.4" fill="#c44180"/><polygon points="581.9,847.8 581.8,849.1 575.9,853.8 571.2,848.7 572.4,844.8 580,845.7" fill="#c44180"/><polygon points="530.9,865.4 531,865.4 534.5,869 533.7,875.4 533.3,875.9 525.6,873.4 525.4,872.7" fill="#c23e7e"/><polygon points="790.4,796.7 790.6,801.4 784,805.4 781.1,802.7 784.4,795 788.5,794.7" fill="#c23e7e"/><polygon points="543.6,820.7 539.1,817.9 534.7,820 537.3,824.8 542.6,823.5" fill="#c44180"/><polygon points="530.1,787.6 537.3,794.5 537.1,795.2 529.5,799.8 525.3,795.2 527.1,789.6" fill="#c64584"/><polygon points="707.5,822.8 711.6,823.3 716.1,817.7 716.1,816.8 710.4,813.5 704.9,818.2 704.9,818.9" fill="#c44180"/><polygon points="703.3,902.2 698.3,901.6 695.4,897.3 695.7,895.6 703,894.4 705.5,898.4" fill="#c64584"/><polygon points="771,803.2 766.9,798.7 767.6,793.2 767.9,793 771.4,792.7 773.4,793.9 775.7,801.4" fill="#c44180"/><polygon points="657.5,902.6 663.2,902.3 666.2,894.7 659.4,892.4 656.3,900.3" fill="#c64584"/><polygon points="793,897.4 791.6,902.2 793.1,905.8 801.9,905.3 801.9,902 793.6,896.9" fill="#bf3b7b"/><polygon points="709.7,803.8 707.1,798.6 702.6,798 700.6,802.5 703.1,805.9 708.6,805.6" fill="#c23e7e"/><polygon points="506.2,893.7 508.2,888.6 512.8,887.8 516.7,890.4 514.2,896.1 508.7,895.9" fill="#bf3b7b"/><polygon points="595.7,850.6 589.1,846.5 584.5,848.5 584.5,849.7 587.5,854.2 594.4,854.5 595.3,853.6" fill="#c44180"/><polygon points="631.1,859.9 637,860 635.7,866 628.8,865.5" fill="#bf3b7b"/><polygon points="597.1,960.5 600.9,960.4 601.4,968.4 599.1,970.2 593.1,965.6 593.4,963.7" fill="#c23e7e"/><polygon points="574,986.8 572.2,982.2 573.6,980.2 577.2,980.3 578.6,985.5" fill="#bf3b7b"/><polygon points="711.4,931.9 720.2,934.6 720.2,934.6 721.1,929.7 716.4,922.8 714.4,922.1 712.5,923.6" fill="#bf3b7b"/><polygon points="759.2,841.4 753.9,844.4 754,844.6 759.7,850.3 763.5,844.6" fill="#c13a7b"/><polygon points="561.8,963.4 561.1,954.8 567.3,954.1 567.5,961" fill="#c44180"/><polygon points="775.7,946.6 778.9,943.4 773.8,936.2 771.9,936.4 770.2,938.7 769.8,945.4 771.1,946.5" fill="#bf3b7b"/><polygon points="545.9,875 543.9,867.8 544.3,867.1 551.3,866.6 554.7,869.5 551.7,875 548.3,876.8" fill="#bf3b7b"/><polygon points="699.9,930.3 694.3,927.6 690.2,931 689.6,933.6 696.1,938.6 702.1,934.4" fill="#c44180"/><polygon points="579.8,941.6 572.3,938.4 571.6,938.7 569.6,943.6 571.6,948.5 580,942.4" fill="#c64584"/><polygon points="745.7,799 748.6,795.3 747.1,789.7 744.2,788.7 743.5,788.9 740.5,793" fill="#c64584"/><polygon points="501.8,860.3 497.2,861.3 497,867.4 502.1,869.6 506.8,867.2 506.8,864.9" fill="#bf3b7b"/><polygon points="796.9,827.8 796.3,821.5 802.7,817.8 802.7,830.5" fill="#bf3b7b"/><polygon points="667.5,884.5 663.6,884.2 660.6,889.8 660.9,890.3 666.9,892.3 667.3,892.1 668.4,890.2" fill="#c23e7e"/><polygon points="520.6,837.4 519.2,834 512.1,834.7 510,837.1 514,843.2 517.9,843.6" fill="#c44180"/><polygon points="625.7,868 627.5,875.6 619,875.5 618.3,874.3 620.2,868.9 623.8,867.5" fill="#c23e7e"/><polygon points="506.4,835.9 499,828.8 501,825.5 509.3,823.7 510.3,833.2 508.2,835.7" fill="#bf3b7b"/><polygon points="647.7,927.8 649.2,923 646.9,919.3 645.5,919.4 640.2,924.7 641.4,927.7" fill="#c64584"/><polygon points="502.1,926.6 501.5,919.5 503.6,917.5 508.1,917.6 508.4,924.3 503,926.8" fill="#c13a7b"/><polygon points="665.1,774.6 665,773.7 652.7,773.7 652.6,774.4 655.6,778.4 660.2,778.9" fill="#c44180"/><polygon points="738.5,859.8 738.7,859.8 741.6,854.8 738.9,851.4 734,855.1 733.6,856.9" fill="#bf3b7b"/><polygon points="644.6,988.8 647.4,982 651.3,983.2 652.5,984.6 651.8,992.4 646.5,992.4" fill="#c64584"/><polygon points="577.7,866.6 579.2,863 575.3,858.7 569.8,861.1 570.1,866 574.2,868.7" fill="#c23e7e"/><polygon points="716.3,862.1 712.8,864.1 712.3,870.4 720.6,868.8 720.9,867.4" fill="#c13a7b"/><polygon points="685.8,858.3 688.5,858.1 691.4,860.7 690,865.2 684.6,867.1 683.6,860.5" fill="#c64584"/><polygon points="565.3,882.3 568.2,889.5 566.7,891.8 561.6,893.4 558.2,889.7 562.1,883.3" fill="#c64584"/><polygon points="761.8,927.2 753.2,923.1 753.7,920.4 756.8,916.8 765.9,920.6 766.4,921.6 764.7,926.1" fill="#c64584"/><polygon points="727.1,921.1 727.9,924.7 722.7,927.8 718.8,922.2 724.3,919.7" fill="#bf3b7b"/><polygon points="788.5,840.4 791.5,839.3 796.5,840.9 796.3,847.3 790.1,847.4 787.9,841.1" fill="#c44180"/><polygon points="551.1,978.3 549.6,986.3 546.1,986.4 541.9,983.2 544.2,975.9" fill="#c23e7e"/><polygon points="735.1,868.2 736.1,873.8 740.9,874 745.2,867.2 739.2,862.7 739.1,862.7" fill="#c23e7e"/><polygon points="562.9,839.6 556.7,844.9 556.6,845.5 558.2,848.5 564.7,850.7 568.7,848.2 570,844.1 568.7,841.3" fill="#bf3b7b"/><polygon points="528.7,899.8 532.8,894.3 529,888.7 525.4,888.8 524.2,890 525.9,898.2" fill="#c44180"/><polygon points="657.6,810.6 655,808.5 651.3,809.4 649.9,813.8 650,814 655.6,816.1 656.6,815.5" fill="#c13a7b"/><polygon points="514.3,810.5 511.6,813.7 511.1,821.2 517.5,822.6 525.2,817 523.6,812.3 515.2,810.3" fill="#c23e7e"/><polygon points="611.8,920.1 614.8,917.1 613,912.1 612.2,911.6 605.5,915.6 605.1,917.2 605.8,918.5" fill="#c23e7e"/><polygon points="716.7,854.2 711.6,851.5 711.8,844.4 718.3,844.7 719.8,851.6 719.2,852.9" fill="#bf3b7b"/><polygon points="769.5,948.6 768.2,947.4 760,948.1 759.2,950.9 765.4,958.5 768.1,957.1" fill="#bf3b7b"/><polygon points="501.5,928.8 501.5,928.9 497.7,937.7 503,939.4 506.5,933.7 502.5,929.1" fill="#c13a7b"/><polygon points="787.2,774.4 778.9,774.4 778.7,780.2 782,782.5 783.3,782.5 788.2,779" fill="#c23e7e"/><polygon points="614.4,836.2 612.2,835.6 609.3,829.6 615.6,826.7 616.4,826.8 616.9,835" fill="#c23e7e"/><polygon points="742.8,928.2 739.5,926.8 735.3,928.7 735.1,933.8 738.4,937.2 741.4,936.8" fill="#c44180"/><polygon points="723.1,833.6 723.8,839.7 729.3,841.7 729.3,841.7 732.2,837.4 730.1,832.6" fill="#c23e7e"/><polygon points="581.4,814 588.9,815.3 589.5,817.2 587.3,821.5 582.9,822.8 580.2,821.6 579.5,819.2" fill="#c23e7e"/><polygon points="689,929 683.6,924 687.5,916.5 688.6,916.4 693.2,923 693,925.6" fill="#c23e7e"/><polygon points="747.2,803.5 752.8,805.8 756.7,803.8 757.2,802.5 755.2,797.4 750.4,797.4 747.3,801.3" fill="#c23e7e"/><polygon points="674.2,987.4 680.3,992.9 668.8,992.9 671.6,988.3" fill="#bf3b7b"/><polygon points="553.9,875.6 561.5,880.7 564.7,879.6 565.6,878.4 561.1,870.4 558.8,869.6 556.8,870.2" fill="#c64584"/><polygon points="753.6,832.1 750.8,838.2 752.1,842 753,842.7 758.7,839.4 759.4,833.1 759,832.5" fill="#c64584"/><polygon points="569.2,816.8 566.3,819.8 560.4,817.9 561.5,809.6 569.3,813" fill="#c23e7e"/><polygon points="748,943.8 746.4,949.5 747.2,950.8 754.8,951.7 756.8,950.3 757.6,947.5 756.9,946.3" fill="#c44180"/><polygon points="655.6,933.2 659.5,929.4 664.9,934.4 664.9,934.6 661.4,939.2 660.7,939.4 659,938.6" fill="#bf3b7b"/><polygon points="735.5,957.2 735.5,950.5 732.9,947.9 729.5,948 727.5,950.3 726.9,953.5 733.3,958.6" fill="#c44180"/><polygon points="685.7,776.4 685.8,774 678.9,774 678.8,777.6 679.8,778.8" fill="#c13a7b"/><polygon points="765.7,791.5 758.8,791.6 756.1,786.5 757,784.4 764,784.2 766,791.3" fill="#c13a7b"/><polygon points="603.4,777.8 610.7,774.9 611.5,773.7 601,773.7" fill="#c44180"/><polygon points="616.2,880.6 611.4,883.1 607.7,878.2 611.9,874.5 616.4,875.7 617.1,876.9" fill="#bf3b7b"/><polygon points="674,985.6 671.2,986.6 666.4,980.7 666.8,976.4 677,978.9 677.3,979.4" fill="#bf3b7b"/><polygon points="706.5,982.4 707,982.7 711.1,990.9 710.7,992.4 704,992.4 701.7,987.5" fill="#c13a7b"/><polygon points="685.4,981.2 686.8,980.6 688.3,975.1 684,970.1 680.9,971.1 679.1,978 679.3,978.5" fill="#c13a7b"/><polygon points="689.1,799.5 693.4,804.2 691.1,810.6 690.5,811 686.4,808.9 686,801.2" fill="#c44180"/><polygon points="797.2,929.6 802.9,926.6 802.9,934 800.9,934.2" fill="#bf3b7b"/><polygon points="757.5,934.7 760.7,928.5 752.2,924.4 750.4,926.5 753.1,933.5" fill="#c23e7e"/><polygon points="480.5,971.2 484.7,966.2 476.5,961.1 476.5,970.8" fill="#c44180"/><polygon points="560.4,832.9 556.2,830.2 553.3,831.9 552.2,838.6 555.6,843.2 561.7,838" fill="#bf3b7b"/><polygon points="792.6,837.6 794.1,830.9 796.4,829.7 802.4,832.4 802.4,836.2 797.7,839.3" fill="#bf3b7b"/><polygon points="521,923 520.2,927.8 524.1,930.9 527.2,930.2 531.4,924.1 525.1,920.5" fill="#c44180"/><polygon points="521.9,908.7 523.8,908.9 527.8,902.8 527.7,902.4 524.9,900.7 518.8,901.9 518.3,903.9" fill="#c23e7e"/><polygon points="746.2,906.7 742.8,912.9 752,918.7 755.2,915 755.2,911.3 754.5,910.3" fill="#c23e7e"/><polygon points="577.3,806.3 578.2,805.1 578.1,800 573.8,797.3 572.2,803.1 575.9,806.3" fill="#c13a7b"/><polygon points="542.6,975.3 540.3,982.4 538.2,983.2 532.4,981.4 532.6,973.8 541.9,973.9" fill="#c13a7b"/><polygon points="635.9,891.1 639.3,890.7 641.6,893.8 639.5,898.6 636.5,899.6 634.3,896.6" fill="#bf3b7b"/><polygon points="791.3,895.5 782.2,894.7 779.5,890.5 780.2,888.4 788.5,886.7 792.3,893.4 791.9,895" fill="#c23e7e"/><polygon points="628.7,854 631.7,850.8 638.5,852.7 639.5,856.7 637.4,858.3 631.3,858.2" fill="#c13a7b"/><polygon points="514.7,943 515,942.8 517.1,942.9 521.5,948.3 521.2,949.7 518,951.8 513.2,951.3 512.8,950.9" fill="#bf3b7b"/><polygon points="789.3,774.1 797.3,774.1 794.9,780.4 790.3,778.5" fill="#c64584"/><polygon points="676.6,827.1 673.7,830 676.4,835.2 682.2,831.3 681.1,827.3" fill="#c64584"/><polygon points="722.4,871.9 720,879.1 720.1,879.3 725.4,880.4 728.9,876.1" fill="#c44180"/><polygon points="753.8,876.4 753.2,877.1 744.6,877.1 742.6,874.9 746.9,868.2 747,868.2 753.3,872.6" fill="#bf3b7b"/><polygon points="617.9,936.5 625,937.1 625.2,941 621.3,945.2 619.6,945.3 616.9,941 617.8,936.6" fill="#bf3b7b"/><polygon points="800.1,852.7 802.7,853.1 802.7,860.9 797.8,861.4 795.4,858.3" fill="#c44180"/><polygon points="571.6,875.8 567.4,877.3 563.4,870.2 569,868.1 572.6,870.6" fill="#c13a7b"/><polygon points="529,930.7 533.2,924.8 534.9,924.3 538.1,930.4 535.8,935" fill="#c44180"/><polygon points="798.3,841.6 802.8,838.7 802.8,850.5 800.2,850.1 798.1,847.9" fill="#c23e7e"/><polygon points="556.8,928.7 552.1,934.8 559.1,937.7 562.6,933.1 562.1,928.8" fill="#c44180"/><polygon points="630.1,804.9 623.5,807.6 623.3,814.1 630.3,816.6 631.4,816.1 632.1,806.9 630.7,805" fill="#c44180"/><polygon points="779.5,901.6 775.7,902.5 772.4,897.5 774.4,893.4 777.8,891.8 780.3,895.7" fill="#c64584"/><polygon points="733.1,970.4 730.7,966.1 723.5,966 723.4,966.1 722.6,969.3 726.6,974.6" fill="#c44180"/><polygon points="762.3,878.4 764.3,883.1 763,886.7 754.9,885.4 755.1,878.6 755.7,877.9" fill="#c13a7b"/><polygon points="629.4,955.2 627.1,955 622.7,959.4 623,963.3 625.8,966.1 629.8,964.8 632,957.9" fill="#c44180"/><polygon points="675.8,937.6 677.7,935 685.6,935.4 682.5,942.6 681.5,942.9 675.8,937.7" fill="#c64584"/><polygon points="693.2,859.1 690.2,856.4 694.3,849.6 696.4,849.8 699.3,853.6 696.8,858.9" fill="#bf3b7b"/><polygon points="597.5,855.9 596.7,856.8 596.2,861.9 601.3,866.2 603.4,865 604.5,859" fill="#c64584"/><polygon points="694.4,964.9 696.6,963 694.6,956.2 692,954.4 686.2,957.8 687.2,965" fill="#c44180"/><polygon points="586.2,834.7 590.7,839.3 596.3,837.6 596.8,837 592.6,831.2" fill="#c23e7e"/><polygon points="744.2,855.4 747.8,855.9 748,856 749.1,862.2 746.4,865.4 746.4,865.5 740.8,861.3" fill="#bf3b7b"/><polygon points="514,783.9 524.9,788.8 523,794.9 518.1,796 512.2,792.1 510.5,787.4" fill="#bf3b7b"/><polygon points="584.2,988.3 588.2,985.8 593.6,986.6 593.9,992.7 584.7,992.7" fill="#c64584"/><polygon points="542.8,850.8 535.5,851.7 535.1,852.3 536.7,858.1 541.7,858.5 543.7,856" fill="#bf3b7b"/><polygon points="797.4,952.8 796.1,949.6 798.6,944.6 802.8,946 802.8,955.5 802.6,955.5" fill="#c23e7e"/><polygon points="748,826.2 742.5,827.8 741.2,826.8 739.8,820.8 742.7,816.9 749.4,819.6" fill="#c64584"/><polygon points="564.7,928.8 565.1,932.6 570.5,935.9 571.1,935.6 573.9,929.4 573.1,927.9 566.2,927.1" fill="#c13a7b"/><polygon points="582.4,877.7 577.2,878.9 573.9,876.6 575,870.7 578.5,868.7 583.7,873.4" fill="#c44180"/><polygon points="767.4,780.4 766.2,774.2 776.9,774.2 776.6,780 775.8,780.5" fill="#bf3b7b"/><polygon points="772.4,805.4 770.4,809.6 776.3,814.1 782.4,808.8 782.2,806.9 779.3,804.2 777.1,803.7" fill="#bf3b7b"/><polygon points="477.2,936 477.2,929 482.1,928.7 486.1,933.5 481.7,936.8" fill="#c13a7b"/><polygon points="629.3,818.4 626.9,825.7 619.7,823.7 621.6,816.7 622.5,816" fill="#c23e7e"/><polygon points="746,805.7 751.6,808 752.1,815.8 749.9,817.1 743.5,814.6 742.7,812.2 744.4,806.9" fill="#c44180"/><polygon points="545.7,791.7 551.4,795.5 554.2,802.6 548.1,806.2 543.1,805.6 539.4,795.9 539.7,795.2" fill="#c13a7b"/><polygon points="516,915.7 520.6,920.6 524.4,918.3 525.3,914.4 523.4,911.6 521.6,911.3" fill="#c13a7b"/><polygon points="637.8,942.9 633.7,944 628.7,940.7 628.6,936.8 629.5,935.7 636.9,936.2 638,938.2" fill="#c64584"/><polygon points="660.1,840.4 661.8,839.2 661.1,831.8 660.1,831.5 651.8,834.9 651.3,835.8 654.4,840" fill="#c13a7b"/><polygon points="547.5,881.8 551.1,889.3 548.4,892 542.2,890.2 541.5,885.8" fill="#c13a7b"/><polygon points="549.1,878.8 548.7,880.8 552.4,888.5 556.1,888.8 560.3,882.1 552.5,877" fill="#bf3b7b"/><polygon points="510.4,924.3 515.3,927.7 518.1,926.9 518.9,922.2 514.1,917 511.6,916.5 510.1,917.4" fill="#c13a7b"/><polygon points="570.8,818.3 567.9,821.3 569.7,825.7 572.4,826.9 577.7,822.3 577,820" fill="#c44180"/><polygon points="554.6,993 554,989.4 561,985.6 564.3,993" fill="#c64584"/><polygon points="775,973.9 778.5,978.5 774.1,983.3 768.5,979.1 768.5,979" fill="#c44180"/><polygon points="552.8,795.2 561.3,787.3 565.3,793.5 558.7,803.2 555.5,802.2" fill="#c44180"/><polygon points="541.7,942.1 546.8,941 550.3,947.1 545.4,950.8 541,947.7" fill="#c23e7e"/><polygon points="556.4,778.5 555.2,773.9 569.8,773.9 568.4,780.3 561.8,783.5" fill="#c64584"/><polygon points="679.2,949.8 680.7,954.8 685,956.1 690.7,952.7 690.3,949.3 683.7,945.2 682.5,945.5" fill="#c44180"/><polygon points="698.2,962.7 696.1,955.9 704.2,952.9 708.3,958.1 698.5,962.8" fill="#bf3b7b"/><polygon points="668.6,815 667.9,810.3 664.6,808.7 661,810.6 660,815.8 666.3,816.8" fill="#bf3b7b"/><polygon points="770.2,844 772.8,847.8 778,847.8 780,842.2 776.5,839.5 772.1,840.3" fill="#c44180"/><polygon points="720.1,830.1 722.4,823.5 717.8,819.1 713.2,824.7 716.2,829.5" fill="#c23e7e"/><polygon points="694.8,987.1 691.5,992.3 685.6,992.3 686.6,983.2 688.1,982.6 692.5,983.7" fill="#c23e7e"/><polygon points="652.6,787.1 649.8,787.5 645.3,783.4 645.3,780 651,775.8 653.9,779.6" fill="#c64584"/><polygon points="642.8,884.5 649.9,883.7 650.2,881.3 646.3,876.6 645.9,876.6 641.2,880.5" fill="#bf3b7b"/><polygon points="477.2,946 482.4,946.5 483.2,945.1 481.5,940 477.2,939.2" fill="#c44180"/><polygon points="767.8,820.6 771.4,821.5 774.5,819.3 774.6,816 769,811.7 766.5,812.8 765.9,814" fill="#bf3b7b"/><polygon points="736.2,992.6 727.9,992.6 726.9,989.4 728.7,984.1 735.2,983.7 737.4,987.3" fill="#c13a7b"/><polygon points="523.8,851.5 523.3,848.6 530.3,843.1 531.4,843.8 533.3,850.5 532.8,851.1 525.9,853" fill="#c23e7e"/><polygon points="555.9,867.6 557.7,867 559,861.5 555.2,857.6 552.1,859.4 552.8,865" fill="#c64584"/><polygon points="665.1,871.5 659.8,874.1 657.5,870.1 659.8,864.8 663.2,864.3 664.5,865.6" fill="#c23e7e"/><polygon points="728.5,887.9 727,887.1 720.7,890.1 726.6,896 729.7,894.5" fill="#c23e7e"/><polygon points="527.8,955.4 533.7,953.2 535.8,959.6 531.5,962.1 527.4,960.1" fill="#c64584"/><polygon points="607.3,930.3 612.5,927.7 615.3,929.8 615.8,934.2 615.7,934.3 608.5,933.9" fill="#bf3b7b"/><polygon points="605.2,987.1 596.1,985.9 595.5,986.5 595.9,992.8 603.9,992.8" fill="#c13a7b"/><polygon points="756.1,908.9 756.8,909.9 765.1,907 763.5,900.2 761.2,898.7 758.5,899.2" fill="#c64584"/><polygon points="476.6,913.2 476.6,903.1 482.9,903.7 481.6,910.8 479.5,912.8" fill="#c64584"/><polygon points="654.7,853.6 653.7,855.9 654.6,859.1 659.2,862.4 662.8,861.9 664,858.7 661,852.7 659.5,852.1" fill="#c23e7e"/><polygon points="650.4,911.7 646.5,916.9 645.1,917 638.2,911.6 638,911.2 638,911.1 644.9,907.8" fill="#c64584"/><polygon points="579,892 575.3,900.2 573.9,899.8 568.8,893 570.3,890.7 576.7,889.9" fill="#c44180"/><polygon points="655.6,910.3 662,914.9 666.1,907.5 663.2,904.5 657.8,904.9" fill="#c64584"/><polygon points="513.2,942.7 511.3,950.7 505.4,949.9 504.6,942.5" fill="#bf3b7b"/><polygon points="769.8,805 767.8,809.1 765.2,810.3 759.3,804.6 759.8,803.3 765.7,800.6" fill="#c13a7b"/><polygon points="476.6,887.8 481.9,882 478.6,876.5 476.1,876.4 476.1,887.9" fill="#c44180"/><polygon points="610.1,809.8 611.9,814.1 610.2,817.7 607.3,818.3 603.7,815.3 603.9,811.9 608.4,808.9" fill="#c44180"/><polygon points="677.1,950.5 678.6,955.4 674.6,959 671.3,957.9 669.3,951.3 670.7,949.1" fill="#bf3b7b"/><polygon points="553.4,978.3 552.8,978.5 551.3,986.3 553.6,988 560.5,984.3 560.9,982.8 560.1,981.1" fill="#c23e7e"/><polygon points="551.8,924 547.7,923.8 546.6,929.5 550.2,934.1 550.5,934 555.1,928" fill="#c44180"/><polygon points="786.5,839.2 783.2,830.9 779.6,832.8 778.1,838.2 781.5,840.8 786,839.9" fill="#c64584"/><polygon points="530.1,943.9 536.3,939.3 539.8,941.8 539.1,947.5 534.6,950.2 530.1,944.2" fill="#c23e7e"/><polygon points="657.6,960.4 651.1,952.5 646.6,958.2 650.3,962.2 657.5,960.4" fill="#c23e7e"/><polygon points="592.9,827.7 597.7,824.4 596.7,820.2 591.4,818 589.3,822.2" fill="#c23e7e"/><polygon points="762.7,826.1 761.5,830.4 761.9,831 767.6,832.2 770.9,828.5 770.5,824.3 766.8,823.4" fill="#bf3b7b"/><polygon points="677,977.4 678.8,970.4 675.1,967.5 667.9,970.8 666.8,974.8 666.8,974.9" fill="#c23e7e"/><polygon points="711.8,774.3 720.7,774.3 717.6,782.1 716,781.7 711.5,776.3" fill="#c13a7b"/><polygon points="496.3,940.3 494.3,944.2 495.8,949.6 502,950.8 503.6,949.4 502.8,942.3 502.5,941.8 497.2,940.1" fill="#c44180"/><polygon points="549.9,963.6 549.6,959.6 545.6,956.2 539.9,960.6 544.6,966.4" fill="#c44180"/><polygon points="633.5,807.5 639,808.9 641.5,813 636,817.2 632.8,816.3" fill="#c64584"/><polygon points="500.5,926.9 500.4,927 493.8,926.2 492,921.4 493.6,919.4 499.9,919.7" fill="#c23e7e"/><polygon points="720.9,804.5 723.2,810.5 728.6,810.8 728.9,810.5 730,806.6 726.2,801.4" fill="#c44180"/><polygon points="588.7,945.3 594.6,948.4 592.3,952.4 587,953.1 585.7,951.5 585.9,946.1" fill="#c13a7b"/><polygon points="625.9,915.6 626.5,915.9 629.7,922.7 627.1,925.1 623.2,923.8 620.7,918.9" fill="#c13a7b"/><polygon points="699.9,832.5 699.2,836 702.3,841.1 708.4,840.7 708.7,836.9 703.2,831.5" fill="#bf3b7b"/><polygon points="605.6,801.2 598.3,802.5 596.9,807.2 602.7,810 607,807.2" fill="#c23e7e"/><polygon points="624.4,886.1 629.5,878.6 631.7,879.2 631.7,879.2 632.5,887.5 624.7,888.6" fill="#c13a7b"/><polygon points="600.4,927.2 596.2,924.2 596.6,919.3 603,918.6 603.7,919.9 602.1,927" fill="#c44180"/><polygon points="706.3,921.9 711.1,921.6 712.9,920.1 711.8,913.9 710.8,912.7 706.6,911.5 702.8,913.9 702.3,918.2" fill="#c64584"/><polygon points="476.7,916.2 476.7,926 481.9,925.6 484.7,921.3 479.6,915.8" fill="#bf3b7b"/><polygon points="670.3,777.2 676.4,777.4 676.4,773.8 667.7,773.8 667.7,774.6" fill="#bf3b7b"/><polygon points="763.5,963.3 756.9,964.9 756.1,966.6 758.5,972.1 762.4,972.1 764.8,967.2" fill="#c13a7b"/><polygon points="551.2,936.4 550.8,936.5 548.5,940.1 552,946.2 555.6,947.1 558.8,942 558.1,939.3" fill="#c64584"/><polygon points="637.5,988.7 635.3,986.5 638.2,979.6 641.9,979.2 645.3,980.6 645.9,981.3 643.1,988.1" fill="#bf3b7b"/><polygon points="515.4,855.3 510.6,851 514.3,845.5 518.1,845.9 520.9,848.8 521.3,851.6" fill="#c13a7b"/><polygon points="693.8,886.1 701.4,884.5 704.4,886.9 702.8,892.6 695.2,893.9 693.5,891.2" fill="#c13a7b"/><polygon points="779.6,886.5 787.7,884.8 787.9,884.4 785.8,877 781.3,876.6 777.8,879.9 777.5,881.5" fill="#c64584"/><polygon points="679.3,884.1 677.1,881.2 672.7,879.7 670,882.8 671,889.1 678.5,886.4" fill="#bf3b7b"/><polygon points="529.1,942.2 535.1,937.8 534.8,936.5 528.1,932.3 525.1,932.9 524.7,936.5" fill="#bf3b7b"/><polygon points="724.9,978.9 718.2,978.9 717.8,973.6 721.6,970.7 725.6,976" fill="#c44180"/><polygon points="572.1,988.6 570.3,992.3 565.9,992.3 562.8,985.3 563.2,983.9 569.9,983" fill="#bf3b7b"/><polygon points="502.6,972.9 503.1,979.1 499.2,980.2 494.8,974.3 495,972.6 496.7,971.7" fill="#c23e7e"/><polygon points="478.4,983.9 483.8,990.7 488.5,985.5 486.2,981 483.2,980.3" fill="#c13a7b"/><polygon points="608.9,868.7 604.8,867.6 602.6,868.8 602.3,869.8 604.7,876.5 606.1,876.8 610.2,873.1" fill="#bf3b7b"/><polygon points="762.8,888.6 754.8,887.3 753.5,888.6 756.9,896.5 758.2,897.1 760.8,896.5 762.9,888.8" fill="#c13a7b"/><polygon points="782,852.7 787.8,851.5 789.5,858 785.9,860.8 781.5,856.3" fill="#c44180"/><polygon points="711.4,802.9 716.8,802 716.1,794.5 711.4,794.5 708.9,797.7" fill="#c44180"/><polygon points="731.3,842.6 734.1,838.4 739.4,838.1 740.3,844.8 739,846.8" fill="#bf3b7b"/><polygon points="515.9,808.8 524.4,810.9 528.1,806.5 528.4,801.7 523.8,796.6 518.8,797.7" fill="#bf3b7b"/><polygon points="555.8,967.9 550.6,965.7 545.2,968.6 544.1,972.5 544.8,974 551.5,976.3 552.1,976.2" fill="#c44180"/><polygon points="754.4,964.1 752.1,960.6 745.8,960.2 744.9,961 745.3,967.5 747.5,968.3 753.7,965.8" fill="#c13a7b"/><polygon points="609.2,960.2 603.8,959.3 602.7,960.2 603.2,968.1 609.9,968.6 611.1,965.6" fill="#c13a7b"/><polygon points="790,932.5 791.9,939.2 786.3,942.4 785.2,941.8 785.2,935.3 788.4,932.4" fill="#c13a7b"/><polygon points="603.1,787.8 611.8,785.6 614.2,787.1 614.7,794.3 608,796.3 603,787.9" fill="#c23e7e"/><polygon points="613.3,966.7 612.2,969.8 612.7,971.1 617.4,973.3 623,971 623.8,968 621.1,965.1" fill="#c13a7b"/><polygon points="740.8,848.8 740.7,848.1 742.1,846 750.3,844.2 751.3,844.9 751.4,845.1 747.9,853.4 744,853" fill="#bf3b7b"/><polygon points="545.1,911.6 545.2,911.7 545.3,911.8 544.3,919 537.4,920.1 536,913.4 536.3,912.8" fill="#c13a7b"/><polygon points="575.8,880.6 576.2,887.6 569.8,888.4 566.9,881.1 567.7,880 572.5,878.3" fill="#c64584"/><polygon points="607.2,984.7 607.8,982.6 607,980.1 599.5,977.4 598.3,978.5 597,984.5 605.8,985.7" fill="#c23e7e"/><polygon points="634.2,887.9 635.7,889 639.1,888.7 640.8,885.7 639.1,881.6 633.4,879.7" fill="#c23e7e"/><polygon points="798.7,794.2 802.3,796.3 802.3,798.4 797,803.2 792.8,801.1 792.6,796.6" fill="#c23e7e"/><polygon points="726.2,908.5 730.2,909.7 733.4,913.6 728.4,918.6 725.1,917 724.5,910.8" fill="#c64584"/><polygon points="557.9,917.6 563.1,920.6 564,925.1 562.3,927.1 557,927 553.6,922.8" fill="#c64584"/><polygon points="688,797 688.1,796.6 685.4,789.2 683.6,788.9 680.2,794.5 682.1,798 685,798.7" fill="#bf3b7b"/><polygon points="562.4,906.6 563.2,903.8 560.3,899.9 556.3,903.1 556.1,904.9 559.5,907.7" fill="#c13a7b"/><polygon points="768.1,938.9 759.7,938.7 758.9,945.2 759.6,946.4 767.7,945.6" fill="#c23e7e"/><polygon points="718,794.3 718.7,801.9 719.7,802.3 725.1,799.2 726.3,795.8 719.9,792.7" fill="#c44180"/><polygon points="689.5,973.6 685.4,968.9 687.1,966.8 693.7,966.7 693.4,972.4" fill="#c13a7b"/><polygon points="637.3,912.8 634.7,922.3 638.7,924.1 644.4,918.4" fill="#c23e7e"/><polygon points="522.4,951.7 525.9,955.1 525.6,959.7 523.7,960.3 520.5,958.9 519.4,953.7" fill="#bf3b7b"/><polygon points="796.5,970.2 796.4,964.9 791.3,962.7 786.3,966.3 786.3,966.4 790.4,971.7 792.4,972.5 795,971.8" fill="#c13a7b"/><polygon points="777.6,914.9 773.9,920.5 768.7,920.4 768.2,919.4 770.3,910.9 771.9,910.5 777.6,914.7" fill="#c13a7b"/><polygon points="777.7,887.6 775.5,882.5 766.4,884.1 765.1,887.8 765.2,887.9 773.4,891.5 777,889.8" fill="#c64584"/><polygon points="782.9,985.8 779.4,987.5 775.9,985.2 775.8,984.4 780,979.8 780.2,979.9 783.2,983.5" fill="#c23e7e"/><polygon points="783.5,811 777.7,816.1 777.7,819.3 783.6,822.2 787.4,818 786.8,814.8" fill="#c13a7b"/><polygon points="605,939.9 607.1,943.2 606.4,946.7 602.8,948.6 599.2,946.8 599.9,940.6" fill="#bf3b7b"/><polygon points="570.8,780.1 572,774.4 580.2,774.4 581,778.5 575.7,783.3" fill="#c13a7b"/><polygon points="663.3,786.5 661,789.6 657.2,789.9 654.3,787.8 655.7,780.3 660.2,780.8" fill="#c44180"/><polygon points="611.7,972.9 609,979.3 609.9,981.8 616.6,980.7 616.3,975.1" fill="#c13a7b"/><polygon points="563.2,909.8 567.1,913.6 563.3,918 558.9,915.4 558.8,915.2 560.3,910.9" fill="#c44180"/><polygon points="768.5,910.2 765.6,908.5 757.3,911.4 757.3,915 766.4,918.9" fill="#c44180"/><polygon points="703.4,904.4 705,909.8 701.4,912 695,909.8 698.4,903.8" fill="#c64584"/><polygon points="477.9,888.8 483.2,883 486,883.3 489.9,888.2 485.4,893.3" fill="#bf3b7b"/><polygon points="689.1,883.2 681.7,884.8 680.9,887.2 683,892.6 691.2,890.8 691.5,885.8" fill="#c23e7e"/><polygon points="763.4,961.4 756.4,963 754,959.5 756,953.5 758,952.1 764.2,959.8" fill="#c64584"/><polygon points="762.5,876.6 756,876.1 755.5,872.3 760.2,866.7 762.4,867.2 765,873" fill="#bf3b7b"/><polygon points="785.6,827.1 785.3,824.2 789.2,819.8 794.4,821.7 794.9,827.8 792.7,829" fill="#c44180"/><polygon points="525.3,910.2 529.4,903.9 533,906.4 534,911.8 533.7,912.4 527.2,913.2" fill="#c64584"/><polygon points="500.6,962.6 497.5,969.6 503.8,970.8 506.1,968.9 505.3,963.5 502.3,961.8" fill="#c23e7e"/><polygon points="642.8,886.5 641.1,889.5 643.4,892.5 647.4,892.8 651,887.7 649.9,885.7" fill="#c44180"/><polygon points="618,934.3 626,935 627.1,933.7 626.7,927.3 622.7,925.9 617.5,929.5" fill="#c64584"/><polygon points="603.2,914.9 602.8,916.7 596.2,917.4 595.3,916.5 596.6,909 599,907.3 599.1,907.3" fill="#c23e7e"/><polygon points="706.6,935.9 709.7,943.1 714.2,943.4 719.3,936.3 710.7,933.7" fill="#bf3b7b"/><polygon points="693.2,784.9 694.7,785.6 697.4,791.3 697.4,791.5 690,795.7 687.2,787.9" fill="#bf3b7b"/><polygon points="544.5,876.4 535.5,877 535,877.4 534.9,882.3 540.4,884.4 546.6,880.2 546.9,878.3" fill="#c44180"/><polygon points="744.8,780 743.4,786 742.8,786.2 737.1,781.9 740.5,774.9 741,774.9" fill="#bf3b7b"/><polygon points="667.4,933.7 667.4,933.5 670.2,928.1 674.7,927.3 675.5,933.3 673.6,935.9" fill="#bf3b7b"/><polygon points="574.4,785.3 569.3,781.9 563.1,784.8 563,786.2 566.8,792 572,792.9 574.9,787.5" fill="#c23e7e"/><polygon points="753.7,986.2 749.5,986.2 748.5,984.9 748.8,980.9 750.8,978.7 754.1,978.6 756.7,982.7" fill="#c23e7e"/><polygon points="763,987.1 762.5,984.8 758.6,984.1 755.7,987.5 758.8,992.1 759.6,992.1" fill="#c13a7b"/><polygon points="524.1,984.7 526.6,984.3 530.2,981.6 530.4,973.8 530.1,973.5 527.3,973.4 520.6,978.2 521.1,981.6" fill="#c44180"/><polygon points="750.5,922.9 748.7,925 744.3,925.9 740.7,924.4 739.6,915.7 741.9,914.4 751,920.2" fill="#c44180"/><polygon points="801.9,887 794.9,882.9 790.5,885.4 790.2,885.9 793.9,892.3 801.9,887.6" fill="#c64584"/><polygon points="737.1,939.4 733,945.7 729.5,945.8 725.4,938.2 733.5,935.6" fill="#c23e7e"/><polygon points="797.9,917.3 797.6,916.1 802.8,909.7 802.8,919.7" fill="#c44180"/><polygon points="476.1,810.1 476.1,797.8 481.9,798.1 478.9,809.1" fill="#c13a7b"/><polygon points="789.8,992.9 789.9,991.3 794.7,987 796.1,987.2 801,992.9" fill="#c13a7b"/><polygon points="500.1,893.8 495.4,888.2 500,882.3 501.9,881.9 502.6,882.1 506.4,887.6 504.3,892.8" fill="#c23e7e"/><polygon points="600.8,929.6 596.7,935.5 599.6,938.2 604.7,937.5 605.9,934.4 604.7,930.7 602.4,929.4" fill="#c13a7b"/><polygon points="632,818.5 635.1,819.4 638.5,824.4 632.2,828.3 628.7,826.5 628.6,826.3 631,819" fill="#bf3b7b"/><polygon points="561.9,966.8 562.5,965.8 568.3,963.3 571.6,964.9 572.3,968.1 569.7,971.3 564.9,970.6" fill="#c13a7b"/><polygon points="742.2,806 740.5,811.6 731,810.7 732,806.6 736.1,804" fill="#c44180"/><polygon points="504.2,852.2 500.9,848.5 494,851.1 494.1,857.4 496.2,858.9 501.1,857.8" fill="#c44180"/><polygon points="616.1,824.1 612.1,819.2 613.7,815.7 619.8,817 618,823.6 616.8,824.2" fill="#c13a7b"/><polygon points="476.6,862.1 482.6,865.8 486.6,859.1 481.4,855.6 476.6,858.8" fill="#c13a7b"/><polygon points="481.4,914.7 486.4,920.2 489.9,919.8 491.4,917.9 490.5,913.5 483.5,912.7" fill="#bf3b7b"/><polygon points="691.7,783.5 685.7,786.6 683.8,786.2 680.6,782.9 680.4,780.2 686.7,777.6 690.8,780.3" fill="#c23e7e"/><polygon points="802.7,943.3 802.7,936.4 800.8,936.7 798.5,941 799,942" fill="#c13a7b"/><polygon points="694.2,782.2 695.5,782.8 700.6,779.6 698.6,775.2 696.1,775.2 693.4,779.6" fill="#c23e7e"/><polygon points="622.2,905.2 621.8,906.1 614.5,909.8 613.6,909.4 610.4,903.2 616.6,900.1" fill="#c64584"/><polygon points="489,842.7 485.6,837.6 490.1,831.5 492.4,831.9 493.8,839.1" fill="#c64584"/><polygon points="598.7,850.8 598.2,853.8 605.6,857 610,855 609.6,849.8 605.9,848 599.2,850.1" fill="#c23e7e"/><polygon points="790.9,897 782.1,896.2 781.3,902.4 782.1,903 789.5,901.9" fill="#c23e7e"/><polygon points="540.4,781.9 544.7,788.1 544.6,790.3 538.8,793.7 530.9,786.1 531.6,784.1 534.7,781.5" fill="#c64584"/><polygon points="527.7,860.3 526.6,855.2 533,853.4 534.6,859.1 531,862.7 530.9,862.7" fill="#c23e7e"/><polygon points="595.8,898.1 599.5,905 599.5,905 606.8,902 604.4,894.3" fill="#c23e7e"/><polygon points="730.6,896.5 727.3,898.1 725.2,902.6 726.6,906 730.8,907.3 736.9,899.9 735.1,897.1" fill="#c23e7e"/><polygon points="632.4,778.7 634.6,776.1 634.5,773.8 622.3,773.8 624.6,778.3" fill="#bf3b7b"/><polygon points="776.7,971.5 776.6,972.4 780.2,977.2 780.4,977.2 788.2,972.5 784,967.2 778.9,968.3" fill="#c23e7e"/><polygon points="532.3,821.1 528.5,820.2 527.9,828.1 532.1,830.5 533.6,829.9 535.1,826.2" fill="#bf3b7b"/><polygon points="648.8,875.3 652,871.7 655.4,872 657.5,875.6 657.4,875.9 652.2,879.5" fill="#c23e7e"/><polygon points="683.5,967.7 680.4,968.8 676.7,965.9 675.9,960.8 680,957.1 684.4,958.4 685.3,965.5" fill="#c13a7b"/><polygon points="780.3,956.1 782.6,956.6 784.1,964.8 784,964.9 779,965.9 775.9,960.2" fill="#c23e7e"/><polygon points="634.3,779.9 636.4,777.5 642.8,780 642.8,783.3 638.8,786.3 634.8,784.2" fill="#c13a7b"/><polygon points="590.2,864.4 584.5,861.5 587.4,856.2 594.4,856.4 593.9,861.8" fill="#c64584"/><polygon points="669.3,784.9 672.8,786.6 678.4,782.8 678.2,780.1 677.2,778.9 670.7,778.6" fill="#bf3b7b"/><polygon points="794,895.5 794.3,893.8 802.5,889.1 802.5,900.7" fill="#bf3b7b"/><polygon points="765.6,846 761.9,851.5 762,852.2 768.5,854.7 770.5,849.2 768.1,845.7" fill="#c23e7e"/><polygon points="499.2,898.9 501.8,904.7 506.8,903.9 507.1,897.4 504.6,895.3 500.5,896.2" fill="#c64584"/><polygon points="499.9,846.6 493.4,849.1 490,845.2 490,845 495,841.2 499.9,842.8" fill="#c13a7b"/><polygon points="795.3,784 794.5,781.9 789.8,780 785.1,783.4 790.2,787.2" fill="#c13a7b"/><polygon points="782.2,874.4 781.2,868.4 785.8,865.2 789.9,870.4 789.7,872.2 786.4,874.7" fill="#c13a7b"/><polygon points="731.9,831.4 734.1,836.3 739.5,836 740.5,835 741.2,829.6 739.9,828.6 732.9,829.5" fill="#c23e7e"/><polygon points="546.9,988.1 545,992.7 552.6,992.7 552,989.4 550,988" fill="#c13a7b"/><polygon points="519.1,830.1 518.4,831.3 512.5,831.8 511.6,824 511.8,823.9 516.8,825" fill="#c44180"/><polygon points="542,866.5 536,867.6 532.6,864 536.5,860.2 541.6,860.6 542.3,865.8" fill="#c44180"/><polygon points="647,938.2 641.3,939.1 641.1,943.6 641.6,944.1 647.1,945.5 648.7,941.8" fill="#c13a7b"/><polygon points="795.3,953.1 794.1,950.1 788.7,948.9 787.1,953.5 791.2,955.6" fill="#c13a7b"/><polygon points="630.2,802.5 625.1,794.9 627.5,791.4 629.3,791.2 635,796.9 630.8,802.5" fill="#c64584"/><polygon points="772.7,790.8 776.7,782.2 777.5,781.7 780.9,784.1 780.4,790.6 774.7,792" fill="#c13a7b"/><polygon points="582.6,833.2 581.8,833.7 575.5,832.8 573.8,828.5 579.2,823.8 581.8,825.1" fill="#c64584"/><polygon points="481.6,783.1 476.5,781.7 476.5,774.1 485.9,774.1 486.2,780" fill="#c44180"/><polygon points="488.3,980.7 490.5,985.1 494.6,986.2 496.3,985.4 498.1,982.2 493.5,976.1" fill="#c44180"/><polygon points="663.2,953.3 660.3,960 663.5,961.4 669.5,958.5 667.5,952" fill="#c64584"/><polygon points="723.7,938.4 721,936.9 721,936.9 715.8,944.2 717,946.4 725.7,948.7 727.8,946.2" fill="#c23e7e"/><polygon points="674.3,792.1 678.5,793.1 681.9,787.5 679,784.5 673.6,788.1" fill="#c64584"/><polygon points="546.3,821.3 549.1,819.9 554.9,821.5 554.8,828.2 552,829.8 546.7,828.6 545.2,824.5" fill="#c13a7b"/><polygon points="721.5,964.4 713,962.3 711.8,958.7 715.4,956.2 721.5,957.6 721.6,964.3" fill="#bf3b7b"/><polygon points="594.2,923.7 594.6,918.8 593.7,917.9 586.4,917.5 585.3,918.5 588.8,925.8" fill="#c44180"/><polygon points="499.2,779.1 493.2,782.6 496.3,792.2 496.7,792.2 507.2,786.8" fill="#c13a7b"/><polygon points="651.3,931.2 649.7,928.8 651.1,924 657.9,924.8 657.9,927.9 654.1,931.5" fill="#c44180"/><polygon points="615.5,954.1 615.6,952 619.4,948.3 621.2,948.2 625.5,953.4 621.1,957.7" fill="#bf3b7b"/><polygon points="632.2,877 637.3,870.3 635.6,867.8 628.2,867.4 627.5,867.8 629.4,875.8 630,876.4" fill="#c13a7b"/><polygon points="653.5,992.6 654.1,985.1 659.3,986.2 661.9,992.6" fill="#c13a7b"/><polygon points="664.6,962.8 667.6,969 674.7,965.9 673.9,961 670.7,959.9" fill="#c64584"/><polygon points="679.1,816.2 682.1,811.6 685.5,810.7 689.7,812.9 688.8,819.8 685.4,820.7" fill="#c64584"/><polygon points="476.2,982.8 476.2,973 480.3,973.4 482.1,979.1 477.3,982.7" fill="#c64584"/><polygon points="681.4,896.3 676.2,899.4 676.4,904.5 680.4,905.5 684.8,901.8" fill="#c64584"/><polygon points="504.1,836.5 498,830.7 495,831.8 496.3,838.6 500.7,840.1" fill="#c64584"/><polygon points="711.9,805 717.5,804.1 718.5,804.5 720.9,810.7 717.2,814.7 711.5,811.3 710.8,806.9" fill="#bf3b7b"/><polygon points="477.6,845.4 477.6,839.4 483.4,839.7 486.7,844.7 486.7,844.8 481.9,848.4" fill="#c44180"/><polygon points="598.2,948.8 601.8,950.7 602.2,957.3 601.1,958.1 597.4,958.2 594.4,953.4 596.8,949.3" fill="#c13a7b"/><polygon points="567.5,826.3 561.2,830.9 557.1,828.3 557.1,821.4 559.5,819.7 565.6,821.6" fill="#bf3b7b"/><polygon points="513.6,858.9 508.5,863.2 503.2,858.3 506.3,852.8 508.8,852.5 513.8,856.9" fill="#c64584"/><polygon points="570.8,840.3 572,843.2 579.8,844.2 581.4,835.6 574.7,834.7" fill="#c13a7b"/><polygon points="718,988.2 713.4,991.6 713.1,993.2 725.4,993.2 724.4,989.9" fill="#c13a7b"/><polygon points="558.2,851 563.7,852.8 564.1,857.4 560.3,859.2 556.8,855.7" fill="#c23e7e"/><polygon points="748.2,942.1 757.1,944.6 757.9,937.9 757.2,936.5 752.9,935.3 747.4,940.4" fill="#c44180"/><polygon points="581.8,892.6 588.3,897 584.1,903.9 577.7,902.9 576.6,901.1 580.4,892.7" fill="#c44180"/><polygon points="683.9,992.4 685,983.2 678.9,980.5 675.6,986.6 681.9,992.4" fill="#c64584"/><polygon points="525.3,886.3 529.2,886.1 532.7,882.6 532.8,877.8 525.1,875.4 523.1,879.8" fill="#c23e7e"/><polygon points="669.4,798.3 673.3,804 673.3,804.1 669.1,807.9 665.5,806.1 664.5,801.5 666.7,798.3" fill="#bf3b7b"/><polygon points="797.6,785.4 799.3,792.3 802.9,794.4 802.9,784.9" fill="#c64584"/><polygon points="655,823 655.5,818.5 648.8,815.9 646.1,823.6 649.5,825.6" fill="#c64584"/><polygon points="702.1,929.7 706,924.3 710.7,924 709.6,932 705.5,934.2 704.3,933.8" fill="#bf3b7b"/><polygon points="648.4,802 650.7,806.2 654.5,805.3 655.3,801.3 654,799.8 649.4,800.6" fill="#c44180"/><polygon points="776,949 778.9,954.4 774.3,958.6 769.8,957.5 771.2,948.9" fill="#c44180"/><polygon points="732.3,933.8 732.5,928.6 729.1,927 723.3,930.4 722.4,934.9 724.8,936.2" fill="#bf3b7b"/><polygon points="483.1,900.4 484.6,899.3 484.3,895.2 477.5,891.1 477,891.1 477,899.9" fill="#c23e7e"/><polygon points="480.8,854 480.9,850.8 476.5,847.7 476.5,856.9" fill="#bf3b7b"/><polygon points="690.4,797.9 690.6,797.5 697.7,793.4 700.3,797 698.4,801.6 694.7,802.5" fill="#c13a7b"/><polygon points="565.5,919.9 569.9,914.8 573,914.5 576.8,918.7 573.8,925.1 566.3,924.2" fill="#c44180"/><polygon points="654.6,983.1 653.5,981.7 658.9,975.4 664.5,976.1 664.6,976.2 664.1,980.3 659.9,984.2" fill="#c13a7b"/><polygon points="483.5,938.6 488.3,935 489.1,935 494.1,939.2 492.1,943 485.5,944.5" fill="#bf3b7b"/><polygon points="593.9,829.3 598.9,826 603.4,828.1 603.7,828.5 599.8,835.6 598.2,836 593.8,829.9" fill="#c64584"/><polygon points="513,809.6 510.2,812.9 496.1,811.5 495.9,811.4 502.5,802.3 506.2,802.4" fill="#bf3b7b"/><polygon points="652.7,884.3 653.6,886.2 657.7,888 660.7,882.5 658.1,878.7 652.9,882.2" fill="#c13a7b"/><polygon points="620.9,782.6 622.2,778.9 619.9,774.5 613.6,774.5 612.9,775.8 613.3,783.6 615.6,785.1" fill="#c23e7e"/><polygon points="503.3,879.1 503.4,872.1 507.9,869.8 510.8,872.5 510.5,876 503.8,879.3" fill="#c64584"/><polygon points="581.5,970.8 580.6,976.8 585.2,977 587.2,974.1 586.2,970.9 583.3,970" fill="#c13a7b"/><polygon points="688.8,881.6 689.2,877.7 683.6,871.8 679.1,880.1 681.3,883.2" fill="#c23e7e"/><polygon points="577.5,809.1 579.5,812.8 577.6,817.9 571.5,816.2 571.6,812.5 575.8,809.2" fill="#c44180"/><polygon points="596.4,848.7 590.5,845.1 591.5,841.6 596.5,840.2 596.8,848.1" fill="#c23e7e"/><polygon points="524.2,898.8 522.4,890.3 518.5,891.2 516.1,896.7 518,900" fill="#c13a7b"/><polygon points="618.6,834.7 618,826.3 619.3,825.7 626.4,827.6 626.5,827.9 622.6,835.7" fill="#c44180"/><polygon points="683.6,832.8 677.3,837.1 677.3,837.9 680.7,840.4 688,839.6 688.2,839.1 686.7,834" fill="#c44180"/><polygon points="533.2,992.5 535.6,992.5 537.3,985 531.4,983.2 527.8,985.9" fill="#bf3b7b"/><polygon points="569,859.3 566.5,857.7 566.1,852.5 569.8,850.2 574.4,855.1 574.3,857" fill="#c23e7e"/><polygon points="556.5,952.5 555,949.5 551.5,948.6 546.9,952.2 546.9,954.3 550.7,957.5" fill="#bf3b7b"/><polygon points="622.2,887 617.1,882.5 612.2,885 611.5,888.3 618,892.2 622.3,890 622.5,889.6" fill="#c44180"/><polygon points="717.7,856.4 717.2,860.7 722.1,866.2 726.1,863.1 727,859.4 720.5,855" fill="#c64584"/><polygon points="515.9,903.3 516.4,901.4 514.5,898.2 509.1,898 508.8,904.4 511.2,906.1" fill="#c44180"/><polygon points="587.9,781.5 583.5,778.4 582.7,774.2 592.3,774.2 590.7,780.3" fill="#bf3b7b"/><polygon points="613.1,954.4 613.2,952.3 607.5,948.7 603.9,950.6 604.3,957.2 609.5,958.1" fill="#c44180"/><polygon points="666.6,935.3 673.3,937.6 673.4,937.8 669.6,945.4 663,940" fill="#bf3b7b"/><polygon points="789.7,883.7 787.6,876.5 791,873.8 794.9,877.2 794.1,881.3" fill="#c64584"/><polygon points="756,779.9 760.6,774.5 763.9,774.5 765.1,780.6 763.9,782.3 757,782.5" fill="#c64584"/><polygon points="519.2,871 513.8,872.4 513.6,876 515.4,878.3 521.1,878.3 522.9,874.2 522.7,873.5" fill="#c64584"/><polygon points="633.6,877.5 638.6,871.1 640.5,871.3 644.3,875.3 639.4,879.4 633.6,877.6" fill="#c13a7b"/><polygon points="650.1,846.8 643.7,845.2 643.2,843.7 645.3,838 649.3,837.1 652.3,841.2" fill="#c23e7e"/><polygon points="708.6,807.6 709.4,812 703.8,816.6 700.5,812.6 703,807.8" fill="#c23e7e"/><polygon points="547.3,808.3 547.7,817.3 545.1,818.7 540,815.6 540.3,809.8 543.1,807.8" fill="#c44180"/><polygon points="772.4,892.8 770.2,897 764.7,898.5 762.5,897.1 764.5,889.5" fill="#c23e7e"/><polygon points="618.5,797.4 623.7,796.5 628.2,803.2 622.5,805.5 620.3,804.3" fill="#c44180"/><polygon points="734.6,793.3 732.2,792.4 731.4,784.9 735.8,783.8 741.4,788 738.3,792.3" fill="#bf3b7b"/><polygon points="633.5,986.2 636.4,979.3 635,978.2 628,978 626.5,981.5 629.6,986.8" fill="#c23e7e"/><polygon points="691.9,845 694.2,846.9 696.2,847.1 700.2,842.4 697.2,837.5 690.7,840.3 690.5,840.8" fill="#c44180"/><polygon points="638.8,958 640.5,959 639.2,965.8 634.6,966.9 631.7,965.3 633.8,958.2" fill="#bf3b7b"/><polygon points="498.8,986 503.6,990.9 508.7,986.7 508.8,985.3 506.4,982.1 504.7,981.5 500.5,982.7" fill="#c44180"/><polygon points="554.5,900.6 549.7,897 550.3,893.4 552.8,891 556.2,891.3 559.5,894.8 559.2,897" fill="#c44180"/><polygon points="607.2,859.3 606.2,865.1 609.9,866.1 613,864 612.9,858.8 611.1,857.5" fill="#c23e7e"/><polygon points="713.8,914.1 714.9,920 716.7,920.7 723,917.9 722.4,911.6" fill="#c64584"/><polygon points="498.5,777.9 492.5,781.4 487.9,779.9 487.6,773.9 499.2,773.9" fill="#c44180"/><polygon points="681,893.7 680.7,894.5 675.4,897.6 670,893.4 671.2,891.2 678.9,888.4" fill="#c64584"/><polygon points="651.7,942.4 650,946.4 651.7,948.9 657.2,946.8 659,941.5 657.4,940.8" fill="#c13a7b"/><polygon points="623.2,885.5 618.1,881 619,877.2 627.9,877.3 628.4,877.9" fill="#c13a7b"/><polygon points="503.1,959.8 503.5,953 505.1,951.6 511,952.4 511.5,952.8 510.6,960 506.3,961.5" fill="#c44180"/><polygon points="722.4,854 722.9,852.8 727.7,850.5 730.5,854.4 730.1,856.2 727.8,857.6" fill="#bf3b7b"/><polygon points="510.7,984.5 508.3,981.1 514.7,974.7 518.4,978.4 519,981.8" fill="#bf3b7b"/><polygon points="493.8,887.4 498.3,881.6 491.8,876.8 487.6,882.5 491.5,887.4" fill="#bf3b7b"/><polygon points="679,842.1 679.9,848.4 673.8,850.3 671.6,847.5 671.4,843.2 675.6,839.7" fill="#c23e7e"/><polygon points="587.5,955 592.7,954.3 595.7,959.1 592.1,962.1 587.4,958.3" fill="#c13a7b"/><polygon points="591.7,895.3 589.6,895.7 583.4,891.4 588.6,885 592.8,890.3" fill="#bf3b7b"/><polygon points="693.9,898.7 688.9,902.6 692.7,909.2 693.3,909.1 696.7,903" fill="#c23e7e"/><polygon points="605.7,827.3 608,828 614.3,825.1 610.3,820.1 607.4,820.7 605.4,826.8" fill="#c23e7e"/><polygon points="762.9,864.8 769.4,860.1 768.1,857.2 760.9,854.3 759.3,856.2 759,862.1 760.7,864.3" fill="#bf3b7b"/><polygon points="698.4,860.1 701,854.7 705.5,855.4 705.7,861.1 702.7,863.6 700.9,863.4" fill="#c23e7e"/><polygon points="684.2,826.3 685.2,829.9 687.7,830.9 691.7,827 691.3,824.8 689,822.7 686.3,823.4" fill="#c23e7e"/><polygon points="537,961.3 538,961.5 542.9,967.7 541.7,971.8 532.2,971.7 531.9,971.4 532.4,963.9" fill="#c64584"/><polygon points="760.3,825.2 759,829.8 753.5,829.4 750.2,826.4 751.5,819.8 753.8,818.4 754.9,818.7" fill="#bf3b7b"/><polygon points="780.3,857.9 773.1,860.8 776.1,865.3 779.8,866.4 784.4,863.3 784.6,862.2" fill="#c23e7e"/><polygon points="552.8,902.9 548.1,899.4 544,902.7 544,902.9 546.5,909.1 546.7,909.2 552.6,904.9" fill="#c13a7b"/><polygon points="622.6,907.6 615,911.4 616.9,916.7 619.4,917.5 624.8,914.1" fill="#c44180"/><polygon points="673.7,899.5 668.9,895.8 668.4,896 665.8,902.7 668.5,905.4 672.1,905.4 673.9,904.1" fill="#bf3b7b"/><polygon points="528.9,838.4 530.8,832.4 526.3,829.9 522,831.8 521.1,833.2 522.5,836.4" fill="#c64584"/><polygon points="746.9,780.7 745.5,786.6 748.5,787.6 753.9,785.4 754.7,783.5 753.7,780.9 752.3,780" fill="#c64584"/><polygon points="716.7,792 712.2,792 710.5,787.3 716,784.2 717.5,784.5 718.5,785.6 718.5,790.4" fill="#bf3b7b"/><polygon points="573.3,992.6 582,992.6 581.7,988.7 579.9,987.9 574.9,989.3" fill="#c23e7e"/><polygon points="671,797.2 674.8,802.7 679.9,798.6 678,795.2 673.8,794.2" fill="#bf3b7b"/><polygon points="795.7,819.5 790.7,817.7 790.1,814.4 797.7,810.6 801.8,814 801.8,816" fill="#c64584"/><polygon points="628.1,897.7 625.7,904 633.8,904.7 635,900.9 632.8,897.9" fill="#c23e7e"/><polygon points="478.9,873.8 476.6,873.8 476.6,864.4 482.1,867.8 482.6,869.4" fill="#c64584"/><polygon points="583.7,945.9 583.5,951.5 576.6,953.2 572.3,950.1 572.4,949.9 580.9,943.7" fill="#bf3b7b"/><polygon points="603.2,877.5 600.8,870.7 594.7,874.3 595.3,878.5 599,880.1" fill="#c23e7e"/><polygon points="695.2,940.2 695.1,942.7 691.4,947.4 684.8,943.4 688.2,935.5 688.7,935.1" fill="#c64584"/><polygon points="667.2,871.7 666.6,865.9 672.5,866.1 674.1,869.1 670.7,873.5" fill="#c13a7b"/><polygon points="621.7,847.4 624.4,852.4 627,852.4 629.9,849.3 629.3,843 625.6,842.1" fill="#c23e7e"/><polygon points="655,899.5 658.2,891.4 657.7,890.7 652.7,888.5 649,893.9 650.6,897.9" fill="#c44180"/><polygon points="745.6,943 744.1,948.3 737.6,948.5 735.1,946.1 739,940.2 742,939.8 744.9,941.4" fill="#c44180"/><polygon points="613.4,925.5 616.4,927.7 621.2,924.3 618.7,919.5 616.3,918.7 613.4,921.7" fill="#c13a7b"/><polygon points="654.2,851.6 658.9,850.1 659.7,842.6 654.1,842.2 651.9,847.8" fill="#bf3b7b"/><polygon points="569.7,960.6 569.5,953.8 571.4,952.3 575.1,955 575.7,959.2 572.8,962.2" fill="#bf3b7b"/><polygon points="700.3,986.2 705.2,981 704.2,978.7 702.6,977.4 698.6,977.4 694.5,982.7 696.8,986" fill="#c44180"/><polygon points="495.9,793.9 488.8,797.7 493.8,810.4 495.1,810.6 501.5,801.6 496.3,794" fill="#bf3b7b"/><polygon points="730.1,887.7 731.3,894.4 735.7,895 738.6,889.3 734.4,885.7" fill="#c64584"/><polygon points="762.7,974.5 758.8,974.5 756.3,977.6 758.9,981.8 763.1,982.5 766.1,979 766.1,979" fill="#c44180"/><polygon points="483.8,978.1 486.8,978.7 492.2,973.8 492.4,971.9 486.6,967.2 486.4,967.2 482,972.4" fill="#c13a7b"/><polygon points="657.6,962.1 655.4,970.1 650.9,969.7 649.4,967.2 650.3,963.9" fill="#c44180"/><polygon points="514.6,782.7 525.7,787.7 529.1,785.5 529.7,783.4 520.7,774.2 517,774.2" fill="#c44180"/><polygon points="703.5,936.1 704.8,936.5 707.8,943.5 704.8,946.6 697.5,942.7 697.6,940.3" fill="#c44180"/><polygon points="651.8,981.1 657.3,974.8 655.3,972.2 650.7,971.7 647.3,979.3 647.9,980" fill="#c23e7e"/><polygon points="682.3,870.8 682.2,870.5 675.7,869.9 672,874.7 673.1,877.6 677.7,879.2" fill="#bf3b7b"/><polygon points="579.2,808.2 580.3,806.6 586.7,805.3 591.1,809 589.1,813.4 581.4,812.1" fill="#bf3b7b"/><polygon points="516.9,969.9 521.1,968.8 525.5,972.3 519.3,976.7 515.8,973.2 515.6,972.2" fill="#c64584"/><polygon points="765.7,793.2 758.7,793.3 757,796.3 759.1,801.5 765,798.7" fill="#c64584"/><polygon points="599,928.8 594.7,925.8 589.3,927.8 588.3,931 593.3,935 594.7,935" fill="#c64584"/><polygon points="798.4,969.2 803,969 803,958.3 802.9,958.3 798.3,964" fill="#c44180"/><polygon points="715.6,856.1 710.3,853.3 707.4,855 707.7,860.7 711.7,862.2 715.1,860.1" fill="#c13a7b"/><polygon points="586.2,783.4 582.4,780.8 577.8,785 578.2,786.9 584.3,788.7 585.5,787.9" fill="#c44180"/><polygon points="641.2,791.5 640.6,788.2 644.2,785.5 647.9,788.9 645.8,791.7" fill="#c64584"/><polygon points="743.5,903.7 738.6,901.3 732.5,908.7 735.8,912.7 738.6,913.4 740.8,912.1 744.1,906.1" fill="#bf3b7b"/><polygon points="484.9,868.4 484.4,866.6 488.3,860 492.4,859.4 494.5,861 494.3,867.5 491,870.6" fill="#c23e7e"/><polygon points="761.8,824.2 756.5,817.8 764,814.6 766,821.4" fill="#c13a7b"/><polygon points="790.9,859.6 793.6,859.6 796.1,862.7 795.3,866.6 791.3,868.8 787,863.4 787.2,862.4" fill="#c64584"/><polygon points="787,919 787,918.9 790.6,913.1 795.7,916.6 796,917.7 793,921.7" fill="#c13a7b"/><polygon points="716,979.3 715.6,974.2 712.1,972.7 706.7,978 707.6,980.2 708.1,980.5 716,979.3" fill="#bf3b7b"/><polygon points="612.1,809.2 613.9,813.6 620.5,814.9 621.4,814.2 621.7,807.8 619.1,806.4" fill="#c23e7e"/><polygon points="612.7,855 614.6,856.3 619.5,855.9 622.1,853.4 619.5,848.5 614.6,848 612.3,849.9" fill="#c13a7b"/><polygon points="537.8,937.7 541.2,940 546.2,939 548.4,935.5 544.9,931.1 539.9,931.9 537.6,936.4" fill="#bf3b7b"/><polygon points="608.5,986.6 615.5,992.7 606,992.7 607.2,987.5" fill="#c13a7b"/><polygon points="651.1,933.4 649.3,936.5 651.2,940.2 656.8,938.7 653.7,933.6" fill="#c64584"/><polygon points="667.8,881.1 663.7,880.8 660.8,876.6 660.9,876.3 666,873.8 669.5,875.6 670.4,878.2" fill="#bf3b7b"/><polygon points="514.3,914.6 520,910.1 516.3,905.3 511.7,908 511.9,914.1" fill="#c13a7b"/><polygon points="705.2,903.4 706.9,909.2 711,910.4 714.9,902.1 712.7,899.3 707.5,899.5" fill="#c23e7e"/><polygon points="644.7,800.7 638.9,797 641,794.1 645.9,794.2 647,799.1 645.9,800.6" fill="#c13a7b"/><polygon points="652.4,852.8 651.5,855.2 641.6,856.3 641.6,856.3 640.7,852.2 643.2,847.3 650,848.9" fill="#bf3b7b"/><polygon points="796.5,954.7 792.4,957.2 792.3,960.6 797.2,962.7 801.6,957.2" fill="#c44180"/><polygon points="716.5,980.9 708.4,982.1 712.5,990.3 716.9,987" fill="#c23e7e"/><polygon points="753.2,879.3 744.8,879.2 745.1,886.7 747.6,887.9 751.7,887.1 753,885.8" fill="#bf3b7b"/><polygon points="695,827 699.2,830.3 702.3,829.3 705.3,824.4 702.7,820.5 694.5,824.4" fill="#c13a7b"/><polygon points="504.5,881.3 511.5,877.8 513.4,880.1 512.4,885.6 508.1,886.4" fill="#c44180"/><polygon points="535.3,952.3 535.4,952 539.9,949.4 544.3,952.5 544.3,954.7 538.5,959.1 537.5,958.9" fill="#bf3b7b"/><polygon points="600.8,886.1 600.3,881.8 604.6,879.1 605.9,879.4 609.7,884.3 609,887.5 605.4,889.9" fill="#c64584"/><polygon points="592.8,780.4 594.4,774.3 599,774.3 601.4,778.5 600.2,783.8" fill="#bf3b7b"/><polygon points="655.6,824.7 650.3,827.1 651.4,833.2 659.3,829.9" fill="#c13a7b"/><polygon points="690.5,847 692.8,848.9 688.7,855.8 686,855.9 683.5,850.2" fill="#c23e7e"/><polygon points="727.4,865.2 733.1,868.7 734,874.1 733.6,874.4 730,874.7 723.5,870.5 723.2,869.7 723.4,868.2" fill="#c13a7b"/><polygon points="664.7,796.9 662.5,800 657.5,799.7 656.1,798 657.5,792.2 661.2,791.8" fill="#c44180"/><polygon points="671.6,831 674.5,836.7 674.5,837.5 670.2,841.1 664.2,839 663.5,831.6 667.3,829.7" fill="#c44180"/><polygon points="690.8,881.8 691.3,877.8 696.1,874.4 700.8,876.6 700.9,882.8 693.2,884.4" fill="#c23e7e"/><polygon points="605.1,829.5 607.4,830.2 610.3,836.1 605.6,838.3 601.5,836.1" fill="#c44180"/><polygon points="614.3,866.3 618.2,868.6 616.4,873.6 612.3,872.5 611.1,868.5" fill="#c13a7b"/><polygon points="798.3,971.7 796.9,973.2 801.3,979.1 802.8,979.3 802.8,971.5" fill="#c64584"/><polygon points="708.9,776.1 709.2,774.3 701.5,774.3 703.6,778.9 704.8,779.1" fill="#bf3b7b"/><polygon points="703.7,967.4 699.7,963.5 709.3,958.9 709.7,959.1 710.9,962.8 709.9,965.5" fill="#c64584"/><polygon points="687.4,930.4 682.2,925.6 677.9,925.9 677.3,926.6 678.2,932.8 686.4,933.2 686.9,932.9" fill="#c44180"/><polygon points="694.4,921.5 689.8,914.9 693.1,911.5 693.7,911.3 700.3,913.6 699.9,917.8" fill="#c64584"/><polygon points="676.3,818.6 677.1,824.6 681.4,824.8 683.6,821.8 678.2,818" fill="#c13a7b"/><polygon points="753,846.1 759.1,852.2 759.2,852.9 757.7,854.7 749.8,854.3 749.6,854.1" fill="#c64584"/><polygon points="777.6,801.4 779.7,801.9 782.9,794.7 780.7,792.7 775.2,794.1" fill="#bf3b7b"/><polygon points="671.9,908.5 673,916.1 663.9,917.2 663.5,916.2 667.8,908.4" fill="#bf3b7b"/><polygon points="719.6,782.4 722.5,774.9 726.5,774.9 728.5,782.7 720.5,783.4" fill="#bf3b7b"/><polygon points="785.1,982.3 781.9,978.4 789.6,973.6 791.6,974.4 790.5,980.3" fill="#c23e7e"/><polygon points="784.7,919.7 784.7,919.6 779.4,916.1 775.8,921.5 779.2,924.6 782.5,924" fill="#c44180"/><polygon points="635.5,990 633.5,988.1 630,988.6 627.1,992.8 635.5,992.8" fill="#c44180"/><polygon points="662.2,941.5 661.4,941.7 659.5,947.5 663.1,951.1 667.4,949.8 668.8,947.6 668.6,946.8" fill="#c13a7b"/><polygon points="730.8,964.3 723.6,964.3 723.6,957.5 726,955.1 732.5,960.3" fill="#c23e7e"/><polygon points="665.7,819.5 658.6,818.3 657.5,819 657,823.5 660.9,829 661.9,829.3 665.6,827.4" fill="#c13a7b"/><polygon points="641.4,835.5 643.4,837.2 641.4,842.8 633.1,840.4 635.4,835.6" fill="#bf3b7b"/><polygon points="645.2,804 641.6,807.9 643.7,811.3 647.2,812.2 648.5,807.9 646.2,803.8" fill="#c64584"/><polygon points="608.5,947.1 614.1,950.7 617.9,946.9 614.9,942.3 609.2,943.6" fill="#c13a7b"/><polygon points="639.6,968.2 641.4,969.6 641.3,977 637.8,977.4 636.5,976.4 635.2,969.2" fill="#bf3b7b"/><polygon points="593.9,872.7 590.9,870.5 591.2,866.1 595,863.5 600.5,868.1 600.2,869" fill="#c23e7e"/><polygon points="730.5,822.3 731.6,820.5 737.8,821 739.2,826.8 732.4,827.7" fill="#c23e7e"/><polygon points="477.5,985.1 482.7,991.6 482.6,992.7 476.5,992.7 476.5,985.1" fill="#c64584"/><polygon points="601.9,784.6 603.2,779.3 610.6,776.4 611,784.2 602.6,786.2" fill="#bf3b7b"/><polygon points="483.6,910.3 490.7,911.1 491.9,909 489.5,902.9 486.5,901.9 485,903" fill="#c23e7e"/><polygon points="482.2,796.5 483.4,795.8 481.5,784.6 476.1,783.1 476.1,796.2" fill="#bf3b7b"/><polygon points="593.5,895.4 594.6,890.5 599.4,887.8 604.1,891.6 603.8,892.6 595.2,896.4" fill="#c13a7b"/><polygon points="580.6,940.4 572.9,937 576.1,929.9 582.7,932.9" fill="#c44180"/><polygon points="787.5,991.4 784,987.7 780.5,989.4 780.2,992.9 787.4,992.9" fill="#c13a7b"/><polygon points="557.7,968 553.9,976.4 560.6,979.2 563.2,971.9 559.9,967.7" fill="#c44180"/><polygon points="488.9,932.1 488.2,932.1 484.1,927.1 486.8,923.1 490.1,922.7 491.8,927" fill="#c44180"/><polygon points="660.9,985.9 663.6,992.6 667,992.6 669.9,987.8 665.2,982" fill="#c23e7e"/><polygon points="734.6,801.8 731.1,804.1 727.7,799.4 728.7,796.3 731.1,795 733.3,795.7" fill="#c23e7e"/><polygon points="525.7,827.3 526.2,819.9 525.6,819.3 519.5,823.7 521.9,829" fill="#c44180"/><polygon points="709.2,874.1 707.1,873.9 703.1,876.6 703.1,882.5 706,884.7 708,884.4 710.9,877.6" fill="#bf3b7b"/><polygon points="632.7,946.4 627.2,942.7 622.9,947.3 627.3,952.6 629.6,952.8" fill="#c64584"/><polygon points="591.2,814.2 591.8,816.2 597.3,818.4 601.3,815.3 601.5,811.8 595.3,808.8 593.2,809.9" fill="#c64584"/><polygon points="639.4,946.2 638.7,955.7 633.8,955.9 631.2,953.3 634.3,946.8 638.8,945.6" fill="#c13a7b"/><polygon points="608.4,903.4 611.7,909.8 604.7,913.9 600.5,906.3 607.9,903.3" fill="#bf3b7b"/><polygon points="556.2,916.6 556.1,916.3 547.2,912.4 546.2,919.9 547.8,921.7 552,921.8" fill="#c64584"/><polygon points="476.9,948.5 476.9,956.9 483,952.1 482.4,949" fill="#c64584"/><polygon points="643.8,903 639.9,900.7 637,901.7 635.8,905.4 637.5,909.2 643.9,906.1" fill="#bf3b7b"/><polygon points="764.5,877.7 766.4,882.3 774.9,880.7 775.1,879.2 770.3,874.4 767,874.4" fill="#c64584"/><polygon points="720.3,843.6 723,841.5 728.3,843.4 727.1,847.9 721.7,850.5" fill="#c44180"/><polygon points="787.7,943.9 793,940.9 796.4,942.2 796.9,943.2 794.5,948 789.1,946.9" fill="#c13a7b"/><polygon points="744.3,803 744.5,800.9 739.6,795.2 736.1,796.1 737.4,802.4 742.8,804.1" fill="#c13a7b"/><polygon points="761.1,993 769.6,993 769.3,990.8 764.6,987.8" fill="#c13a7b"/><polygon points="770,934.6 765.4,928.4 762.6,929.4 759.4,935.4 760.1,936.7 768.4,936.9" fill="#c64584"/><polygon points="509.3,988.4 504.6,992.3 504.5,993.1 512.9,993.1" fill="#c64584"/><polygon points="797.3,783.5 802.5,783 802.5,774.8 798.8,774.8 796.3,781.2 797.1,783.3" fill="#bf3b7b"/><polygon points="753.8,988.1 749.8,988.1 749.3,992.8 756.9,992.8" fill="#bf3b7b"/><polygon points="733.7,876.9 733.5,883.8 729.4,885.6 728,884.9 727.1,881.3 730.4,877.2" fill="#c23e7e"/><polygon points="771.2,908 774,904.2 770.7,899.2 765.5,900.6 767,906.9 769.7,908.5" fill="#c23e7e"/><polygon points="767.6,790.8 765.5,783.7 766.7,781.9 775.1,782 771.2,790.5" fill="#c23e7e"/><polygon points="745.2,952 744.3,958.3 743.4,959.1 737.6,957.8 737.6,950.9 744.4,950.7" fill="#c13a7b"/><polygon points="617.7,992.2 618.3,983.4 617.1,982.5 610.3,983.6 609.6,985.7 617,992.2" fill="#c44180"/><polygon points="550.2,838.2 543.3,837.3 542.8,835.2 546.1,830.8 551.2,832" fill="#c13a7b"/><polygon points="707.4,825 711.4,825.5 714.4,830.3 709.9,835.4 704.4,830" fill="#c23e7e"/><polygon points="720.6,870.3 712,871.9 711.1,872.8 712.8,876.5 718.5,878.3 720.9,871" fill="#c64584"/><polygon points="695.2,804.6 698.8,803.8 701.2,807.1 698.8,811.6 693,810.8" fill="#c44180"/><polygon points="588.3,970.4 592.4,967.1 598.4,971.7 597.5,975.5 596.3,976.6 589.4,974.1" fill="#c44180"/><polygon points="648.4,963.3 647.5,966.4 642.7,967.4 641,966 642.2,959.6 644.8,959.4" fill="#c13a7b"/><polygon points="637.1,773.6 650.1,773.6 650,774.4 644.1,778.7 637.1,776" fill="#bf3b7b"/><polygon points="674.9,816.2 671.1,815.1 670.4,810 674.5,806.2 679.9,811.1 677.1,815.5" fill="#c23e7e"/><polygon points="603.6,927.4 605.2,920.4 611.3,922.1 611.4,926 605.9,928.8" fill="#c44180"/><polygon points="504.3,928.5 508.1,933 511.9,932.5 514.2,929.4 509.5,926.1" fill="#c23e7e"/><polygon points="672.5,852.1 672.3,854.9 665.9,857.9 663,852 670.3,849.2" fill="#c13a7b"/><polygon points="497.5,987.4 502.2,992.1 502.2,992.9 495,992.9 495.8,988.1" fill="#c23e7e"/><polygon points="721.8,830.8 722.6,831.6 729.8,830.5 730.8,828.7 728.8,823.1 724.1,823.9" fill="#c13a7b"/><polygon points="584.1,953.2 585.4,954.8 585.3,958 582.3,960.6 578.3,959.2 577.6,954.7" fill="#c13a7b"/><polygon points="499.5,960.6 491.8,958 491.5,956.2 495.3,952 501.5,953.2 501.2,959.9" fill="#c13a7b"/><polygon points="794.3,923 797.4,919.1 802.3,921.5 802.3,924.9 796.4,928 795,927.7" fill="#c44180"/><polygon points="691.5,892.8 693.1,895.3 692.8,897 687.8,900.8 686.7,900.7 683.4,895.2 683.7,894.5" fill="#c64584"/><polygon points="788.8,788.5 783.7,784.6 782.5,784.6 782,790.9 784.2,792.9 788,792.7" fill="#c64584"/><polygon points="529.5,842 522.5,847.3 519.6,844.4 522.3,838.2 528.9,840.3" fill="#c13a7b"/><polygon points="747.9,898.4 747.9,889.7 752.1,888.9 755.4,896.7" fill="#c64584"/><polygon points="695.3,972.4 695.6,966.7 697.8,964.9 698,965 702,968.8 702.1,975 698.3,975" fill="#c23e7e"/><polygon points="584.9,871.9 588.8,870.1 589,865.8 583.3,862.9 581.2,863.6 579.7,867.2" fill="#bf3b7b"/><polygon points="637.9,993 644.3,993 642.7,989.9 637.9,990.4" fill="#c23e7e"/><polygon points="545.8,923 544.7,928.6 539.6,929.5 536.5,923.4 537.4,922.3 544.3,921.2" fill="#c13a7b"/><polygon points="648.8,932.5 647.3,930.2 641.4,930.1 639.9,934.6 641.1,936.5 647,935.6" fill="#c13a7b"/><polygon points="583.8,835.6 583,836 581.6,844 583.4,846.1 587.9,844.1 589,840.2 584.5,835.6" fill="#c64584"/><polygon points="789.6,850.9 790.5,849.5 796.5,849.5 798.6,851.7 794,857.2 791.3,857.2" fill="#c13a7b"/><polygon points="791.5,911.4 791.5,911.4 793.1,907.6 802,907 802,908.5 796.7,915" fill="#c23e7e"/><polygon points="603.9,825.9 605.8,820 602.4,817.2 598.8,820 599.7,824" fill="#c13a7b"/><polygon points="782.8,926.1 779.5,926.7 777.7,932.3 783.9,933.6 787.1,930.8" fill="#c13a7b"/><polygon points="509.3,821.5 509.9,814.4 497,813 501,823.4 509.2,821.7" fill="#c44180"/><polygon points="657.6,864.3 655.4,869.1 652,868.9 650.4,865.4 653.8,861.5" fill="#c44180"/><polygon points="788.8,990.1 785.2,986.3 785.5,984 790.6,982.1 793.3,986.1" fill="#c64584"/><polygon points="781.7,850.8 780,848.5 781.9,842.9 786.4,842 788.6,848.2 787.6,849.6" fill="#c64584"/><polygon points="746.2,939.1 743.2,937.5 744.7,928.2 748.9,927.3 751.6,934.1" fill="#bf3b7b"/><polygon points="611,847.7 613.2,845.8 613.5,838.8 611.4,838.2 606.7,840.4 607.4,845.9" fill="#c13a7b"/><polygon points="691.6,778.7 694.5,773.9 688,773.9 687.9,776.3" fill="#c64584"/><polygon points="543.1,825.6 544.5,829.6 541.3,833.9 535.9,830.9 537.4,827.1" fill="#c64584"/><polygon points="544.8,987.7 542.9,992.3 537.4,992.3 539,985.4 540.9,984.7" fill="#bf3b7b"/><polygon points="578.8,971.5 574.7,970.5 572.4,973.3 573.9,977.1 577.5,977.3 578,976.9" fill="#c23e7e"/><polygon points="523,947.4 528,943.9 528.1,943.6 523.6,937.9 518.7,942" fill="#c13a7b"/><polygon points="505.1,972.7 505.6,979.2 507.3,979.9 513.4,973.8 513.2,972.8 507.4,970.8" fill="#c44180"/><polygon points="716.6,971.9 720.2,969.1 721,966 712.8,964 711.8,966.5 713.1,970.4" fill="#c23e7e"/><polygon points="618.4,975.2 618.6,980.6 619.8,981.6 624.5,980.7 625.9,977.4 623.8,973" fill="#c64584"/><polygon points="746.8,952.4 746,958.3 752.2,958.8 754,953.2" fill="#c64584"/><polygon points="710.9,864.4 707.1,863 704.1,865.5 707.4,871.3 709.5,871.4 710.4,870.6" fill="#c13a7b"/><polygon points="526.2,862 520.8,864.7 520.4,869 524.1,871.7 529.6,864.5" fill="#c64584"/><polygon points="746.4,985 739.2,986.2 737,982.6 739,977.8 746.7,980.8" fill="#c44180"/><polygon points="567.2,861.5 565,860 561.3,861.9 560.1,867 562.1,867.7 567.5,865.7" fill="#c64584"/><polygon points="795.8,881.6 796.6,877.6 802.6,876.1 802.6,885.5" fill="#bf3b7b"/><polygon points="638.7,792.3 638.1,788.7 634.3,786.7 631,790.3 636.2,795.5 636.6,795.3" fill="#bf3b7b"/><polygon points="646.1,873.5 643,870.2 645.7,866.7 648,866.9 649.5,870.2 646.4,873.6" fill="#c64584"/><polygon points="640.7,823.7 637.3,818.5 642.8,814.3 647.1,815.3 647.3,815.5 644.5,823.2 641.7,824.1" fill="#bf3b7b"/><polygon points="766.7,968 764.2,973.3 767.7,978 774.5,972.5 774.5,971.5" fill="#c23e7e"/><polygon points="544.8,910.2 535.9,911.5 534.8,906 542,903.4" fill="#c64584"/><polygon points="683.8,914.7 685.9,915.8 681.9,923.4 677.4,923.6 675.8,917.4" fill="#c64584"/><polygon points="515.9,963 519.6,961 522.6,962.2 521.1,966.7 517.1,967.8" fill="#c23e7e"/><polygon points="664.8,785.2 661.8,779.9 666.3,776 668.8,778.5 667.5,784.5" fill="#c13a7b"/><polygon points="778.7,912.9 773.2,908.7 776,904.8 779.9,903.9 780.8,904.5 782.1,908.8" fill="#c64584"/><polygon points="565.1,902.5 572.3,900.6 567.1,893.7 561.9,895.4 561.6,897.7" fill="#c23e7e"/><polygon points="624.2,855 626.9,855 629.6,859.3 627.1,865.3 626.5,865.8 624.4,865.3 621.4,857.6" fill="#bf3b7b"/><polygon points="545.1,773.8 534.5,773.8 534.8,780.3 540.5,780.7" fill="#bf3b7b"/><polygon points="546.6,790.5 552.2,794.1 560.7,786.1 560.7,784.6 555.4,779.6 546.7,788.2" fill="#c13a7b"/><polygon points="527.6,915.2 533.9,914.5 535.2,921 534.4,922.2 532.6,922.6 526.7,919.2" fill="#c64584"/><polygon points="670.8,946.6 671,947.4 677.3,948.7 680.6,944.6 674.5,939.1" fill="#bf3b7b"/><polygon points="499.9,917.7 493.7,917.5 492.7,912.9 493.9,910.7 499.3,910.1 502,915.8" fill="#c13a7b"/><polygon points="544.1,875 535.5,875.5 536.3,869.2 542.1,868.2" fill="#c64584"/><polygon points="571.3,795.5 571.2,795.4 566.3,794.5 560.6,803 561.1,803.5 569.4,802.1" fill="#c13a7b"/><polygon points="802.5,992.4 803.1,992.4 803.1,981.8 801.6,981.6 797.4,986.5" fill="#bf3b7b"/><polygon points="758.8,865.5 757.1,863.4 750.8,863.5 748.2,866.7 754.2,871" fill="#c44180"/><polygon points="584.3,833.2 583.4,824.9 587.9,823.5 591.7,829 591.5,829.6 584.9,833.3" fill="#c23e7e"/><polygon points="702.4,795.7 699.7,792 699.8,791.8 706.9,787.7 707.8,788.1 709.6,793.1 707.1,796.4" fill="#c23e7e"/><polygon points="517.6,953.9 518.7,959.2 514.8,961.4 512.3,960.1 513.1,953.5" fill="#c64584"/><polygon points="573.5,807.8 569.5,804.2 561.5,805.6 562.3,807.8 569.5,811" fill="#bf3b7b"/><polygon points="702,992.9 693.3,992.9 696.4,987.9 699.7,988" fill="#bf3b7b"/><polygon points="513.3,941.3 513.6,941.1 511.9,934.4 507.9,934.9 504.5,940.6 504.9,941.1" fill="#c64584"/><polygon points="513.8,808.8 507.3,801.8 511.7,793.5 517.6,797.5 514.7,808.6" fill="#c23e7e"/><polygon points="636,912 628,915 631.3,922.1 633.7,921.7 636.2,912.4" fill="#c44180"/><polygon points="542.9,849 535.3,849.9 533.6,843.6 540.6,842 542.9,848.9" fill="#c64584"/><polygon points="791.6,931.8 793.5,938.6 797.1,939.9 799.7,935 795.8,930.2 794.4,929.9" fill="#c13a7b"/><polygon points="665.4,932.4 660.1,927.5 660.1,924.4 662.8,921.2 668.3,926.6" fill="#c23e7e"/><polygon points="769.4,833.8 772.7,830 777.6,832.4 776.1,837.5 771.9,838.2" fill="#bf3b7b"/><polygon points="738.2,848.7 738.1,848 730.5,843.9 730.5,843.9 729.2,848.5 732.5,852.9" fill="#c23e7e"/><polygon points="755.4,795.3 750.6,795.2 749,789.5 754.5,787.3 757.1,792.4" fill="#c23e7e"/><polygon points="550.8,864.7 550.1,858.8 545.4,857.4 543.3,860 544.1,865.2" fill="#c23e7e"/><polygon points="523.9,948.9 528.8,945.4 533.1,951.2 533.1,951.4 527.1,953.7 523.5,950.2" fill="#c23e7e"/><polygon points="576.6,857.3 576.7,855.5 582.4,850.9 585.5,855.5 582.5,860.9 580.4,861.5" fill="#bf3b7b"/><polygon points="790.2,957.2 786.1,955 784.1,956 785.5,964 790.2,960.6" fill="#c44180"/><polygon points="693,981.6 696.7,976.8 694,974.4 690.3,975.6 688.9,980.6" fill="#c64584"/><polygon points="775.4,935.4 777.1,934.1 783.4,935.5 783.4,941.9 780.3,942.4" fill="#c23e7e"/><polygon points="789.6,910.5 791.1,906.9 789.7,903.4 782.9,904.5 784.2,908.6" fill="#c64584"/><polygon points="560.9,939 561.4,941.3 567.2,942.5 568.9,938.3 563.8,935.1" fill="#bf3b7b"/><polygon points="753.4,778.1 754.7,779 758.8,774.3 752.3,774.3" fill="#c23e7e"/><polygon points="725.4,950.4 717.1,948.2 716.1,954.5 722.3,955.9 724.8,953.5" fill="#c44180"/><polygon points="742,844.5 741.1,837.5 742,836.6 748.6,838.8 750,842.7" fill="#c44180"/><polygon points="740.4,812.9 741.2,815.4 738.2,819.4 731.6,818.9 730.3,812.4 730.7,812" fill="#bf3b7b"/><polygon points="580.9,804.1 580.8,799.3 584,797.7 586.3,799.6 585.8,803.1" fill="#c64584"/><polygon points="787.7,838.3 784.4,830.2 785.1,828.8 792.2,830.7 790.6,837.2" fill="#c13a7b"/><polygon points="802.6,863 798,863.5 797.3,867.1 802.6,870" fill="#c64584"/><polygon points="624.8,890.5 624.6,890.9 627.7,895.8 632.5,896 634,890.5 632.6,889.3" fill="#c13a7b"/><polygon points="700.7,928.6 704.5,923.2 700.7,919.7 695.3,923.3 695.1,926" fill="#c13a7b"/><polygon points="595.1,937.3 593.6,937.3 589.9,943.6 595.9,946.8 597.4,946.4 598.1,940.1" fill="#c64584"/><polygon points="495.4,938 490.3,933.8 493.5,928.1 500.1,928.9 496.3,937.8" fill="#bf3b7b"/><polygon points="765.3,986.4 764.8,984 767.6,980.5 773.2,984.7 773.3,985.6 770,989.4" fill="#bf3b7b"/><polygon points="587.6,790.7 586.5,791.5 585.9,795.2 588.2,797.3 592.7,796.4 593.2,792.9" fill="#c13a7b"/><polygon points="584.1,967.7 583.5,962.5 586.5,960 591,963.8 590.8,965.5 587.1,968.6" fill="#c13a7b"/><polygon points="580.2,979.6 579.7,980 581.1,985.6 582.9,986.4 586.3,984.3 584.7,979.7" fill="#c44180"/><polygon points="637.4,866.1 639,868.4 640.9,868.6 644.1,864.5 640.6,858.6 640.6,858.6 638.6,860.2" fill="#c13a7b"/><polygon points="728.1,863.4 733.8,866.9 737.5,861.7 731.7,858.2 729,859.8" fill="#c23e7e"/><polygon points="754.5,967.8 748.5,970.3 751.2,976.4 754.4,976.3 756.8,973.3" fill="#c64584"/><polygon points="639.6,825.9 633.6,829.7 635.2,833.6 641.1,833.5 640.7,826.3" fill="#c64584"/><polygon points="710,778.1 706.1,781 708.1,785.2 708.9,785.5 713.8,782.7" fill="#c44180"/><polygon points="595.1,909 587.6,909.1 586.3,916 593.8,916.4" fill="#c13a7b"/><polygon points="663.4,806.5 662.5,802.1 657.6,801.8 656.7,806.1 659.6,808.5" fill="#c64584"/><polygon points="693.4,861.4 692.1,865.8 695.8,868.6 699.2,864.4 696.8,861.2" fill="#c13a7b"/><polygon points="538.1,797.2 530.3,801.9 530.1,806.3 538.6,807.9 541.5,805.9" fill="#c44180"/><polygon points="724.8,882.2 725.8,885.9 719.5,889 717.8,888.6 717.7,888.5 719.6,881.2" fill="#c64584"/><polygon points="648.6,898.5 647.1,894.9 643.3,894.6 641.3,899.1 645.1,901.2" fill="#bf3b7b"/><polygon points="608.1,935.8 615.1,936.1 614.1,940.4 608.8,941.6 606.9,938.6" fill="#c64584"/></g><polyline points="474,845.1 495.8,837.9 517.5,827 543.7,816.1 565.4,805.3 582.8,798.7 604.6,799.6 626.4,802.7 644.1,804.8 653.4,810.3" fill="none" stroke="#c0b7ba" stroke-width="5.4" stroke-linecap="round" stroke-linejoin="round"/><polyline points="653.4,810.3 664.3,816.8 677.4,825.5 690.4,829.9" fill="none" stroke="#c0b7ba" stroke-width="4" stroke-linecap="round" stroke-linejoin="round"/><polyline points="582.8,798.7 581.7,783.1 578.5,772.2" fill="none" stroke="#c0b7ba" stroke-width="3.4" stroke-linecap="round" stroke-linejoin="round"/><polyline points="526.2,788.5 531,797.2 539.3,816.8" fill="none" stroke="#c0b7ba" stroke-width="4" stroke-linecap="round" stroke-linejoin="round"/><polyline points="487.1,854.9 497.9,865.8 513.2,876.7 519.7,887.5 539.3,894.1 556.7,905 567.6,922.4 567.6,942 565.4,957.2 576.3,970.3 578.5,989.9" fill="none" stroke="#c0b7ba" stroke-width="3.3" stroke-linecap="round" stroke-linejoin="round"/><polyline points="548,844 561.1,861.4 567.6,874.5" fill="none" stroke="#c0b7ba" stroke-width="2.2" stroke-linecap="round" stroke-linejoin="round"/><polyline points="591.5,841.8 600.3,857.1 609,865.8" fill="none" stroke="#c0b7ba" stroke-width="2.6" stroke-linecap="round" stroke-linejoin="round"/><polyline points="474,891.9 482.7,909.3 484.9,926.7 478.4,944.1" fill="none" stroke="#c0b7ba" stroke-width="2.6" stroke-linecap="round" stroke-linejoin="round"/><polyline points="474,950.7 487.1,959.4 495.8,974.6" fill="none" stroke="#c0b7ba" stroke-width="2.2" stroke-linecap="round" stroke-linejoin="round"/><polyline points="613.3,935.4 626.4,939.8 644,937.6" fill="none" stroke="#c0b7ba" stroke-width="2.2" stroke-linecap="round" stroke-linejoin="round"/><polyline points="506.7,819.6 511.4,827" fill="none" stroke="#c0b7ba" stroke-width="4" stroke-linecap="round" stroke-linejoin="round"/><polyline points="649.1,868 659.9,881 668.7,894.1 673,905" fill="none" stroke="#c0b7ba" stroke-width="4.2" stroke-linecap="round" stroke-linejoin="round"/><polyline points="662.1,911.5 673,926.7 679.5,935.4" fill="none" stroke="#c0b7ba" stroke-width="2.2" stroke-linecap="round" stroke-linejoin="round"/><polyline points="701.3,848.4 723.1,852.7 740.5,857.1" fill="none" stroke="#c0b7ba" stroke-width="2.2" stroke-linecap="round" stroke-linejoin="round"/><polyline points="729.6,796.1 744.8,804.8 757.9,813.5" fill="none" stroke="#c0b7ba" stroke-width="2.2" stroke-linecap="round" stroke-linejoin="round"/><polyline points="766.6,822.2 788.4,817.9 804.7,815.7" fill="none" stroke="#c0b7ba" stroke-width="2.2" stroke-linecap="round" stroke-linejoin="round"/><polyline points="757.9,841.8 771,852.7 779.7,857.1" fill="none" stroke="#c0b7ba" stroke-width="1.8" stroke-linecap="round" stroke-linejoin="round"/><polyline points="723.1,920.2 734,931.1 744.8,942" fill="none" stroke="#c0b7ba" stroke-width="2.2" stroke-linecap="round" stroke-linejoin="round"/><polyline points="636,797.2 644.7,791.8 648,798.3" fill="none" stroke="#c0b7ba" stroke-width="3" stroke-linecap="round" stroke-linejoin="round"/><polyline points="644.7,935.4 651.2,944.1 653.4,955" fill="none" stroke="#c0b7ba" stroke-width="2.2" stroke-linecap="round" stroke-linejoin="round"/><polyline points="699.1,776.5 712.2,783.1 727.4,780.9" fill="none" stroke="#c0b7ba" stroke-width="2.2" stroke-linecap="round" stroke-linejoin="round"/></g><path d="M750.3 981.9H802.1M750.9 979.9V983.9M801.5 979.9V983.9" stroke="#fff" stroke-width="1.6" fill="none"/><text x="776.2" y="978.9" font-family="Liberation Sans" font-weight="bold" font-size="5.2" fill="#fff" text-anchor="middle">200&#181;m</text><text x="776.2" y="989.5" font-family="Liberation Sans" font-weight="bold" font-size="5.2" fill="#fff" text-anchor="middle">100X</text></g>
</svg>
</body></html>
